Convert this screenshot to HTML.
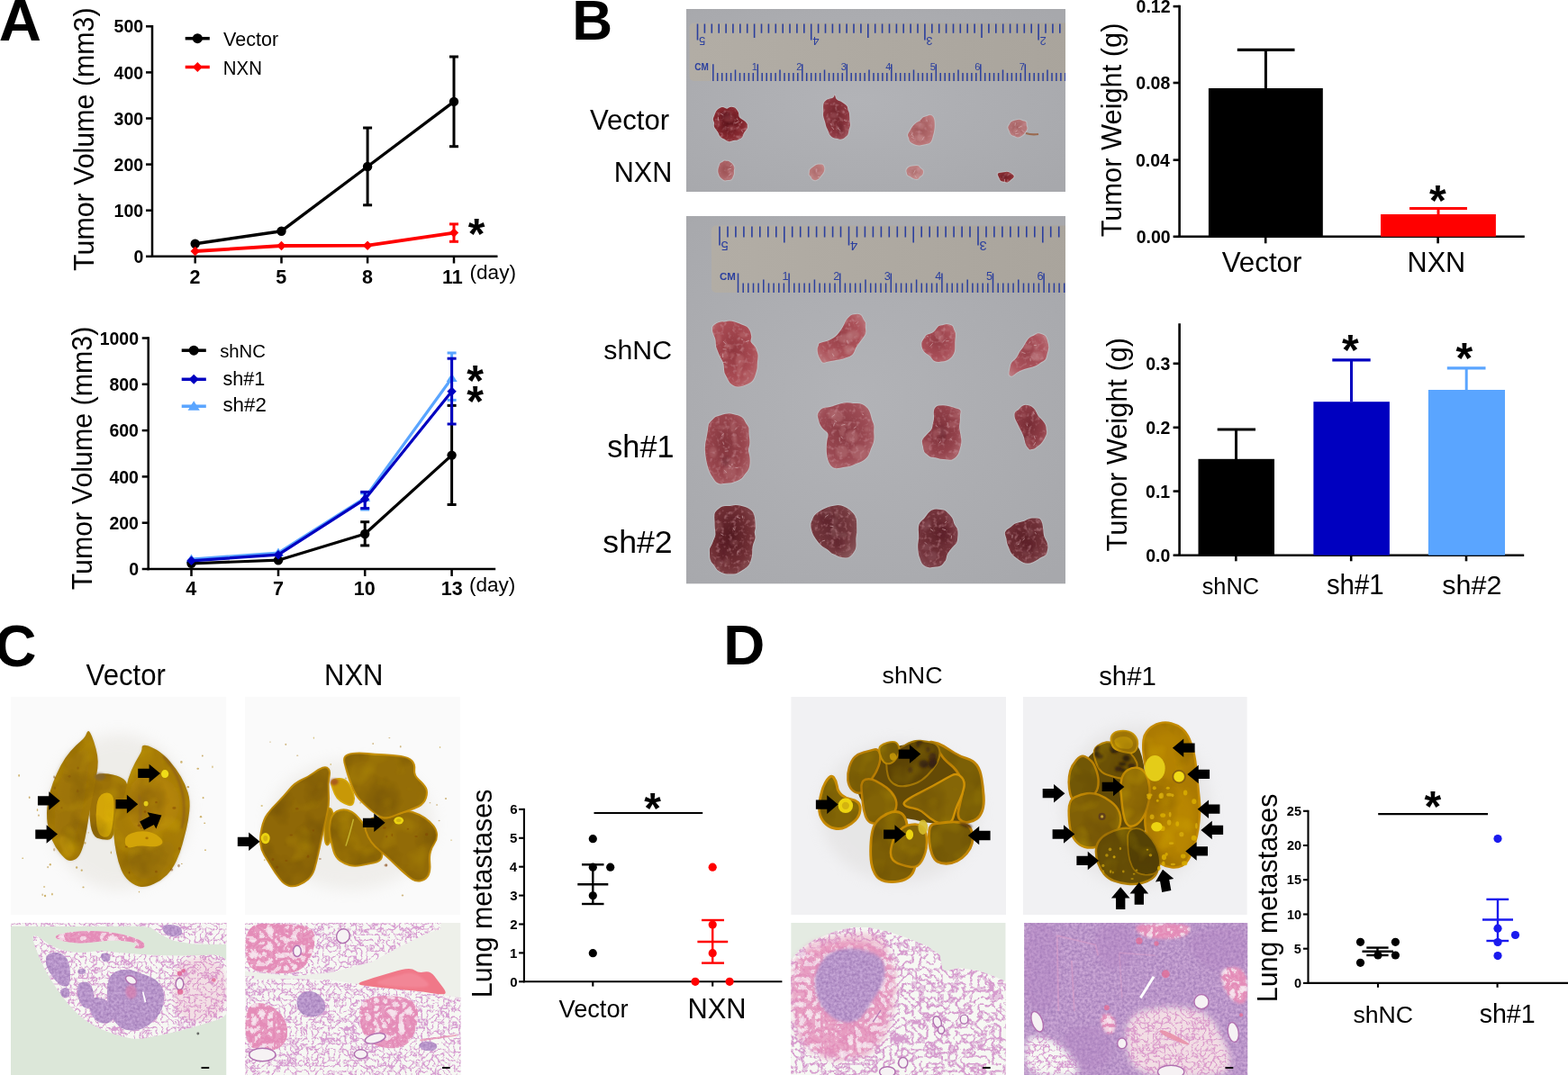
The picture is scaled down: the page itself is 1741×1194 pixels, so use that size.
<!DOCTYPE html><html><head><meta charset="utf-8"><title>Figure</title><style>html,body{margin:0;padding:0;background:#fff;}svg{display:block}</style></head><body>
<svg xmlns="http://www.w3.org/2000/svg" width="1741" height="1194" viewBox="0 0 1741 1194" font-family="Liberation Sans, Arial, sans-serif">
<defs><filter id="bl1" x="-20%" y="-20%" width="140%" height="140%"><feGaussianBlur stdDeviation="1"/></filter><filter id="bl2" x="-20%" y="-20%" width="140%" height="140%"><feGaussianBlur stdDeviation="2"/></filter><filter id="bl6" x="-50%" y="-50%" width="200%" height="200%"><feGaussianBlur stdDeviation="6"/></filter><filter id="bl10" x="-50%" y="-50%" width="200%" height="200%"><feGaussianBlur stdDeviation="10"/></filter></defs>
<rect x="0" y="0" width="1741" height="1194" fill="#fff"/>
<text font-size="65.30" font-weight="bold" fill="#000" transform="translate(-1.16,44.60) scale(1,1.000)">A</text>
<text font-size="62.13" font-weight="bold" fill="#000" transform="translate(635.25,44.20) scale(1,1.000)">B</text>
<text font-size="64.00" font-weight="bold" fill="#000" transform="translate(-5.86,739.90) scale(1,1.000)">C</text>
<text font-size="63.77" font-weight="bold" fill="#000" transform="translate(803.14,738.00) scale(1,1.000)">D</text>
<line x1="169" y1="28.1" x2="169" y2="286.1" stroke="#000" stroke-width="2.5" stroke-linecap="butt"/>
<line x1="162" y1="284.8" x2="169" y2="284.8" stroke="#000" stroke-width="2.5" stroke-linecap="butt"/>
<text font-size="19.50" font-weight="bold" fill="#000" transform="translate(148.46,291.90) scale(1,1.040)">0</text>
<line x1="162" y1="233.7" x2="169" y2="233.7" stroke="#000" stroke-width="2.5" stroke-linecap="butt"/>
<text font-size="19.50" font-weight="bold" fill="#000" transform="translate(126.62,240.80) scale(1,1.040)">100</text>
<line x1="162" y1="182.6" x2="169" y2="182.6" stroke="#000" stroke-width="2.5" stroke-linecap="butt"/>
<text font-size="19.50" font-weight="bold" fill="#000" transform="translate(126.62,189.70) scale(1,1.040)">200</text>
<line x1="162" y1="131.5" x2="169" y2="131.5" stroke="#000" stroke-width="2.5" stroke-linecap="butt"/>
<text font-size="19.50" font-weight="bold" fill="#000" transform="translate(126.62,138.60) scale(1,1.040)">300</text>
<line x1="162" y1="80.4" x2="169" y2="80.4" stroke="#000" stroke-width="2.5" stroke-linecap="butt"/>
<text font-size="19.50" font-weight="bold" fill="#000" transform="translate(126.62,87.50) scale(1,1.040)">400</text>
<line x1="162" y1="29.3" x2="169" y2="29.3" stroke="#000" stroke-width="2.5" stroke-linecap="butt"/>
<text font-size="19.50" font-weight="bold" fill="#000" transform="translate(126.62,36.40) scale(1,1.040)">500</text>
<line x1="167.8" y1="284.8" x2="552.5" y2="284.8" stroke="#000" stroke-width="2.5" stroke-linecap="butt"/>
<line x1="216.7" y1="284.8" x2="216.7" y2="292.5" stroke="#000" stroke-width="2.5" stroke-linecap="butt"/>
<line x1="312.5" y1="284.8" x2="312.5" y2="292.5" stroke="#000" stroke-width="2.5" stroke-linecap="butt"/>
<line x1="408.1" y1="284.8" x2="408.1" y2="292.5" stroke="#000" stroke-width="2.5" stroke-linecap="butt"/>
<line x1="504" y1="284.8" x2="504" y2="292.5" stroke="#000" stroke-width="2.5" stroke-linecap="butt"/>
<text font-size="21.50" font-weight="bold" fill="#000" transform="translate(210.39,315.30) scale(1,1.060)">2</text>
<text font-size="21.50" font-weight="bold" fill="#000" transform="translate(306.28,315.30) scale(1,1.060)">5</text>
<text font-size="21.50" font-weight="bold" fill="#000" transform="translate(401.98,315.30) scale(1,1.060)">8</text>
<text font-size="21.50" font-weight="bold" fill="#000" transform="translate(491.03,315.30) scale(1,1.060)">11</text>
<text font-size="22.59" fill="#000" transform="translate(521.54,310.00) scale(1,1.000)">(day)</text>
<text font-size="30.39" transform="translate(103.90,300.91) rotate(-90) scale(1,1.044)">Tumor Volume (mm3)</text>
<line x1="205.7" y1="42.7" x2="232.8" y2="42.7" stroke="#000" stroke-width="3.5" stroke-linecap="butt"/>
<circle cx="219.3" cy="42.7" r="5.5" fill="#000"/>
<text font-size="21.53" fill="#000" transform="translate(248.08,50.90) scale(1,1.037)">Vector</text>
<line x1="205.7" y1="74.5" x2="232.8" y2="74.5" stroke="#f00" stroke-width="3.5" stroke-linecap="butt"/>
<polygon points="219.3,69 224.8,74.5 219.3,80 213.8,74.5" fill="#f00"/>
<text font-size="20.36" fill="#000" transform="translate(247.87,82.80) scale(1,1.068)">NXN</text>
<line x1="408.1" y1="142" x2="408.1" y2="227.8" stroke="#000" stroke-width="3" stroke-linecap="butt"/>
<line x1="403.1" y1="142" x2="413.1" y2="142" stroke="#000" stroke-width="3" stroke-linecap="butt"/>
<line x1="403.1" y1="227.8" x2="413.1" y2="227.8" stroke="#000" stroke-width="3" stroke-linecap="butt"/>
<line x1="504" y1="63" x2="504" y2="162.7" stroke="#000" stroke-width="3" stroke-linecap="butt"/>
<line x1="499" y1="63" x2="509" y2="63" stroke="#000" stroke-width="3" stroke-linecap="butt"/>
<line x1="499" y1="162.7" x2="509" y2="162.7" stroke="#000" stroke-width="3" stroke-linecap="butt"/>
<polyline points="216.7,270.8 312.5,256.7 408.1,185 504,112.9" fill="none" stroke="#000" stroke-width="3.4" stroke-linejoin="round"/>
<circle cx="216.7" cy="270.8" r="5.2" fill="#000"/>
<circle cx="312.5" cy="256.7" r="5.2" fill="#000"/>
<circle cx="408.1" cy="185" r="5.2" fill="#000"/>
<circle cx="504" cy="112.9" r="5.2" fill="#000"/>
<line x1="504" y1="248.9" x2="504" y2="268.3" stroke="#f00" stroke-width="3" stroke-linecap="butt"/>
<line x1="499" y1="248.9" x2="509" y2="248.9" stroke="#f00" stroke-width="3" stroke-linecap="butt"/>
<line x1="499" y1="268.3" x2="509" y2="268.3" stroke="#f00" stroke-width="3" stroke-linecap="butt"/>
<polyline points="216.7,279 312.5,273 408.1,272.7 504,258.6" fill="none" stroke="#f00" stroke-width="3.8" stroke-linejoin="round"/>
<polygon points="216.7,273.8 221.9,279 216.7,284.2 211.5,279" fill="#f00"/>
<polygon points="312.5,267.8 317.7,273 312.5,278.2 307.3,273" fill="#f00"/>
<polygon points="408.1,267.5 413.3,272.7 408.1,277.9 402.9,272.7" fill="#f00"/>
<polygon points="504,253.4 509.2,258.6 504,263.8 498.8,258.6" fill="#f00"/>
<text x="529" y="275.8" font-size="48" font-weight="bold" text-anchor="middle" fill="#000">*</text>
<line x1="164.7" y1="374.2" x2="164.7" y2="633.2" stroke="#000" stroke-width="2.5" stroke-linecap="butt"/>
<line x1="157.7" y1="632" x2="164.7" y2="632" stroke="#000" stroke-width="2.5" stroke-linecap="butt"/>
<text font-size="19.50" font-weight="bold" fill="#000" transform="translate(143.25,639.10) scale(1,1.040)">0</text>
<line x1="157.7" y1="580.7" x2="164.7" y2="580.7" stroke="#000" stroke-width="2.5" stroke-linecap="butt"/>
<text font-size="19.50" font-weight="bold" fill="#000" transform="translate(121.41,587.80) scale(1,1.040)">200</text>
<line x1="157.7" y1="529.4" x2="164.7" y2="529.4" stroke="#000" stroke-width="2.5" stroke-linecap="butt"/>
<text font-size="19.50" font-weight="bold" fill="#000" transform="translate(121.41,536.50) scale(1,1.040)">400</text>
<line x1="157.7" y1="478.1" x2="164.7" y2="478.1" stroke="#000" stroke-width="2.5" stroke-linecap="butt"/>
<text font-size="19.50" font-weight="bold" fill="#000" transform="translate(121.41,485.20) scale(1,1.040)">600</text>
<line x1="157.7" y1="426.8" x2="164.7" y2="426.8" stroke="#000" stroke-width="2.5" stroke-linecap="butt"/>
<text font-size="19.50" font-weight="bold" fill="#000" transform="translate(121.41,433.90) scale(1,1.040)">800</text>
<line x1="157.7" y1="375.5" x2="164.7" y2="375.5" stroke="#000" stroke-width="2.5" stroke-linecap="butt"/>
<text font-size="19.50" font-weight="bold" fill="#000" transform="translate(110.69,382.60) scale(1,1.040)">1000</text>
<line x1="163.4" y1="632" x2="550.2" y2="632" stroke="#000" stroke-width="2.5" stroke-linecap="butt"/>
<line x1="212.5" y1="632" x2="212.5" y2="640" stroke="#000" stroke-width="2.5" stroke-linecap="butt"/>
<line x1="309" y1="632" x2="309" y2="640" stroke="#000" stroke-width="2.5" stroke-linecap="butt"/>
<line x1="405.2" y1="632" x2="405.2" y2="640" stroke="#000" stroke-width="2.5" stroke-linecap="butt"/>
<line x1="501.6" y1="632" x2="501.6" y2="640" stroke="#000" stroke-width="2.5" stroke-linecap="butt"/>
<text font-size="21.50" font-weight="bold" fill="#000" transform="translate(206.37,661.00) scale(1,1.060)">4</text>
<text font-size="21.50" font-weight="bold" fill="#000" transform="translate(303.09,661.00) scale(1,1.060)">7</text>
<text font-size="21.50" font-weight="bold" fill="#000" transform="translate(392.85,661.00) scale(1,1.060)">10</text>
<text font-size="21.50" font-weight="bold" fill="#000" transform="translate(489.75,661.00) scale(1,1.060)">13</text>
<text font-size="22.59" fill="#000" transform="translate(520.94,657.00) scale(1,1.000)">(day)</text>
<text font-size="30.39" transform="translate(102.00,655.31) rotate(-90) scale(1,1.025)">Tumor Volume (mm3)</text>
<line x1="201.7" y1="389.2" x2="228.8" y2="389.2" stroke="#000" stroke-width="3.5" stroke-linecap="butt"/>
<circle cx="215.2" cy="389.2" r="5.5" fill="#000"/>
<text font-size="20.29" fill="#000" transform="translate(244.19,397.30) scale(1,1.026)">shNC</text>
<line x1="201.7" y1="421.3" x2="228.8" y2="421.3" stroke="#0000c0" stroke-width="3.5" stroke-linecap="butt"/>
<polygon points="215.2,415.8 220.7,421.3 215.2,426.8 209.7,421.3" fill="#0000c0"/>
<text font-size="21.60" fill="#000" transform="translate(247.45,428.10) scale(1,1.000)">sh#1</text>
<line x1="201.7" y1="451.2" x2="228.8" y2="451.2" stroke="#5aa5ff" stroke-width="3.5" stroke-linecap="butt"/>
<polygon points="215.2,445.2 221.8,455.7 208.6,455.7" fill="#5aa5ff"/>
<text font-size="22.30" fill="#000" transform="translate(247.43,456.60) scale(1,1.000)">sh#2</text>
<line x1="405.2" y1="579.7" x2="405.2" y2="605.9" stroke="#000" stroke-width="3" stroke-linecap="butt"/>
<line x1="400.2" y1="579.7" x2="410.2" y2="579.7" stroke="#000" stroke-width="3" stroke-linecap="butt"/>
<line x1="400.2" y1="605.9" x2="410.2" y2="605.9" stroke="#000" stroke-width="3" stroke-linecap="butt"/>
<line x1="501.6" y1="450.4" x2="501.6" y2="560.5" stroke="#000" stroke-width="3" stroke-linecap="butt"/>
<line x1="496.6" y1="450.4" x2="506.6" y2="450.4" stroke="#000" stroke-width="3" stroke-linecap="butt"/>
<line x1="496.6" y1="560.5" x2="506.6" y2="560.5" stroke="#000" stroke-width="3" stroke-linecap="butt"/>
<line x1="501.6" y1="392" x2="501.6" y2="444.4" stroke="#5aa5ff" stroke-width="3" stroke-linecap="butt"/>
<line x1="496.6" y1="392" x2="506.6" y2="392" stroke="#5aa5ff" stroke-width="3" stroke-linecap="butt"/>
<line x1="496.6" y1="444.4" x2="506.6" y2="444.4" stroke="#5aa5ff" stroke-width="3" stroke-linecap="butt"/>
<line x1="405.2" y1="548" x2="405.2" y2="566" stroke="#5aa5ff" stroke-width="3" stroke-linecap="butt"/>
<line x1="400.2" y1="548" x2="410.2" y2="548" stroke="#5aa5ff" stroke-width="3" stroke-linecap="butt"/>
<line x1="400.2" y1="566" x2="410.2" y2="566" stroke="#5aa5ff" stroke-width="3" stroke-linecap="butt"/>
<polyline points="212.5,621 309,614 405.2,553 501.6,420" fill="none" stroke="#5aa5ff" stroke-width="3.2" stroke-linejoin="round"/>
<polygon points="212.5,615.5 218.6,625.1 206.4,625.1" fill="#5aa5ff"/>
<polygon points="309,608.5 315.1,618.1 302.9,618.1" fill="#5aa5ff"/>
<polygon points="405.2,547.5 411.2,557.1 399.1,557.1" fill="#5aa5ff"/>
<polygon points="501.6,414.5 507.7,424.1 495.6,424.1" fill="#5aa5ff"/>
<polyline points="212.5,625.8 309,622.2 405.2,593 501.6,505.6" fill="none" stroke="#000" stroke-width="3.2" stroke-linejoin="round"/>
<circle cx="212.5" cy="625.8" r="5.2" fill="#000"/>
<circle cx="309" cy="622.2" r="5.2" fill="#000"/>
<circle cx="405.2" cy="593" r="5.2" fill="#000"/>
<circle cx="501.6" cy="505.6" r="5.2" fill="#000"/>
<line x1="501.6" y1="398.2" x2="501.6" y2="471" stroke="#0000c0" stroke-width="3" stroke-linecap="butt"/>
<line x1="496.6" y1="398.2" x2="506.6" y2="398.2" stroke="#0000c0" stroke-width="3" stroke-linecap="butt"/>
<line x1="496.6" y1="471" x2="506.6" y2="471" stroke="#0000c0" stroke-width="3" stroke-linecap="butt"/>
<line x1="405.2" y1="546.4" x2="405.2" y2="564.6" stroke="#0000c0" stroke-width="3" stroke-linecap="butt"/>
<line x1="400.2" y1="546.4" x2="410.2" y2="546.4" stroke="#0000c0" stroke-width="3" stroke-linecap="butt"/>
<line x1="400.2" y1="564.6" x2="410.2" y2="564.6" stroke="#0000c0" stroke-width="3" stroke-linecap="butt"/>
<polyline points="212.5,622.8 309,616.2 405.2,554.4 501.6,434.7" fill="none" stroke="#0000c0" stroke-width="3.2" stroke-linejoin="round"/>
<polygon points="212.5,617.6 217.7,622.8 212.5,628 207.3,622.8" fill="#0000c0"/>
<polygon points="309,611 314.2,616.2 309,621.4 303.8,616.2" fill="#0000c0"/>
<polygon points="405.2,549.2 410.4,554.4 405.2,559.6 400,554.4" fill="#0000c0"/>
<polygon points="501.6,429.5 506.8,434.7 501.6,439.9 496.4,434.7" fill="#0000c0"/>
<text x="527.7" y="438.5" font-size="48" font-weight="bold" text-anchor="middle" fill="#000">*</text>
<text x="527.7" y="461.6" font-size="48" font-weight="bold" text-anchor="middle" fill="#000">*</text>
<line x1="1309.6" y1="5.8" x2="1309.6" y2="264.1" stroke="#000" stroke-width="2.6" stroke-linecap="butt"/>
<line x1="1302.6" y1="262.8" x2="1309.6" y2="262.8" stroke="#000" stroke-width="2.6" stroke-linecap="butt"/>
<text font-size="19.50" font-weight="bold" fill="#000" transform="translate(1261.75,269.90) scale(1,1.040)">0.00</text>
<line x1="1302.6" y1="177.7" x2="1309.6" y2="177.7" stroke="#000" stroke-width="2.6" stroke-linecap="butt"/>
<text font-size="19.50" font-weight="bold" fill="#000" transform="translate(1260.97,184.80) scale(1,1.040)">0.04</text>
<line x1="1302.6" y1="92" x2="1309.6" y2="92" stroke="#000" stroke-width="2.6" stroke-linecap="butt"/>
<text font-size="19.50" font-weight="bold" fill="#000" transform="translate(1261.36,99.10) scale(1,1.040)">0.08</text>
<line x1="1302.6" y1="7.1" x2="1309.6" y2="7.1" stroke="#000" stroke-width="2.6" stroke-linecap="butt"/>
<text font-size="19.50" font-weight="bold" fill="#000" transform="translate(1261.56,14.20) scale(1,1.040)">0.12</text>
<line x1="1308.3" y1="262.8" x2="1692.8" y2="262.8" stroke="#000" stroke-width="2.6" stroke-linecap="butt"/>
<line x1="1405.2" y1="262.8" x2="1405.2" y2="270.3" stroke="#000" stroke-width="2.6" stroke-linecap="butt"/>
<line x1="1596.6" y1="262.8" x2="1596.6" y2="270.3" stroke="#000" stroke-width="2.6" stroke-linecap="butt"/>
<line x1="1405.4" y1="55.3" x2="1405.4" y2="98" stroke="#000" stroke-width="3" stroke-linecap="butt"/>
<line x1="1373.8" y1="55.3" x2="1437.5" y2="55.3" stroke="#000" stroke-width="3.2" stroke-linecap="butt"/>
<rect x="1341.9" y="98" width="126.9" height="164.8" fill="#000"/>
<line x1="1597" y1="231.5" x2="1597" y2="238" stroke="#f00" stroke-width="3" stroke-linecap="butt"/>
<line x1="1565" y1="231.5" x2="1629" y2="231.5" stroke="#f00" stroke-width="3.2" stroke-linecap="butt"/>
<rect x="1533" y="238" width="127.9" height="24.8" fill="#f00"/>
<text x="1596.4" y="239" font-size="48" font-weight="bold" text-anchor="middle" fill="#000">*</text>
<text font-size="31.32" fill="#000" transform="translate(1356.69,302.20) scale(1,1.027)">Vector</text>
<text font-size="30.62" fill="#000" transform="translate(1562.55,302.20) scale(1,1.051)">NXN</text>
<text font-size="30.80" transform="translate(1244.70,263.32) rotate(-90) scale(1,1.021)">Tumor Weight (g)</text>
<line x1="1309.6" y1="359.2" x2="1309.6" y2="618" stroke="#000" stroke-width="2.6" stroke-linecap="butt"/>
<line x1="1302.6" y1="616.7" x2="1309.6" y2="616.7" stroke="#000" stroke-width="2.6" stroke-linecap="butt"/>
<text font-size="19.50" font-weight="bold" fill="#000" transform="translate(1272.27,623.80) scale(1,1.040)">0.0</text>
<line x1="1302.6" y1="545.6" x2="1309.6" y2="545.6" stroke="#000" stroke-width="2.6" stroke-linecap="butt"/>
<text font-size="19.50" font-weight="bold" fill="#000" transform="translate(1272.08,552.70) scale(1,1.040)">0.1</text>
<line x1="1302.6" y1="474.8" x2="1309.6" y2="474.8" stroke="#000" stroke-width="2.6" stroke-linecap="butt"/>
<text font-size="19.50" font-weight="bold" fill="#000" transform="translate(1272.27,481.90) scale(1,1.040)">0.2</text>
<line x1="1302.6" y1="403.8" x2="1309.6" y2="403.8" stroke="#000" stroke-width="2.6" stroke-linecap="butt"/>
<text font-size="19.50" font-weight="bold" fill="#000" transform="translate(1272.27,410.90) scale(1,1.040)">0.3</text>
<line x1="1308.3" y1="616.7" x2="1692.2" y2="616.7" stroke="#000" stroke-width="2.6" stroke-linecap="butt"/>
<line x1="1372.3" y1="616.7" x2="1372.3" y2="623.3" stroke="#000" stroke-width="2.6" stroke-linecap="butt"/>
<line x1="1500.2" y1="616.7" x2="1500.2" y2="623.3" stroke="#000" stroke-width="2.6" stroke-linecap="butt"/>
<line x1="1628" y1="616.7" x2="1628" y2="623.3" stroke="#000" stroke-width="2.6" stroke-linecap="butt"/>
<line x1="1372.5" y1="477" x2="1372.5" y2="510" stroke="#000" stroke-width="3" stroke-linecap="butt"/>
<line x1="1351.7" y1="477" x2="1394" y2="477" stroke="#000" stroke-width="3.2" stroke-linecap="butt"/>
<rect x="1330.5" y="509.8" width="84.5" height="106.9" fill="#000"/>
<line x1="1500.5" y1="399.9" x2="1500.5" y2="446.2" stroke="#0000c0" stroke-width="3" stroke-linecap="butt"/>
<line x1="1479.3" y1="399.9" x2="1521.7" y2="399.9" stroke="#0000c0" stroke-width="3.2" stroke-linecap="butt"/>
<rect x="1458.4" y="446.2" width="84.5" height="170.5" fill="#0000c0"/>
<line x1="1628.2" y1="408.8" x2="1628.2" y2="433" stroke="#5aa5ff" stroke-width="3" stroke-linecap="butt"/>
<line x1="1606.8" y1="408.8" x2="1649.5" y2="408.8" stroke="#5aa5ff" stroke-width="3.2" stroke-linecap="butt"/>
<rect x="1585.9" y="433" width="85.1" height="183.7" fill="#5aa5ff"/>
<text x="1499.4" y="405.4" font-size="48" font-weight="bold" text-anchor="middle" fill="#000">*</text>
<text x="1625.9" y="414.4" font-size="48" font-weight="bold" text-anchor="middle" fill="#000">*</text>
<text font-size="25.35" fill="#000" transform="translate(1334.64,659.70) scale(1,1.011)">shNC</text>
<text font-size="29.40" fill="#000" transform="translate(1472.92,659.70) scale(1,1.040)">sh#1</text>
<text font-size="30.48" fill="#000" transform="translate(1601.29,659.70) scale(1,0.993)">sh#2</text>
<text font-size="30.76" transform="translate(1251.00,612.42) rotate(-90) scale(1,1.027)">Tumor Weight (g)</text>
<line x1="581.9" y1="897.9" x2="581.9" y2="1091.3" stroke="#000" stroke-width="2.1" stroke-linecap="butt"/>
<line x1="576.1" y1="1090.3" x2="581.9" y2="1090.3" stroke="#000" stroke-width="2.1" stroke-linecap="butt"/>
<text font-size="15.00" font-weight="bold" fill="#000" transform="translate(566.35,1095.55) scale(1,1.000)">0</text>
<line x1="576.1" y1="1058.4" x2="581.9" y2="1058.4" stroke="#000" stroke-width="2.1" stroke-linecap="butt"/>
<text font-size="15.00" font-weight="bold" fill="#000" transform="translate(566.05,1063.65) scale(1,1.000)">1</text>
<line x1="576.1" y1="1026.5" x2="581.9" y2="1026.5" stroke="#000" stroke-width="2.1" stroke-linecap="butt"/>
<text font-size="15.00" font-weight="bold" fill="#000" transform="translate(566.20,1031.75) scale(1,1.000)">2</text>
<line x1="576.1" y1="994.6" x2="581.9" y2="994.6" stroke="#000" stroke-width="2.1" stroke-linecap="butt"/>
<text font-size="15.00" font-weight="bold" fill="#000" transform="translate(566.20,999.85) scale(1,1.000)">3</text>
<line x1="576.1" y1="962.7" x2="581.9" y2="962.7" stroke="#000" stroke-width="2.1" stroke-linecap="butt"/>
<text font-size="15.00" font-weight="bold" fill="#000" transform="translate(565.75,967.95) scale(1,1.000)">4</text>
<line x1="576.1" y1="930.8" x2="581.9" y2="930.8" stroke="#000" stroke-width="2.1" stroke-linecap="butt"/>
<text font-size="15.00" font-weight="bold" fill="#000" transform="translate(566.05,936.05) scale(1,1.000)">5</text>
<line x1="576.1" y1="898.9" x2="581.9" y2="898.9" stroke="#000" stroke-width="2.1" stroke-linecap="butt"/>
<text font-size="15.00" font-weight="bold" fill="#000" transform="translate(566.20,904.15) scale(1,1.000)">6</text>
<line x1="580.9" y1="1090.3" x2="868.4" y2="1090.3" stroke="#000" stroke-width="2.1" stroke-linecap="butt"/>
<line x1="658.3" y1="1090.3" x2="658.3" y2="1095.6" stroke="#000" stroke-width="2.1" stroke-linecap="butt"/>
<line x1="791.2" y1="1090.3" x2="791.2" y2="1095.6" stroke="#000" stroke-width="2.1" stroke-linecap="butt"/>
<circle cx="658.3" cy="931.7" r="4.6" fill="#000"/>
<circle cx="658.3" cy="963.2" r="4.6" fill="#000"/>
<circle cx="677.7" cy="963.2" r="4.6" fill="#000"/>
<circle cx="658.3" cy="994.8" r="4.6" fill="#000"/>
<circle cx="658.3" cy="1058.7" r="4.6" fill="#000"/>
<line x1="641.3" y1="982.2" x2="675.3" y2="982.2" stroke="#000" stroke-width="2.4" stroke-linecap="butt"/>
<line x1="658.3" y1="960.3" x2="658.3" y2="1004" stroke="#000" stroke-width="2.4" stroke-linecap="butt"/>
<line x1="646" y1="960.3" x2="670.5" y2="960.3" stroke="#000" stroke-width="2.4" stroke-linecap="butt"/>
<line x1="646" y1="1004" x2="670.5" y2="1004" stroke="#000" stroke-width="2.4" stroke-linecap="butt"/>
<circle cx="791.2" cy="963.2" r="4.6" fill="#f00"/>
<circle cx="791.2" cy="1027.1" r="4.6" fill="#f00"/>
<circle cx="791.2" cy="1058.7" r="4.6" fill="#f00"/>
<circle cx="772" cy="1090.3" r="4.6" fill="#f00"/>
<circle cx="810.1" cy="1090.3" r="4.6" fill="#f00"/>
<line x1="774.4" y1="1046" x2="808.2" y2="1046" stroke="#f00" stroke-width="2.4" stroke-linecap="butt"/>
<line x1="791.2" y1="1022" x2="791.2" y2="1069.6" stroke="#f00" stroke-width="2.4" stroke-linecap="butt"/>
<line x1="779" y1="1022" x2="804" y2="1022" stroke="#f00" stroke-width="2.4" stroke-linecap="butt"/>
<line x1="779" y1="1069.6" x2="804" y2="1069.6" stroke="#f00" stroke-width="2.4" stroke-linecap="butt"/>
<line x1="659.5" y1="903" x2="780.2" y2="903" stroke="#000" stroke-width="2.2" stroke-linecap="butt"/>
<text x="724.5" y="913.6" font-size="48" font-weight="bold" text-anchor="middle" fill="#000">*</text>
<text font-size="27.19" fill="#000" transform="translate(620.53,1129.70) scale(1,1.034)">Vector</text>
<text font-size="30.82" fill="#000" transform="translate(763.43,1131.30) scale(1,1.039)">NXN</text>
<text font-size="30.43" transform="translate(546.00,1108.23) rotate(-90) scale(1,1.038)">Lung metastases</text>
<line x1="1452.5" y1="899.8" x2="1452.5" y2="1093" stroke="#000" stroke-width="2.1" stroke-linecap="butt"/>
<line x1="1447" y1="1091.9" x2="1452.5" y2="1091.9" stroke="#000" stroke-width="2.1" stroke-linecap="butt"/>
<text font-size="14.50" font-weight="bold" fill="#000" transform="translate(1437.11,1096.98) scale(1,1.000)">0</text>
<line x1="1447" y1="1053.7" x2="1452.5" y2="1053.7" stroke="#000" stroke-width="2.1" stroke-linecap="butt"/>
<text font-size="14.50" font-weight="bold" fill="#000" transform="translate(1436.82,1058.76) scale(1,1.000)">5</text>
<line x1="1447" y1="1015.5" x2="1452.5" y2="1015.5" stroke="#000" stroke-width="2.1" stroke-linecap="butt"/>
<text font-size="14.50" font-weight="bold" fill="#000" transform="translate(1428.99,1020.54) scale(1,1.000)">10</text>
<line x1="1447" y1="977.2" x2="1452.5" y2="977.2" stroke="#000" stroke-width="2.1" stroke-linecap="butt"/>
<text font-size="14.50" font-weight="bold" fill="#000" transform="translate(1428.84,982.32) scale(1,1.000)">15</text>
<line x1="1447" y1="939" x2="1452.5" y2="939" stroke="#000" stroke-width="2.1" stroke-linecap="butt"/>
<text font-size="14.50" font-weight="bold" fill="#000" transform="translate(1428.99,944.10) scale(1,1.000)">20</text>
<line x1="1447" y1="900.8" x2="1452.5" y2="900.8" stroke="#000" stroke-width="2.1" stroke-linecap="butt"/>
<text font-size="14.50" font-weight="bold" fill="#000" transform="translate(1428.84,905.88) scale(1,1.000)">25</text>
<line x1="1451.5" y1="1091.9" x2="1741" y2="1091.9" stroke="#000" stroke-width="2.1" stroke-linecap="butt"/>
<line x1="1530" y1="1091.9" x2="1530" y2="1096.8" stroke="#000" stroke-width="2.1" stroke-linecap="butt"/>
<line x1="1662.6" y1="1091.9" x2="1662.6" y2="1096.8" stroke="#000" stroke-width="2.1" stroke-linecap="butt"/>
<circle cx="1510.5" cy="1046.3" r="4.6" fill="#000"/>
<circle cx="1549.4" cy="1046.3" r="4.6" fill="#000"/>
<circle cx="1530" cy="1061" r="4.6" fill="#000"/>
<circle cx="1549.4" cy="1061" r="4.6" fill="#000"/>
<circle cx="1510.5" cy="1069.3" r="4.6" fill="#000"/>
<line x1="1512.5" y1="1056.7" x2="1547" y2="1056.7" stroke="#000" stroke-width="2.4" stroke-linecap="butt"/>
<line x1="1529.5" y1="1052.6" x2="1529.5" y2="1061" stroke="#000" stroke-width="2.4" stroke-linecap="butt"/>
<line x1="1517.3" y1="1052.6" x2="1541.6" y2="1052.6" stroke="#000" stroke-width="2.4" stroke-linecap="butt"/>
<line x1="1517.3" y1="1061" x2="1541.6" y2="1061" stroke="#000" stroke-width="2.4" stroke-linecap="butt"/>
<circle cx="1663" cy="931.6" r="4.6" fill="#1a1aee"/>
<circle cx="1663" cy="1031.2" r="4.6" fill="#1a1aee"/>
<circle cx="1682.5" cy="1038.5" r="4.6" fill="#1a1aee"/>
<circle cx="1663" cy="1046.5" r="4.6" fill="#1a1aee"/>
<circle cx="1663" cy="1061.6" r="4.6" fill="#1a1aee"/>
<line x1="1646" y1="1021.5" x2="1680" y2="1021.5" stroke="#1a1aee" stroke-width="2.4" stroke-linecap="butt"/>
<line x1="1663" y1="998.9" x2="1663" y2="1045" stroke="#1a1aee" stroke-width="2.4" stroke-linecap="butt"/>
<line x1="1650.4" y1="998.9" x2="1675.2" y2="998.9" stroke="#1a1aee" stroke-width="2.4" stroke-linecap="butt"/>
<line x1="1650.4" y1="1045" x2="1675.2" y2="1045" stroke="#1a1aee" stroke-width="2.4" stroke-linecap="butt"/>
<line x1="1530.2" y1="904.2" x2="1652" y2="904.2" stroke="#000" stroke-width="2.2" stroke-linecap="butt"/>
<text x="1590.9" y="912.4" font-size="48" font-weight="bold" text-anchor="middle" fill="#000">*</text>
<text font-size="26.67" fill="#000" transform="translate(1502.40,1135.70) scale(1,0.991)">shNC</text>
<text font-size="28.60" fill="#000" transform="translate(1642.64,1135.70) scale(1,1.030)">sh#1</text>
<text font-size="30.43" transform="translate(1417.80,1113.23) rotate(-90) scale(1,1.029)">Lung metastases</text>
<text font-size="31.14" fill="#000" transform="translate(654.89,144.30) scale(1,1.010)">Vector</text>
<text font-size="30.62" fill="#000" transform="translate(681.75,202.10) scale(1,1.018)">NXN</text>
<text font-size="30.33" fill="#000" transform="translate(670.29,398.70) scale(1,0.971)">shNC</text>
<text font-size="34.20" fill="#000" transform="translate(674.27,507.70) scale(1,1.030)">sh#1</text>
<text font-size="35.69" fill="#000" transform="translate(669.33,614.20) scale(1,0.998)">sh#2</text>
<text font-size="31.14" fill="#000" transform="translate(95.59,760.80) scale(1,1.038)">Vector</text>
<text font-size="31.03" fill="#000" transform="translate(360.02,760.80) scale(1,1.042)">NXN</text>
<text font-size="26.75" fill="#000" transform="translate(979.60,758.50) scale(1,0.968)">shNC</text>
<text font-size="29.30" fill="#000" transform="translate(1220.22,760.80) scale(1,1.030)">sh#1</text>
<filter id="ftum" x="0" y="0" width="1" height="1" color-interpolation-filters="sRGB"><feTurbulence type="fractalNoise" baseFrequency="0.22" numOctaves="2" seed="12" result="n"/><feColorMatrix in="n" type="matrix" values="0 0 0 0 0  0 0 0 0 0  0 0 0 0 0  3 0 0 0 -1.55" result="a"/><feFlood flood-color="#c89098"/><feComposite operator="in" in2="a"/></filter>
<radialGradient id="pbg" cx="45%" cy="50%" r="70%"><stop offset="0" stop-color="#b2b3b7"/><stop offset="1" stop-color="#a7a8ac"/></radialGradient>
<linearGradient id="rulg" x1="0" y1="0" x2="1" y2="0"><stop offset="0" stop-color="#b2ada5"/><stop offset="0.5" stop-color="#aea9a1"/><stop offset="1" stop-color="#a9a49c"/></linearGradient>
<clipPath id="pb1"><rect x="762" y="10" width="421" height="203"/></clipPath>
<clipPath id="pb2"><rect x="762" y="240" width="421" height="408.6"/></clipPath>
<g clip-path="url(#pb1)">
<rect x="762" y="10" width="421" height="203" fill="url(#pbg)"/>
<rect x="765.5" y="25.5" width="428" height="64.5" rx="5" fill="url(#rulg)"/>
<text x="776" y="40.7" font-size="12.9" fill="#2b3f9e" transform="rotate(180 776 40.7)" text-anchor="end">5</text>
<text x="902.2" y="40.7" font-size="12.9" fill="#2b3f9e" transform="rotate(180 902.2 40.7)" text-anchor="end">4</text>
<text x="1028.4" y="40.7" font-size="12.9" fill="#2b3f9e" transform="rotate(180 1028.4 40.7)" text-anchor="end">3</text>
<text x="1154.6" y="40.7" font-size="12.9" fill="#2b3f9e" transform="rotate(180 1154.6 40.7)" text-anchor="end">2</text>
<path d="M774.5,26.5v18.1M782.4,26.5v10.3M790.3,26.5v10.3M798.2,26.5v10.3M806.1,26.5v10.3M813.9,26.5v10.3M821.8,26.5v10.3M829.7,26.5v10.3M837.6,26.5v15.5M845.5,26.5v10.3M853.4,26.5v10.3M861.3,26.5v10.3M869.2,26.5v10.3M877,26.5v10.3M884.9,26.5v10.3M892.8,26.5v10.3M900.7,26.5v18.1M908.6,26.5v10.3M916.5,26.5v10.3M924.4,26.5v10.3M932.3,26.5v10.3M940.1,26.5v10.3M948,26.5v10.3M955.9,26.5v10.3M963.8,26.5v15.5M971.7,26.5v10.3M979.6,26.5v10.3M987.5,26.5v10.3M995.4,26.5v10.3M1003.2,26.5v10.3M1011.1,26.5v10.3M1019,26.5v10.3M1026.9,26.5v18.1M1034.8,26.5v10.3M1042.7,26.5v10.3M1050.6,26.5v10.3M1058.5,26.5v10.3M1066.3,26.5v10.3M1074.2,26.5v10.3M1082.1,26.5v10.3M1090,26.5v15.5M1097.9,26.5v10.3M1105.8,26.5v10.3M1113.7,26.5v10.3M1121.6,26.5v10.3M1129.4,26.5v10.3M1137.3,26.5v10.3M1145.2,26.5v10.3M1153.1,26.5v18.1M1161,26.5v10.3M1168.9,26.5v10.3M1176.8,26.5v10.3" stroke="#2b3f9e" stroke-width="1.6" fill="none"/>
<text x="840.8" y="77.7" font-size="11" fill="#2b3f9e" text-anchor="end">1</text>
<text x="890.3" y="77.7" font-size="11" fill="#2b3f9e" text-anchor="end">2</text>
<text x="939.8" y="77.7" font-size="11" fill="#2b3f9e" text-anchor="end">3</text>
<text x="989.3" y="77.7" font-size="11" fill="#2b3f9e" text-anchor="end">4</text>
<text x="1038.8" y="77.7" font-size="11" fill="#2b3f9e" text-anchor="end">5</text>
<text x="1088.3" y="77.7" font-size="11" fill="#2b3f9e" text-anchor="end">6</text>
<text x="1137.8" y="77.7" font-size="11" fill="#2b3f9e" text-anchor="end">7</text>
<path d="M791.8,90v-18.7M796.7,90v-9M801.7,90v-9M806.6,90v-9M811.6,90v-9M816.5,90v-12.6M821.5,90v-9M826.4,90v-9M831.4,90v-9M836.3,90v-9M841.3,90v-18.7M846.2,90v-9M851.2,90v-9M856.1,90v-9M861.1,90v-9M866,90v-12.6M871,90v-9M875.9,90v-9M880.9,90v-9M885.8,90v-9M890.8,90v-18.7M895.7,90v-9M900.7,90v-9M905.6,90v-9M910.6,90v-9M915.5,90v-12.6M920.5,90v-9M925.4,90v-9M930.4,90v-9M935.3,90v-9M940.3,90v-18.7M945.2,90v-9M950.2,90v-9M955.1,90v-9M960.1,90v-9M965,90v-12.6M970,90v-9M974.9,90v-9M979.9,90v-9M984.8,90v-9M989.8,90v-18.7M994.7,90v-9M999.7,90v-9M1004.6,90v-9M1009.6,90v-9M1014.5,90v-12.6M1019.5,90v-9M1024.4,90v-9M1029.4,90v-9M1034.3,90v-9M1039.3,90v-18.7M1044.2,90v-9M1049.2,90v-9M1054.1,90v-9M1059.1,90v-9M1064,90v-12.6M1069,90v-9M1073.9,90v-9M1078.9,90v-9M1083.8,90v-9M1088.8,90v-18.7M1093.7,90v-9M1098.7,90v-9M1103.6,90v-9M1108.6,90v-9M1113.5,90v-12.6M1118.5,90v-9M1123.4,90v-9M1128.4,90v-9M1133.3,90v-9M1138.3,90v-18.7M1143.2,90v-9M1148.2,90v-9M1153.1,90v-9M1158.1,90v-9M1163,90v-12.6M1168,90v-9M1172.9,90v-9M1177.9,90v-9M1182.8,90v-9" stroke="#2b3f9e" stroke-width="1.5" fill="none"/>
<text x="771.2" y="77.7" font-size="10" fill="#2b3f9e" font-weight="bold">CM</text>
<radialGradient id="tg1" cx="45%" cy="45%" r="65%"><stop offset="0" stop-color="#5a131a"/><stop offset="0.65" stop-color="#85282f"/><stop offset="1" stop-color="#9a454b"/></radialGradient>
<clipPath id="tc2"><path d="M791.9,131.4Q792.4,130 793.2,128.2Q793.9,126.3 794.7,124.5Q795.5,122.7 796.7,121.7Q797.9,120.7 799.3,119.9Q800.7,119.1 802,119Q803.2,118.9 805.1,120Q806.9,121.2 807.9,120.5Q808.9,119.8 810,119.2Q811,118.6 812.3,118.8Q813.6,118.9 814.9,119.3Q816.2,119.6 817.3,121Q818.5,122.4 819.4,124.1Q820.3,125.8 820.3,127.4Q820.3,128.9 820.8,129.9Q821.4,131 823,132Q824.7,133 826.1,134.1Q827.6,135.2 828.5,136.2Q829.4,137.2 829.8,138.3Q830.1,139.3 830,141Q829.8,142.7 828.7,144.1Q827.6,145.5 826.4,147Q825.3,148.5 824.9,150.6Q824.5,152.7 822.8,153.4Q821.2,154 819.7,154.9Q818.3,155.8 816.4,155.8Q814.5,155.7 812.7,156.5Q811,157.4 809.4,157.3Q807.8,157.1 806.3,156Q804.8,154.8 803.1,154.1Q801.3,153.4 800,152Q798.6,150.7 798,148.5Q797.4,146.4 795.9,144.9Q794.5,143.4 793.5,141.8Q792.4,140.1 792.9,138.1Q793.4,136.2 792.4,134.5Q791.5,132.8 791.9,131.4Z"/></clipPath>
<path d="M791.9,131.4Q792.4,130 793.2,128.2Q793.9,126.3 794.7,124.5Q795.5,122.7 796.7,121.7Q797.9,120.7 799.3,119.9Q800.7,119.1 802,119Q803.2,118.9 805.1,120Q806.9,121.2 807.9,120.5Q808.9,119.8 810,119.2Q811,118.6 812.3,118.8Q813.6,118.9 814.9,119.3Q816.2,119.6 817.3,121Q818.5,122.4 819.4,124.1Q820.3,125.8 820.3,127.4Q820.3,128.9 820.8,129.9Q821.4,131 823,132Q824.7,133 826.1,134.1Q827.6,135.2 828.5,136.2Q829.4,137.2 829.8,138.3Q830.1,139.3 830,141Q829.8,142.7 828.7,144.1Q827.6,145.5 826.4,147Q825.3,148.5 824.9,150.6Q824.5,152.7 822.8,153.4Q821.2,154 819.7,154.9Q818.3,155.8 816.4,155.8Q814.5,155.7 812.7,156.5Q811,157.4 809.4,157.3Q807.8,157.1 806.3,156Q804.8,154.8 803.1,154.1Q801.3,153.4 800,152Q798.6,150.7 798,148.5Q797.4,146.4 795.9,144.9Q794.5,143.4 793.5,141.8Q792.4,140.1 792.9,138.1Q793.4,136.2 792.4,134.5Q791.5,132.8 791.9,131.4Z" fill="none" stroke="#c4c4c8" stroke-width="2" opacity="0.7"/>
<path d="M791.9,131.4Q792.4,130 793.2,128.2Q793.9,126.3 794.7,124.5Q795.5,122.7 796.7,121.7Q797.9,120.7 799.3,119.9Q800.7,119.1 802,119Q803.2,118.9 805.1,120Q806.9,121.2 807.9,120.5Q808.9,119.8 810,119.2Q811,118.6 812.3,118.8Q813.6,118.9 814.9,119.3Q816.2,119.6 817.3,121Q818.5,122.4 819.4,124.1Q820.3,125.8 820.3,127.4Q820.3,128.9 820.8,129.9Q821.4,131 823,132Q824.7,133 826.1,134.1Q827.6,135.2 828.5,136.2Q829.4,137.2 829.8,138.3Q830.1,139.3 830,141Q829.8,142.7 828.7,144.1Q827.6,145.5 826.4,147Q825.3,148.5 824.9,150.6Q824.5,152.7 822.8,153.4Q821.2,154 819.7,154.9Q818.3,155.8 816.4,155.8Q814.5,155.7 812.7,156.5Q811,157.4 809.4,157.3Q807.8,157.1 806.3,156Q804.8,154.8 803.1,154.1Q801.3,153.4 800,152Q798.6,150.7 798,148.5Q797.4,146.4 795.9,144.9Q794.5,143.4 793.5,141.8Q792.4,140.1 792.9,138.1Q793.4,136.2 792.4,134.5Q791.5,132.8 791.9,131.4Z" fill="url(#tg1)"/>
<g clip-path="url(#tc2)">
<ellipse cx="815.3" cy="141.4" rx="2.2" ry="1.2" fill="#9a454b" opacity="0.55" filter="url(#bl1)"/>
<ellipse cx="811.6" cy="125.2" rx="2.3" ry="1.9" fill="#9a454b" opacity="0.55" filter="url(#bl1)"/>
<ellipse cx="797.2" cy="136.9" rx="3.4" ry="3.8" fill="#9a454b" opacity="0.55" filter="url(#bl1)"/>
<ellipse cx="811.4" cy="142.1" rx="3.7" ry="3.2" fill="#9a454b" opacity="0.55" filter="url(#bl1)"/>
<ellipse cx="809.6" cy="131.5" rx="5.8" ry="4.3" fill="#9a454b" opacity="0.55" filter="url(#bl1)"/>
<ellipse cx="820.7" cy="144" rx="2.9" ry="1.9" fill="#9a454b" opacity="0.55" filter="url(#bl1)"/>
<ellipse cx="805.9" cy="128" rx="5.7" ry="3.5" fill="#5a1a28" opacity="0.5" filter="url(#bl2)"/>
<path d="M820.2,134.9 l-3.5,1.8" stroke="#d8b4b8" stroke-width="0.9" opacity="0.7" stroke-linecap="round"/>
<path d="M797.3,130.1 l0.4,3.8" stroke="#d8b4b8" stroke-width="0.9" opacity="0.7" stroke-linecap="round"/>
<path d="M823.8,135.2 l-0.7,1.5" stroke="#d8b4b8" stroke-width="0.9" opacity="0.7" stroke-linecap="round"/>
<path d="M818.3,131.7 l0.9,1.5" stroke="#d8b4b8" stroke-width="0.9" opacity="0.7" stroke-linecap="round"/>
<path d="M823.4,145 l1.3,1.3" stroke="#d8b4b8" stroke-width="0.9" opacity="0.7" stroke-linecap="round"/>
<path d="M800,126.1 l3,1.8" stroke="#d8b4b8" stroke-width="0.9" opacity="0.7" stroke-linecap="round"/>
<rect x="789.5" y="116.6" width="42.7" height="42.8" filter="url(#ftum)" opacity="0.55"/>
</g>
<radialGradient id="tg3" cx="45%" cy="45%" r="65%"><stop offset="0" stop-color="#6f242b"/><stop offset="0.65" stop-color="#8c3740"/><stop offset="1" stop-color="#a1575f"/></radialGradient>
<clipPath id="tc4"><path d="M914.2,116.6Q914.4,114.5 915.3,113.3Q916.3,112.1 917.4,111.2Q918.5,110.3 920.1,109.9Q921.6,109.5 923.2,109.2Q924.7,108.8 925.3,108.2Q925.9,107.6 926.3,106.4Q926.8,105.2 927,105.8Q927.3,106.4 927.6,107.8Q927.8,109.3 929.1,110.5Q930.4,111.7 931.7,112Q933,112.4 935.2,113.7Q937.5,115 939.4,116.8Q941.3,118.6 941.3,120.4Q941.3,122.2 942.1,123.5Q942.8,124.8 943,126.4Q943.1,127.9 943.2,129.5Q943.4,131 943.3,133Q943.3,134.9 943.9,137.1Q944.4,139.3 943.7,140.7Q943,142.1 942.7,143.8Q942.3,145.5 941.9,147.7Q941.6,149.9 940.4,150.8Q939.2,151.7 937.8,153Q936.4,154.3 934.7,154.5Q933,154.8 931.5,154.4Q929.9,153.9 928.4,153.8Q926.8,153.8 925.1,153.1Q923.4,152.4 922,150.5Q920.6,148.6 920,146.5Q919.4,144.5 918.5,142.9Q917.5,141.4 917,139.3Q916.6,137.2 916,135.1Q915.4,133.1 914.6,130.7Q913.7,128.4 914.1,126.1Q914.4,123.8 914.2,121.3Q913.9,118.8 914.2,116.6Z"/></clipPath>
<path d="M914.2,116.6Q914.4,114.5 915.3,113.3Q916.3,112.1 917.4,111.2Q918.5,110.3 920.1,109.9Q921.6,109.5 923.2,109.2Q924.7,108.8 925.3,108.2Q925.9,107.6 926.3,106.4Q926.8,105.2 927,105.8Q927.3,106.4 927.6,107.8Q927.8,109.3 929.1,110.5Q930.4,111.7 931.7,112Q933,112.4 935.2,113.7Q937.5,115 939.4,116.8Q941.3,118.6 941.3,120.4Q941.3,122.2 942.1,123.5Q942.8,124.8 943,126.4Q943.1,127.9 943.2,129.5Q943.4,131 943.3,133Q943.3,134.9 943.9,137.1Q944.4,139.3 943.7,140.7Q943,142.1 942.7,143.8Q942.3,145.5 941.9,147.7Q941.6,149.9 940.4,150.8Q939.2,151.7 937.8,153Q936.4,154.3 934.7,154.5Q933,154.8 931.5,154.4Q929.9,153.9 928.4,153.8Q926.8,153.8 925.1,153.1Q923.4,152.4 922,150.5Q920.6,148.6 920,146.5Q919.4,144.5 918.5,142.9Q917.5,141.4 917,139.3Q916.6,137.2 916,135.1Q915.4,133.1 914.6,130.7Q913.7,128.4 914.1,126.1Q914.4,123.8 914.2,121.3Q913.9,118.8 914.2,116.6Z" fill="none" stroke="#c4c4c8" stroke-width="2" opacity="0.7"/>
<path d="M914.2,116.6Q914.4,114.5 915.3,113.3Q916.3,112.1 917.4,111.2Q918.5,110.3 920.1,109.9Q921.6,109.5 923.2,109.2Q924.7,108.8 925.3,108.2Q925.9,107.6 926.3,106.4Q926.8,105.2 927,105.8Q927.3,106.4 927.6,107.8Q927.8,109.3 929.1,110.5Q930.4,111.7 931.7,112Q933,112.4 935.2,113.7Q937.5,115 939.4,116.8Q941.3,118.6 941.3,120.4Q941.3,122.2 942.1,123.5Q942.8,124.8 943,126.4Q943.1,127.9 943.2,129.5Q943.4,131 943.3,133Q943.3,134.9 943.9,137.1Q944.4,139.3 943.7,140.7Q943,142.1 942.7,143.8Q942.3,145.5 941.9,147.7Q941.6,149.9 940.4,150.8Q939.2,151.7 937.8,153Q936.4,154.3 934.7,154.5Q933,154.8 931.5,154.4Q929.9,153.9 928.4,153.8Q926.8,153.8 925.1,153.1Q923.4,152.4 922,150.5Q920.6,148.6 920,146.5Q919.4,144.5 918.5,142.9Q917.5,141.4 917,139.3Q916.6,137.2 916,135.1Q915.4,133.1 914.6,130.7Q913.7,128.4 914.1,126.1Q914.4,123.8 914.2,121.3Q913.9,118.8 914.2,116.6Z" fill="url(#tg3)"/>
<g clip-path="url(#tc4)">
<ellipse cx="919.9" cy="148.2" rx="2.2" ry="2.3" fill="#a1575f" opacity="0.55" filter="url(#bl1)"/>
<ellipse cx="935.3" cy="123.6" rx="2.4" ry="1.5" fill="#a1575f" opacity="0.55" filter="url(#bl1)"/>
<ellipse cx="919.6" cy="133.1" rx="2.3" ry="3.8" fill="#a1575f" opacity="0.55" filter="url(#bl1)"/>
<ellipse cx="926.1" cy="128.2" rx="4.5" ry="3.3" fill="#a1575f" opacity="0.55" filter="url(#bl1)"/>
<ellipse cx="930.8" cy="143.6" rx="2.1" ry="1.9" fill="#a1575f" opacity="0.55" filter="url(#bl1)"/>
<ellipse cx="938.5" cy="141.8" rx="2.3" ry="2" fill="#a1575f" opacity="0.55" filter="url(#bl1)"/>
<ellipse cx="933.5" cy="143.1" rx="2.7" ry="7.2" fill="#5a1a28" opacity="0.5" filter="url(#bl2)"/>
<path d="M937.3,133.6 l2.4,0.8" stroke="#d8b4b8" stroke-width="0.9" opacity="0.7" stroke-linecap="round"/>
<path d="M919.2,146.1 l-1.3,1.7" stroke="#d8b4b8" stroke-width="0.9" opacity="0.7" stroke-linecap="round"/>
<path d="M923.8,141.2 l1.8,2.4" stroke="#d8b4b8" stroke-width="0.9" opacity="0.7" stroke-linecap="round"/>
<path d="M922.1,137.6 l1.3,1.1" stroke="#d8b4b8" stroke-width="0.9" opacity="0.7" stroke-linecap="round"/>
<path d="M930.3,142.2 l1.9,2.3" stroke="#d8b4b8" stroke-width="0.9" opacity="0.7" stroke-linecap="round"/>
<path d="M938,119.7 l1,1.2" stroke="#d8b4b8" stroke-width="0.9" opacity="0.7" stroke-linecap="round"/>
<rect x="911.7" y="103.2" width="34.7" height="53.6" filter="url(#ftum)" opacity="0.55"/>
</g>
<radialGradient id="tg5" cx="45%" cy="45%" r="65%"><stop offset="0" stop-color="#9a4e51"/><stop offset="0.65" stop-color="#ac6467"/><stop offset="1" stop-color="#bd7f81"/></radialGradient>
<clipPath id="tc6"><path d="M797.3,188.7Q797.6,186.8 798.1,185.3Q798.6,183.7 799.1,182.2Q799.6,180.6 800.9,180.5Q802.2,180.3 803,179.2Q803.8,178.1 805.1,178.5Q806.4,179 807.7,178.8Q808.9,178.6 809.9,179.4Q810.9,180.3 812,181Q813.1,181.7 813.9,182.9Q814.7,184.1 815.2,185.5Q815.7,186.8 815.1,188.3Q814.6,189.8 814.9,191.4Q815.2,193.1 814.6,194.3Q814,195.5 813.5,196.9Q813.1,198.2 812,199.2Q810.9,200.2 809.4,200Q807.9,199.8 806.2,200.3Q804.5,200.8 803.1,199.8Q801.7,198.7 800.6,197.8Q799.5,196.9 798.8,195.5Q798.1,194.1 797.6,192.3Q797.1,190.6 797.3,188.7Z"/></clipPath>
<path d="M797.3,188.7Q797.6,186.8 798.1,185.3Q798.6,183.7 799.1,182.2Q799.6,180.6 800.9,180.5Q802.2,180.3 803,179.2Q803.8,178.1 805.1,178.5Q806.4,179 807.7,178.8Q808.9,178.6 809.9,179.4Q810.9,180.3 812,181Q813.1,181.7 813.9,182.9Q814.7,184.1 815.2,185.5Q815.7,186.8 815.1,188.3Q814.6,189.8 814.9,191.4Q815.2,193.1 814.6,194.3Q814,195.5 813.5,196.9Q813.1,198.2 812,199.2Q810.9,200.2 809.4,200Q807.9,199.8 806.2,200.3Q804.5,200.8 803.1,199.8Q801.7,198.7 800.6,197.8Q799.5,196.9 798.8,195.5Q798.1,194.1 797.6,192.3Q797.1,190.6 797.3,188.7Z" fill="none" stroke="#c4c4c8" stroke-width="2" opacity="0.7"/>
<path d="M797.3,188.7Q797.6,186.8 798.1,185.3Q798.6,183.7 799.1,182.2Q799.6,180.6 800.9,180.5Q802.2,180.3 803,179.2Q803.8,178.1 805.1,178.5Q806.4,179 807.7,178.8Q808.9,178.6 809.9,179.4Q810.9,180.3 812,181Q813.1,181.7 813.9,182.9Q814.7,184.1 815.2,185.5Q815.7,186.8 815.1,188.3Q814.6,189.8 814.9,191.4Q815.2,193.1 814.6,194.3Q814,195.5 813.5,196.9Q813.1,198.2 812,199.2Q810.9,200.2 809.4,200Q807.9,199.8 806.2,200.3Q804.5,200.8 803.1,199.8Q801.7,198.7 800.6,197.8Q799.5,196.9 798.8,195.5Q798.1,194.1 797.6,192.3Q797.1,190.6 797.3,188.7Z" fill="url(#tg5)"/>
<g clip-path="url(#tc6)">
<ellipse cx="807.6" cy="183.3" rx="1.5" ry="1.2" fill="#bd7f81" opacity="0.55" filter="url(#bl1)"/>
<ellipse cx="812.1" cy="192.8" rx="2.7" ry="1.2" fill="#bd7f81" opacity="0.55" filter="url(#bl1)"/>
<ellipse cx="808.3" cy="189.1" rx="2.4" ry="1.6" fill="#bd7f81" opacity="0.55" filter="url(#bl1)"/>
<path d="M812.9,182.7 l-1.9,2.1" stroke="#d8b4b8" stroke-width="0.9" opacity="0.7" stroke-linecap="round"/>
<path d="M811.6,193.2 l-2.6,2" stroke="#d8b4b8" stroke-width="0.9" opacity="0.7" stroke-linecap="round"/>
<path d="M811.8,187.1 l-3.1,1" stroke="#d8b4b8" stroke-width="0.9" opacity="0.7" stroke-linecap="round"/>
<rect x="795.1" y="176.1" width="22.6" height="26.7" filter="url(#ftum)" opacity="0.55"/>
</g>
<radialGradient id="tg7" cx="45%" cy="45%" r="65%"><stop offset="0" stop-color="#ac696a"/><stop offset="0.65" stop-color="#ba7b7b"/><stop offset="1" stop-color="#c89090"/></radialGradient>
<clipPath id="tc8"><path d="M898.6,192.1Q898.9,191 898.8,189.8Q898.8,188.5 899.9,187.7Q901,186.8 902,186.1Q903.1,185.3 904.1,184.5Q905.1,183.7 906.5,183Q907.8,182.2 909.1,182.5Q910.3,182.7 911.7,182.5Q913.1,182.3 913.7,183Q914.4,183.7 914.8,184.7Q915.3,185.6 915.4,186.7Q915.4,187.9 915.2,189.2Q915,190.4 914.2,191.7Q913.4,193.1 912.3,194.3Q911.2,195.5 910.2,196.9Q909.2,198.2 908.2,199Q907.2,199.7 906.2,200Q905.1,200.3 904,200Q902.8,199.7 901.9,199Q901,198.2 900.8,197.1Q900.7,196 899.8,195.6Q898.9,195.1 898.6,194.2Q898.3,193.2 898.6,192.1Z"/></clipPath>
<path d="M898.6,192.1Q898.9,191 898.8,189.8Q898.8,188.5 899.9,187.7Q901,186.8 902,186.1Q903.1,185.3 904.1,184.5Q905.1,183.7 906.5,183Q907.8,182.2 909.1,182.5Q910.3,182.7 911.7,182.5Q913.1,182.3 913.7,183Q914.4,183.7 914.8,184.7Q915.3,185.6 915.4,186.7Q915.4,187.9 915.2,189.2Q915,190.4 914.2,191.7Q913.4,193.1 912.3,194.3Q911.2,195.5 910.2,196.9Q909.2,198.2 908.2,199Q907.2,199.7 906.2,200Q905.1,200.3 904,200Q902.8,199.7 901.9,199Q901,198.2 900.8,197.1Q900.7,196 899.8,195.6Q898.9,195.1 898.6,194.2Q898.3,193.2 898.6,192.1Z" fill="none" stroke="#c4c4c8" stroke-width="2" opacity="0.7"/>
<path d="M898.6,192.1Q898.9,191 898.8,189.8Q898.8,188.5 899.9,187.7Q901,186.8 902,186.1Q903.1,185.3 904.1,184.5Q905.1,183.7 906.5,183Q907.8,182.2 909.1,182.5Q910.3,182.7 911.7,182.5Q913.1,182.3 913.7,183Q914.4,183.7 914.8,184.7Q915.3,185.6 915.4,186.7Q915.4,187.9 915.2,189.2Q915,190.4 914.2,191.7Q913.4,193.1 912.3,194.3Q911.2,195.5 910.2,196.9Q909.2,198.2 908.2,199Q907.2,199.7 906.2,200Q905.1,200.3 904,200Q902.8,199.7 901.9,199Q901,198.2 900.8,197.1Q900.7,196 899.8,195.6Q898.9,195.1 898.6,194.2Q898.3,193.2 898.6,192.1Z" fill="url(#tg7)"/>
<g clip-path="url(#tc8)">
<ellipse cx="913.2" cy="196.4" rx="2.3" ry="1.5" fill="#c89090" opacity="0.55" filter="url(#bl1)"/>
<ellipse cx="909.9" cy="192.4" rx="2" ry="1.9" fill="#c89090" opacity="0.55" filter="url(#bl1)"/>
<ellipse cx="901.5" cy="194.6" rx="1.5" ry="1.7" fill="#c89090" opacity="0.55" filter="url(#bl1)"/>
<path d="M906.7,187.8 l0,3.2" stroke="#d8b4b8" stroke-width="0.9" opacity="0.7" stroke-linecap="round"/>
<path d="M908.3,196.6 l2.1,0.1" stroke="#d8b4b8" stroke-width="0.9" opacity="0.7" stroke-linecap="round"/>
<rect x="896.3" y="180.2" width="21.1" height="22.1" filter="url(#ftum)" opacity="0.55"/>
</g>
<radialGradient id="tg9" cx="45%" cy="45%" r="65%"><stop offset="0" stop-color="#9e5457"/><stop offset="0.65" stop-color="#b36c6e"/><stop offset="1" stop-color="#c28587"/></radialGradient>
<clipPath id="tc10"><path d="M1008.3,151.6Q1007.4,149.9 1008.8,147.7Q1010.2,145.5 1011.3,143.4Q1012.4,141.2 1014,139.4Q1015.6,137.6 1017.7,136.3Q1019.9,134.9 1021.2,134Q1022.5,133.1 1023.7,131.5Q1024.9,129.9 1026.6,129.7Q1028.4,129.4 1030.4,128.4Q1032.4,127.4 1034,128.1Q1035.6,128.8 1036.5,130.6Q1037.4,132.4 1037.7,135.4Q1037.9,138.4 1037.7,141.7Q1037.4,144.9 1036.8,147.4Q1036.1,149.9 1035.5,152.4Q1034.9,154.9 1034,156.7Q1033.1,158.5 1031.5,159.2Q1029.9,159.9 1027.4,160.3Q1024.9,160.6 1022.4,161.3Q1019.9,161.9 1017.2,161.1Q1014.5,160.2 1012.2,158.8Q1009.9,157.4 1009.5,155.4Q1009.2,153.4 1008.3,151.6Z"/></clipPath>
<path d="M1008.3,151.6Q1007.4,149.9 1008.8,147.7Q1010.2,145.5 1011.3,143.4Q1012.4,141.2 1014,139.4Q1015.6,137.6 1017.7,136.3Q1019.9,134.9 1021.2,134Q1022.5,133.1 1023.7,131.5Q1024.9,129.9 1026.6,129.7Q1028.4,129.4 1030.4,128.4Q1032.4,127.4 1034,128.1Q1035.6,128.8 1036.5,130.6Q1037.4,132.4 1037.7,135.4Q1037.9,138.4 1037.7,141.7Q1037.4,144.9 1036.8,147.4Q1036.1,149.9 1035.5,152.4Q1034.9,154.9 1034,156.7Q1033.1,158.5 1031.5,159.2Q1029.9,159.9 1027.4,160.3Q1024.9,160.6 1022.4,161.3Q1019.9,161.9 1017.2,161.1Q1014.5,160.2 1012.2,158.8Q1009.9,157.4 1009.5,155.4Q1009.2,153.4 1008.3,151.6Z" fill="none" stroke="#c4c4c8" stroke-width="2" opacity="0.7"/>
<path d="M1008.3,151.6Q1007.4,149.9 1008.8,147.7Q1010.2,145.5 1011.3,143.4Q1012.4,141.2 1014,139.4Q1015.6,137.6 1017.7,136.3Q1019.9,134.9 1021.2,134Q1022.5,133.1 1023.7,131.5Q1024.9,129.9 1026.6,129.7Q1028.4,129.4 1030.4,128.4Q1032.4,127.4 1034,128.1Q1035.6,128.8 1036.5,130.6Q1037.4,132.4 1037.7,135.4Q1037.9,138.4 1037.7,141.7Q1037.4,144.9 1036.8,147.4Q1036.1,149.9 1035.5,152.4Q1034.9,154.9 1034,156.7Q1033.1,158.5 1031.5,159.2Q1029.9,159.9 1027.4,160.3Q1024.9,160.6 1022.4,161.3Q1019.9,161.9 1017.2,161.1Q1014.5,160.2 1012.2,158.8Q1009.9,157.4 1009.5,155.4Q1009.2,153.4 1008.3,151.6Z" fill="url(#tg9)"/>
<g clip-path="url(#tc10)">
<ellipse cx="1021.1" cy="152.6" rx="4.3" ry="3.5" fill="#c28587" opacity="0.55" filter="url(#bl1)"/>
<ellipse cx="1020" cy="146.8" rx="2.5" ry="1.6" fill="#c28587" opacity="0.55" filter="url(#bl1)"/>
<ellipse cx="1022.6" cy="153.4" rx="4.1" ry="3" fill="#c28587" opacity="0.55" filter="url(#bl1)"/>
<ellipse cx="1033" cy="138.9" rx="2" ry="2.4" fill="#c28587" opacity="0.55" filter="url(#bl1)"/>
<ellipse cx="1017.5" cy="137.3" rx="2.8" ry="2.8" fill="#c28587" opacity="0.55" filter="url(#bl1)"/>
<ellipse cx="1022.5" cy="139.9" rx="4.1" ry="3.7" fill="#c28587" opacity="0.55" filter="url(#bl1)"/>
<path d="M1021.6,134.4 l-1.5,0.6" stroke="#d8b4b8" stroke-width="0.9" opacity="0.7" stroke-linecap="round"/>
<path d="M1012.8,149.7 l1.7,2.4" stroke="#d8b4b8" stroke-width="0.9" opacity="0.7" stroke-linecap="round"/>
<path d="M1028.9,133.1 l0.3,1.8" stroke="#d8b4b8" stroke-width="0.9" opacity="0.7" stroke-linecap="round"/>
<path d="M1012.5,152.6 l1.9,0.9" stroke="#d8b4b8" stroke-width="0.9" opacity="0.7" stroke-linecap="round"/>
<path d="M1013,147.8 l-1,2.4" stroke="#d8b4b8" stroke-width="0.9" opacity="0.7" stroke-linecap="round"/>
<path d="M1026,152.1 l-2.1,3.3" stroke="#d8b4b8" stroke-width="0.9" opacity="0.7" stroke-linecap="round"/>
<rect x="1005.4" y="125.4" width="34.6" height="38.5" filter="url(#ftum)" opacity="0.55"/>
</g>
<radialGradient id="tg11" cx="45%" cy="45%" r="65%"><stop offset="0" stop-color="#a35d5f"/><stop offset="0.65" stop-color="#b47375"/><stop offset="1" stop-color="#c48a8a"/></radialGradient>
<clipPath id="tc12"><path d="M1119.7,143.3Q1118.6,141.2 1119.8,139.7Q1121,138.3 1121.7,136.6Q1122.3,134.9 1124.8,134.2Q1127.3,133.6 1129.8,133Q1132.3,132.4 1134,133.4Q1135.7,134.3 1137.7,134.6Q1139.8,134.9 1139.6,137Q1139.3,139.1 1140.2,140.8Q1141.1,142.4 1140.2,144Q1139.3,145.6 1138.3,147.1Q1137.3,148.7 1135.6,150.1Q1133.8,151.6 1131.8,152.2Q1129.8,152.9 1128.1,151.9Q1126.4,150.8 1124.3,150.4Q1122.3,149.9 1121.6,147.7Q1120.9,145.4 1119.7,143.3Z"/></clipPath>
<path d="M1119.7,143.3Q1118.6,141.2 1119.8,139.7Q1121,138.3 1121.7,136.6Q1122.3,134.9 1124.8,134.2Q1127.3,133.6 1129.8,133Q1132.3,132.4 1134,133.4Q1135.7,134.3 1137.7,134.6Q1139.8,134.9 1139.6,137Q1139.3,139.1 1140.2,140.8Q1141.1,142.4 1140.2,144Q1139.3,145.6 1138.3,147.1Q1137.3,148.7 1135.6,150.1Q1133.8,151.6 1131.8,152.2Q1129.8,152.9 1128.1,151.9Q1126.4,150.8 1124.3,150.4Q1122.3,149.9 1121.6,147.7Q1120.9,145.4 1119.7,143.3Z" fill="none" stroke="#c4c4c8" stroke-width="2" opacity="0.7"/>
<path d="M1119.7,143.3Q1118.6,141.2 1119.8,139.7Q1121,138.3 1121.7,136.6Q1122.3,134.9 1124.8,134.2Q1127.3,133.6 1129.8,133Q1132.3,132.4 1134,133.4Q1135.7,134.3 1137.7,134.6Q1139.8,134.9 1139.6,137Q1139.3,139.1 1140.2,140.8Q1141.1,142.4 1140.2,144Q1139.3,145.6 1138.3,147.1Q1137.3,148.7 1135.6,150.1Q1133.8,151.6 1131.8,152.2Q1129.8,152.9 1128.1,151.9Q1126.4,150.8 1124.3,150.4Q1122.3,149.9 1121.6,147.7Q1120.9,145.4 1119.7,143.3Z" fill="url(#tg11)"/>
<g clip-path="url(#tc12)">
<ellipse cx="1127.2" cy="145.7" rx="2.5" ry="1.8" fill="#c48a8a" opacity="0.55" filter="url(#bl1)"/>
<ellipse cx="1134.1" cy="141" rx="3" ry="2.2" fill="#c48a8a" opacity="0.55" filter="url(#bl1)"/>
<ellipse cx="1122.9" cy="149.3" rx="2.9" ry="1.3" fill="#c48a8a" opacity="0.55" filter="url(#bl1)"/>
<ellipse cx="1129" cy="144.6" rx="3.2" ry="1.6" fill="#c48a8a" opacity="0.55" filter="url(#bl1)"/>
<path d="M1130.9,148.1 l-3.4,0.6" stroke="#d8b4b8" stroke-width="0.9" opacity="0.7" stroke-linecap="round"/>
<path d="M1129.2,144.9 l-1.3,1.5" stroke="#d8b4b8" stroke-width="0.9" opacity="0.7" stroke-linecap="round"/>
<path d="M1134.8,144.7 l2.6,2" stroke="#d8b4b8" stroke-width="0.9" opacity="0.7" stroke-linecap="round"/>
<path d="M1136.1,149.6 l-0.5,3.9" stroke="#d8b4b8" stroke-width="0.9" opacity="0.7" stroke-linecap="round"/>
<path d="M1134.4,140.1 l-3.4,1.7" stroke="#d8b4b8" stroke-width="0.9" opacity="0.7" stroke-linecap="round"/>
<path d="M1127.4,136.7 l-0.4,2.6" stroke="#d8b4b8" stroke-width="0.9" opacity="0.7" stroke-linecap="round"/>
<rect x="1116.6" y="130.4" width="26.5" height="24.5" filter="url(#ftum)" opacity="0.55"/>
</g>
<path d="M1139,148 q6,2 14,1" stroke="#9a6a50" stroke-width="2.2" fill="none"/>
<radialGradient id="tg13" cx="45%" cy="45%" r="65%"><stop offset="0" stop-color="#af6f70"/><stop offset="0.65" stop-color="#bd8181"/><stop offset="1" stop-color="#cb9495"/></radialGradient>
<clipPath id="tc14"><path d="M1006.6,191.1Q1006.1,189.9 1006.6,188.4Q1007.2,186.9 1008.5,185.9Q1009.9,184.9 1012.4,184.5Q1014.9,184.1 1017.4,183.9Q1019.9,183.7 1020.7,185.3Q1021.5,186.9 1023.2,187.8Q1024.9,188.7 1025.1,190.2Q1025.3,191.8 1024.5,193.4Q1023.6,194.9 1022.3,195.5Q1021,196.1 1020.4,197.4Q1019.9,198.7 1018,198.9Q1016.2,199.1 1014.3,198.2Q1012.4,197.4 1011.4,196.6Q1010.4,195.7 1008.9,195.3Q1007.4,194.9 1007.2,193.6Q1007,192.4 1006.6,191.1Z"/></clipPath>
<path d="M1006.6,191.1Q1006.1,189.9 1006.6,188.4Q1007.2,186.9 1008.5,185.9Q1009.9,184.9 1012.4,184.5Q1014.9,184.1 1017.4,183.9Q1019.9,183.7 1020.7,185.3Q1021.5,186.9 1023.2,187.8Q1024.9,188.7 1025.1,190.2Q1025.3,191.8 1024.5,193.4Q1023.6,194.9 1022.3,195.5Q1021,196.1 1020.4,197.4Q1019.9,198.7 1018,198.9Q1016.2,199.1 1014.3,198.2Q1012.4,197.4 1011.4,196.6Q1010.4,195.7 1008.9,195.3Q1007.4,194.9 1007.2,193.6Q1007,192.4 1006.6,191.1Z" fill="none" stroke="#c4c4c8" stroke-width="2" opacity="0.7"/>
<path d="M1006.6,191.1Q1006.1,189.9 1006.6,188.4Q1007.2,186.9 1008.5,185.9Q1009.9,184.9 1012.4,184.5Q1014.9,184.1 1017.4,183.9Q1019.9,183.7 1020.7,185.3Q1021.5,186.9 1023.2,187.8Q1024.9,188.7 1025.1,190.2Q1025.3,191.8 1024.5,193.4Q1023.6,194.9 1022.3,195.5Q1021,196.1 1020.4,197.4Q1019.9,198.7 1018,198.9Q1016.2,199.1 1014.3,198.2Q1012.4,197.4 1011.4,196.6Q1010.4,195.7 1008.9,195.3Q1007.4,194.9 1007.2,193.6Q1007,192.4 1006.6,191.1Z" fill="url(#tg13)"/>
<g clip-path="url(#tc14)">
<ellipse cx="1019.9" cy="187.2" rx="1.7" ry="1.6" fill="#cb9495" opacity="0.55" filter="url(#bl1)"/>
<ellipse cx="1018.9" cy="195.3" rx="2.4" ry="2" fill="#cb9495" opacity="0.55" filter="url(#bl1)"/>
<ellipse cx="1015.6" cy="196.6" rx="1.6" ry="1.4" fill="#cb9495" opacity="0.55" filter="url(#bl1)"/>
<path d="M1016.1,189.1 l-1.4,3" stroke="#d8b4b8" stroke-width="0.9" opacity="0.7" stroke-linecap="round"/>
<path d="M1016,195.1 l1.6,2.4" stroke="#d8b4b8" stroke-width="0.9" opacity="0.7" stroke-linecap="round"/>
<rect x="1004.1" y="181.7" width="23.2" height="19.4" filter="url(#ftum)" opacity="0.55"/>
</g>
<radialGradient id="tg15" cx="45%" cy="45%" r="65%"><stop offset="0" stop-color="#6d1e26"/><stop offset="0.65" stop-color="#892d32"/><stop offset="1" stop-color="#9e484d"/></radialGradient>
<clipPath id="tc16"><path d="M1107.8,194Q1107.3,192.4 1109.2,192.1Q1111.2,191.9 1113,191.5Q1114.8,191.2 1116.9,190.9Q1119,190.7 1120.7,191.6Q1122.3,192.4 1123.9,193.4Q1125.5,194.4 1125.8,195.6Q1126.1,196.9 1124.5,197.9Q1123,198.8 1122,200Q1121.1,201.2 1119.7,201.9Q1118.2,202.7 1116.5,202.3Q1114.8,201.9 1113,201.6Q1111.2,201.3 1110.5,200Q1109.8,198.7 1109.1,197.1Q1108.3,195.5 1107.8,194Z"/></clipPath>
<path d="M1107.8,194Q1107.3,192.4 1109.2,192.1Q1111.2,191.9 1113,191.5Q1114.8,191.2 1116.9,190.9Q1119,190.7 1120.7,191.6Q1122.3,192.4 1123.9,193.4Q1125.5,194.4 1125.8,195.6Q1126.1,196.9 1124.5,197.9Q1123,198.8 1122,200Q1121.1,201.2 1119.7,201.9Q1118.2,202.7 1116.5,202.3Q1114.8,201.9 1113,201.6Q1111.2,201.3 1110.5,200Q1109.8,198.7 1109.1,197.1Q1108.3,195.5 1107.8,194Z" fill="none" stroke="#c4c4c8" stroke-width="2" opacity="0.7"/>
<path d="M1107.8,194Q1107.3,192.4 1109.2,192.1Q1111.2,191.9 1113,191.5Q1114.8,191.2 1116.9,190.9Q1119,190.7 1120.7,191.6Q1122.3,192.4 1123.9,193.4Q1125.5,194.4 1125.8,195.6Q1126.1,196.9 1124.5,197.9Q1123,198.8 1122,200Q1121.1,201.2 1119.7,201.9Q1118.2,202.7 1116.5,202.3Q1114.8,201.9 1113,201.6Q1111.2,201.3 1110.5,200Q1109.8,198.7 1109.1,197.1Q1108.3,195.5 1107.8,194Z" fill="url(#tg15)"/>
<g clip-path="url(#tc16)">
<ellipse cx="1117.7" cy="194" rx="2.2" ry="1.6" fill="#9e484d" opacity="0.55" filter="url(#bl1)"/>
<ellipse cx="1118.2" cy="192.5" rx="2.8" ry="1.6" fill="#9e484d" opacity="0.55" filter="url(#bl1)"/>
<path d="M1115.4,199.2 l0.1,2.9" stroke="#d8b4b8" stroke-width="0.9" opacity="0.7" stroke-linecap="round"/>
<rect x="1105.3" y="188.7" width="22.7" height="16" filter="url(#ftum)" opacity="0.55"/>
</g>
</g>
<g clip-path="url(#pb2)">
<rect x="762" y="240" width="421" height="408.6" fill="url(#pbg)"/>
<rect x="790" y="250.5" width="403.5" height="74.5" rx="5" fill="url(#rulg)"/>
<text x="800.5" y="268" font-size="14.9" fill="#2b3f9e" transform="rotate(180 800.5 268)" text-anchor="end">5</text>
<text x="944" y="268" font-size="14.9" fill="#2b3f9e" transform="rotate(180 944 268)" text-anchor="end">4</text>
<text x="1087.5" y="268" font-size="14.9" fill="#2b3f9e" transform="rotate(180 1087.5 268)" text-anchor="end">3</text>
<path d="M799,251.5v20.9M808,251.5v11.9M816.9,251.5v11.9M825.9,251.5v11.9M834.9,251.5v11.9M843.8,251.5v11.9M852.8,251.5v11.9M861.8,251.5v11.9M870.8,251.5v17.9M879.7,251.5v11.9M888.7,251.5v11.9M897.7,251.5v11.9M906.6,251.5v11.9M915.6,251.5v11.9M924.6,251.5v11.9M933.5,251.5v11.9M942.5,251.5v20.9M951.5,251.5v11.9M960.4,251.5v11.9M969.4,251.5v11.9M978.4,251.5v11.9M987.3,251.5v11.9M996.3,251.5v11.9M1005.3,251.5v11.9M1014.2,251.5v17.9M1023.2,251.5v11.9M1032.2,251.5v11.9M1041.2,251.5v11.9M1050.1,251.5v11.9M1059.1,251.5v11.9M1068.1,251.5v11.9M1077,251.5v11.9M1086,251.5v20.9M1095,251.5v11.9M1103.9,251.5v11.9M1112.9,251.5v11.9M1121.9,251.5v11.9M1130.8,251.5v11.9M1139.8,251.5v11.9M1148.8,251.5v11.9M1157.8,251.5v17.9M1166.7,251.5v11.9M1175.7,251.5v11.9" stroke="#2b3f9e" stroke-width="1.6" fill="none"/>
<text x="875.6" y="310.8" font-size="12.7" fill="#2b3f9e" text-anchor="end">1</text>
<text x="932.2" y="310.8" font-size="12.7" fill="#2b3f9e" text-anchor="end">2</text>
<text x="988.8" y="310.8" font-size="12.7" fill="#2b3f9e" text-anchor="end">3</text>
<text x="1045.4" y="310.8" font-size="12.7" fill="#2b3f9e" text-anchor="end">4</text>
<text x="1102" y="310.8" font-size="12.7" fill="#2b3f9e" text-anchor="end">5</text>
<text x="1158.6" y="310.8" font-size="12.7" fill="#2b3f9e" text-anchor="end">6</text>
<path d="M819.5,325v-21.6M825.2,325v-10.4M830.8,325v-10.4M836.5,325v-10.4M842.1,325v-10.4M847.8,325v-14.5M853.5,325v-10.4M859.1,325v-10.4M864.8,325v-10.4M870.4,325v-10.4M876.1,325v-21.6M881.8,325v-10.4M887.4,325v-10.4M893.1,325v-10.4M898.7,325v-10.4M904.4,325v-14.5M910.1,325v-10.4M915.7,325v-10.4M921.4,325v-10.4M927,325v-10.4M932.7,325v-21.6M938.4,325v-10.4M944,325v-10.4M949.7,325v-10.4M955.3,325v-10.4M961,325v-14.5M966.7,325v-10.4M972.3,325v-10.4M978,325v-10.4M983.6,325v-10.4M989.3,325v-21.6M995,325v-10.4M1000.6,325v-10.4M1006.3,325v-10.4M1011.9,325v-10.4M1017.6,325v-14.5M1023.3,325v-10.4M1028.9,325v-10.4M1034.6,325v-10.4M1040.2,325v-10.4M1045.9,325v-21.6M1051.6,325v-10.4M1057.2,325v-10.4M1062.9,325v-10.4M1068.5,325v-10.4M1074.2,325v-14.5M1079.9,325v-10.4M1085.5,325v-10.4M1091.2,325v-10.4M1096.8,325v-10.4M1102.5,325v-21.6M1108.2,325v-10.4M1113.8,325v-10.4M1119.5,325v-10.4M1125.1,325v-10.4M1130.8,325v-14.5M1136.5,325v-10.4M1142.1,325v-10.4M1147.8,325v-10.4M1153.4,325v-10.4M1159.1,325v-21.6M1164.8,325v-10.4M1170.4,325v-10.4M1176.1,325v-10.4M1181.7,325v-10.4" stroke="#2b3f9e" stroke-width="1.5" fill="none"/>
<text x="799" y="310.8" font-size="11.5" fill="#2b3f9e" font-weight="bold">CM</text>
<radialGradient id="tg17" cx="45%" cy="45%" r="65%"><stop offset="0" stop-color="#90373f"/><stop offset="0.65" stop-color="#a84b53"/><stop offset="1" stop-color="#ba6c70"/></radialGradient>
<clipPath id="tc18"><path d="M791.1,363.5Q791.5,361.8 793.6,360.4Q795.7,358.9 798.2,358.1Q800.7,357.2 803.2,357.4Q805.6,357.6 807.7,356.8Q809.9,356.1 812.7,356.8Q815.6,357.5 818.5,358.5Q821.4,359.5 823.4,360.4Q825.4,361.3 827.4,362.1Q829.4,363 831,364.7Q832.5,366.3 833.3,369.3Q834,372.2 834.2,373.4Q834.5,374.7 833.7,376.9Q832.8,379.1 834.1,380.6Q835.3,382.1 836.9,383.4Q838.6,384.8 839.5,387.4Q840.4,390 841.2,392.6Q842,395.1 841.4,398.4Q840.7,401.6 840.8,405.3Q840.9,408.9 840,411.8Q839.2,414.7 838.3,417.5Q837.4,420.4 836,422.3Q834.5,424.3 832.5,425.2Q830.5,426.2 827.2,427.7Q823.9,429.2 820.3,429.4Q816.8,429.6 815,428.5Q813.3,427.4 811.6,426.2Q809.9,425 808.5,422Q807.1,419 805.6,416.2Q804.1,413.5 804,410.4Q803.9,407.2 803.5,404.6Q803,402 801.3,399.3Q799.6,396.5 798.4,393.5Q797.2,390.5 796,387.5Q794.7,384.5 794.8,381.8Q794.9,379.1 794.4,377Q793.9,374.9 792.7,372.4Q791.5,369.9 791.1,367.5Q790.8,365.2 791.1,363.5Z"/></clipPath>
<path d="M791.1,363.5Q791.5,361.8 793.6,360.4Q795.7,358.9 798.2,358.1Q800.7,357.2 803.2,357.4Q805.6,357.6 807.7,356.8Q809.9,356.1 812.7,356.8Q815.6,357.5 818.5,358.5Q821.4,359.5 823.4,360.4Q825.4,361.3 827.4,362.1Q829.4,363 831,364.7Q832.5,366.3 833.3,369.3Q834,372.2 834.2,373.4Q834.5,374.7 833.7,376.9Q832.8,379.1 834.1,380.6Q835.3,382.1 836.9,383.4Q838.6,384.8 839.5,387.4Q840.4,390 841.2,392.6Q842,395.1 841.4,398.4Q840.7,401.6 840.8,405.3Q840.9,408.9 840,411.8Q839.2,414.7 838.3,417.5Q837.4,420.4 836,422.3Q834.5,424.3 832.5,425.2Q830.5,426.2 827.2,427.7Q823.9,429.2 820.3,429.4Q816.8,429.6 815,428.5Q813.3,427.4 811.6,426.2Q809.9,425 808.5,422Q807.1,419 805.6,416.2Q804.1,413.5 804,410.4Q803.9,407.2 803.5,404.6Q803,402 801.3,399.3Q799.6,396.5 798.4,393.5Q797.2,390.5 796,387.5Q794.7,384.5 794.8,381.8Q794.9,379.1 794.4,377Q793.9,374.9 792.7,372.4Q791.5,369.9 791.1,367.5Q790.8,365.2 791.1,363.5Z" fill="none" stroke="#c4c4c8" stroke-width="2" opacity="0.7"/>
<path d="M791.1,363.5Q791.5,361.8 793.6,360.4Q795.7,358.9 798.2,358.1Q800.7,357.2 803.2,357.4Q805.6,357.6 807.7,356.8Q809.9,356.1 812.7,356.8Q815.6,357.5 818.5,358.5Q821.4,359.5 823.4,360.4Q825.4,361.3 827.4,362.1Q829.4,363 831,364.7Q832.5,366.3 833.3,369.3Q834,372.2 834.2,373.4Q834.5,374.7 833.7,376.9Q832.8,379.1 834.1,380.6Q835.3,382.1 836.9,383.4Q838.6,384.8 839.5,387.4Q840.4,390 841.2,392.6Q842,395.1 841.4,398.4Q840.7,401.6 840.8,405.3Q840.9,408.9 840,411.8Q839.2,414.7 838.3,417.5Q837.4,420.4 836,422.3Q834.5,424.3 832.5,425.2Q830.5,426.2 827.2,427.7Q823.9,429.2 820.3,429.4Q816.8,429.6 815,428.5Q813.3,427.4 811.6,426.2Q809.9,425 808.5,422Q807.1,419 805.6,416.2Q804.1,413.5 804,410.4Q803.9,407.2 803.5,404.6Q803,402 801.3,399.3Q799.6,396.5 798.4,393.5Q797.2,390.5 796,387.5Q794.7,384.5 794.8,381.8Q794.9,379.1 794.4,377Q793.9,374.9 792.7,372.4Q791.5,369.9 791.1,367.5Q790.8,365.2 791.1,363.5Z" fill="url(#tg17)"/>
<g clip-path="url(#tc18)">
<ellipse cx="798" cy="376" rx="2.9" ry="5.9" fill="#ba6c70" opacity="0.55" filter="url(#bl1)"/>
<ellipse cx="809.6" cy="384.9" rx="5.3" ry="1.9" fill="#ba6c70" opacity="0.55" filter="url(#bl1)"/>
<ellipse cx="825.3" cy="372" rx="4.7" ry="2.9" fill="#ba6c70" opacity="0.55" filter="url(#bl1)"/>
<ellipse cx="804.8" cy="394.5" rx="4.2" ry="3.8" fill="#ba6c70" opacity="0.55" filter="url(#bl1)"/>
<ellipse cx="813.1" cy="394.5" rx="2.5" ry="2.6" fill="#ba6c70" opacity="0.55" filter="url(#bl1)"/>
<ellipse cx="821.4" cy="400.5" rx="4.8" ry="7.1" fill="#ba6c70" opacity="0.55" filter="url(#bl1)"/>
<ellipse cx="820.7" cy="412.5" rx="2.9" ry="6.3" fill="#ba6c70" opacity="0.55" filter="url(#bl1)"/>
<ellipse cx="828.3" cy="415" rx="3.5" ry="3.4" fill="#ba6c70" opacity="0.55" filter="url(#bl1)"/>
<path d="M831.6,378.3 l-3.7,1.4" stroke="#d8b4b8" stroke-width="0.9" opacity="0.7" stroke-linecap="round"/>
<path d="M803.3,379.4 l2.3,2.4" stroke="#d8b4b8" stroke-width="0.9" opacity="0.7" stroke-linecap="round"/>
<path d="M801.9,409.9 l-2,1.6" stroke="#d8b4b8" stroke-width="0.9" opacity="0.7" stroke-linecap="round"/>
<path d="M803,387.8 l3.2,0.2" stroke="#d8b4b8" stroke-width="0.9" opacity="0.7" stroke-linecap="round"/>
<path d="M805.7,402.2 l-3.8,0.4" stroke="#d8b4b8" stroke-width="0.9" opacity="0.7" stroke-linecap="round"/>
<path d="M802.6,393.1 l-0,3.4" stroke="#d8b4b8" stroke-width="0.9" opacity="0.7" stroke-linecap="round"/>
<path d="M823.1,376.8 l1.6,0.5" stroke="#d8b4b8" stroke-width="0.9" opacity="0.7" stroke-linecap="round"/>
<path d="M799.8,395.5 l-0.6,2.7" stroke="#d8b4b8" stroke-width="0.9" opacity="0.7" stroke-linecap="round"/>
<rect x="788.8" y="354.1" width="55.3" height="77.5" filter="url(#ftum)" opacity="0.55"/>
</g>
<radialGradient id="tg19" cx="45%" cy="45%" r="65%"><stop offset="0" stop-color="#974048"/><stop offset="0.65" stop-color="#ac525a"/><stop offset="1" stop-color="#bb787c"/></radialGradient>
<clipPath id="tc20"><path d="M908.9,382.4Q908.7,381.4 911.4,380.7Q914,380.1 915.9,379.6Q917.9,379.1 920.5,377.9Q923.1,376.8 925.1,375.6Q927,374.5 929.5,371.9Q931.9,369.3 934.1,366.1Q936.2,363 937.5,360.1Q938.7,357.2 939.8,355.5Q940.8,353.8 942.8,351.9Q944.8,350 946.3,349.6Q947.7,349.2 950.4,348.9Q953,348.6 955,349.5Q956.9,350.3 957.7,352.7Q958.5,355 960,356.7Q961.5,358.4 961.1,360.9Q960.6,363.5 961.1,365.5Q961.5,367.6 961.1,369.7Q960.6,371.8 958.8,374.3Q956.9,376.8 955.2,379.1Q953.6,381.4 951.8,383.7Q950,386 949.2,388.6Q948.4,391.2 946.9,393.2Q945.4,395.1 943.1,395.9Q940.7,396.6 938.5,397.6Q936.2,398.6 932.8,399.2Q929.3,399.8 925.9,400.4Q922.4,400.9 920.1,401.6Q917.7,402.2 915.5,402.7Q913.3,403.2 912.1,401.2Q911,399.2 909.8,397.2Q908.7,395.1 908.2,392.9Q907.7,390.8 907.6,388.4Q907.5,386 908.4,384.7Q909.2,383.4 908.9,382.4Z"/></clipPath>
<path d="M908.9,382.4Q908.7,381.4 911.4,380.7Q914,380.1 915.9,379.6Q917.9,379.1 920.5,377.9Q923.1,376.8 925.1,375.6Q927,374.5 929.5,371.9Q931.9,369.3 934.1,366.1Q936.2,363 937.5,360.1Q938.7,357.2 939.8,355.5Q940.8,353.8 942.8,351.9Q944.8,350 946.3,349.6Q947.7,349.2 950.4,348.9Q953,348.6 955,349.5Q956.9,350.3 957.7,352.7Q958.5,355 960,356.7Q961.5,358.4 961.1,360.9Q960.6,363.5 961.1,365.5Q961.5,367.6 961.1,369.7Q960.6,371.8 958.8,374.3Q956.9,376.8 955.2,379.1Q953.6,381.4 951.8,383.7Q950,386 949.2,388.6Q948.4,391.2 946.9,393.2Q945.4,395.1 943.1,395.9Q940.7,396.6 938.5,397.6Q936.2,398.6 932.8,399.2Q929.3,399.8 925.9,400.4Q922.4,400.9 920.1,401.6Q917.7,402.2 915.5,402.7Q913.3,403.2 912.1,401.2Q911,399.2 909.8,397.2Q908.7,395.1 908.2,392.9Q907.7,390.8 907.6,388.4Q907.5,386 908.4,384.7Q909.2,383.4 908.9,382.4Z" fill="none" stroke="#c4c4c8" stroke-width="2" opacity="0.7"/>
<path d="M908.9,382.4Q908.7,381.4 911.4,380.7Q914,380.1 915.9,379.6Q917.9,379.1 920.5,377.9Q923.1,376.8 925.1,375.6Q927,374.5 929.5,371.9Q931.9,369.3 934.1,366.1Q936.2,363 937.5,360.1Q938.7,357.2 939.8,355.5Q940.8,353.8 942.8,351.9Q944.8,350 946.3,349.6Q947.7,349.2 950.4,348.9Q953,348.6 955,349.5Q956.9,350.3 957.7,352.7Q958.5,355 960,356.7Q961.5,358.4 961.1,360.9Q960.6,363.5 961.1,365.5Q961.5,367.6 961.1,369.7Q960.6,371.8 958.8,374.3Q956.9,376.8 955.2,379.1Q953.6,381.4 951.8,383.7Q950,386 949.2,388.6Q948.4,391.2 946.9,393.2Q945.4,395.1 943.1,395.9Q940.7,396.6 938.5,397.6Q936.2,398.6 932.8,399.2Q929.3,399.8 925.9,400.4Q922.4,400.9 920.1,401.6Q917.7,402.2 915.5,402.7Q913.3,403.2 912.1,401.2Q911,399.2 909.8,397.2Q908.7,395.1 908.2,392.9Q907.7,390.8 907.6,388.4Q907.5,386 908.4,384.7Q909.2,383.4 908.9,382.4Z" fill="url(#tg19)"/>
<g clip-path="url(#tc20)">
<ellipse cx="942.6" cy="390" rx="2.7" ry="3.4" fill="#bb787c" opacity="0.55" filter="url(#bl1)"/>
<ellipse cx="944.2" cy="372" rx="2.8" ry="2" fill="#bb787c" opacity="0.55" filter="url(#bl1)"/>
<ellipse cx="935" cy="356" rx="7.4" ry="5.1" fill="#bb787c" opacity="0.55" filter="url(#bl1)"/>
<ellipse cx="942.8" cy="390.7" rx="5.7" ry="3.1" fill="#bb787c" opacity="0.55" filter="url(#bl1)"/>
<ellipse cx="938.5" cy="376.1" rx="8" ry="5.1" fill="#bb787c" opacity="0.55" filter="url(#bl1)"/>
<ellipse cx="924.7" cy="392.7" rx="6.4" ry="4.9" fill="#bb787c" opacity="0.55" filter="url(#bl1)"/>
<ellipse cx="947.2" cy="372" rx="7.4" ry="5.4" fill="#bb787c" opacity="0.55" filter="url(#bl1)"/>
<ellipse cx="942.4" cy="386.8" rx="6.5" ry="3.2" fill="#bb787c" opacity="0.55" filter="url(#bl1)"/>
<path d="M942.9,359.5 l0.2,2.3" stroke="#d8b4b8" stroke-width="0.9" opacity="0.7" stroke-linecap="round"/>
<path d="M916,370.4 l-1.2,2.9" stroke="#d8b4b8" stroke-width="0.9" opacity="0.7" stroke-linecap="round"/>
<path d="M924.4,392.9 l1.5,2.8" stroke="#d8b4b8" stroke-width="0.9" opacity="0.7" stroke-linecap="round"/>
<path d="M940.5,378.5 l1,2.7" stroke="#d8b4b8" stroke-width="0.9" opacity="0.7" stroke-linecap="round"/>
<path d="M953.4,381.3 l-2.4,2.2" stroke="#d8b4b8" stroke-width="0.9" opacity="0.7" stroke-linecap="round"/>
<path d="M952.7,357.6 l-2.1,2.2" stroke="#d8b4b8" stroke-width="0.9" opacity="0.7" stroke-linecap="round"/>
<rect x="905.5" y="346.6" width="58" height="58.6" filter="url(#ftum)" opacity="0.55"/>
</g>
<radialGradient id="tg21" cx="45%" cy="45%" r="65%"><stop offset="0" stop-color="#923d46"/><stop offset="0.65" stop-color="#a84e57"/><stop offset="1" stop-color="#b86d73"/></radialGradient>
<clipPath id="tc22"><path d="M1023.3,382.1Q1023.5,379.1 1024.9,377.4Q1026.3,375.7 1027.2,373.9Q1028.1,372.2 1029.9,371.6Q1031.6,371.1 1033.3,370.5Q1035,369.9 1036.9,368.4Q1038.8,366.8 1040.4,364.3Q1041.9,361.8 1044.2,361.6Q1046.4,361.3 1048.8,360.4Q1051.1,359.5 1052.8,360.2Q1054.5,360.8 1056.2,361.3Q1058,361.8 1058.5,364.1Q1059,366.5 1060.2,368.2Q1061.4,369.9 1060.9,373.4Q1060.4,376.9 1060.3,380.3Q1060.3,383.7 1060.3,386.9Q1060.3,390.1 1059.1,392.6Q1058,395.1 1056.4,396.7Q1054.7,398.3 1052.9,399.6Q1051.1,400.9 1048.2,401.3Q1045.4,401.7 1042.5,401.9Q1039.6,402 1037.6,401Q1035.6,400 1034.2,397.6Q1032.7,395.1 1030.9,394.1Q1029,393.1 1027.4,391.8Q1025.8,390.5 1024.5,387.9Q1023.1,385.2 1023.3,382.1Z"/></clipPath>
<path d="M1023.3,382.1Q1023.5,379.1 1024.9,377.4Q1026.3,375.7 1027.2,373.9Q1028.1,372.2 1029.9,371.6Q1031.6,371.1 1033.3,370.5Q1035,369.9 1036.9,368.4Q1038.8,366.8 1040.4,364.3Q1041.9,361.8 1044.2,361.6Q1046.4,361.3 1048.8,360.4Q1051.1,359.5 1052.8,360.2Q1054.5,360.8 1056.2,361.3Q1058,361.8 1058.5,364.1Q1059,366.5 1060.2,368.2Q1061.4,369.9 1060.9,373.4Q1060.4,376.9 1060.3,380.3Q1060.3,383.7 1060.3,386.9Q1060.3,390.1 1059.1,392.6Q1058,395.1 1056.4,396.7Q1054.7,398.3 1052.9,399.6Q1051.1,400.9 1048.2,401.3Q1045.4,401.7 1042.5,401.9Q1039.6,402 1037.6,401Q1035.6,400 1034.2,397.6Q1032.7,395.1 1030.9,394.1Q1029,393.1 1027.4,391.8Q1025.8,390.5 1024.5,387.9Q1023.1,385.2 1023.3,382.1Z" fill="none" stroke="#c4c4c8" stroke-width="2" opacity="0.7"/>
<path d="M1023.3,382.1Q1023.5,379.1 1024.9,377.4Q1026.3,375.7 1027.2,373.9Q1028.1,372.2 1029.9,371.6Q1031.6,371.1 1033.3,370.5Q1035,369.9 1036.9,368.4Q1038.8,366.8 1040.4,364.3Q1041.9,361.8 1044.2,361.6Q1046.4,361.3 1048.8,360.4Q1051.1,359.5 1052.8,360.2Q1054.5,360.8 1056.2,361.3Q1058,361.8 1058.5,364.1Q1059,366.5 1060.2,368.2Q1061.4,369.9 1060.9,373.4Q1060.4,376.9 1060.3,380.3Q1060.3,383.7 1060.3,386.9Q1060.3,390.1 1059.1,392.6Q1058,395.1 1056.4,396.7Q1054.7,398.3 1052.9,399.6Q1051.1,400.9 1048.2,401.3Q1045.4,401.7 1042.5,401.9Q1039.6,402 1037.6,401Q1035.6,400 1034.2,397.6Q1032.7,395.1 1030.9,394.1Q1029,393.1 1027.4,391.8Q1025.8,390.5 1024.5,387.9Q1023.1,385.2 1023.3,382.1Z" fill="url(#tg21)"/>
<g clip-path="url(#tc22)">
<ellipse cx="1046.3" cy="390.6" rx="1.8" ry="3.3" fill="#b86d73" opacity="0.55" filter="url(#bl1)"/>
<ellipse cx="1049.7" cy="366.3" rx="5.4" ry="1.8" fill="#b86d73" opacity="0.55" filter="url(#bl1)"/>
<ellipse cx="1041.5" cy="370.2" rx="3.6" ry="3.3" fill="#b86d73" opacity="0.55" filter="url(#bl1)"/>
<ellipse cx="1029.6" cy="395" rx="3.3" ry="3" fill="#b86d73" opacity="0.55" filter="url(#bl1)"/>
<ellipse cx="1045.1" cy="376.5" rx="2.7" ry="3.5" fill="#b86d73" opacity="0.55" filter="url(#bl1)"/>
<ellipse cx="1044" cy="373.9" rx="4.5" ry="2.2" fill="#b86d73" opacity="0.55" filter="url(#bl1)"/>
<path d="M1029.3,373.2 l1.4,0.8" stroke="#d8b4b8" stroke-width="0.9" opacity="0.7" stroke-linecap="round"/>
<path d="M1049.1,377.5 l-2.6,2.7" stroke="#d8b4b8" stroke-width="0.9" opacity="0.7" stroke-linecap="round"/>
<path d="M1030.2,395.3 l3.8,0.9" stroke="#d8b4b8" stroke-width="0.9" opacity="0.7" stroke-linecap="round"/>
<path d="M1053.2,378.7 l-2.7,0.2" stroke="#d8b4b8" stroke-width="0.9" opacity="0.7" stroke-linecap="round"/>
<path d="M1035.4,381.5 l-2.5,2.9" stroke="#d8b4b8" stroke-width="0.9" opacity="0.7" stroke-linecap="round"/>
<rect x="1021.1" y="357.5" width="42.3" height="46.5" filter="url(#ftum)" opacity="0.55"/>
</g>
<radialGradient id="tg23" cx="45%" cy="45%" r="65%"><stop offset="0" stop-color="#97424b"/><stop offset="0.65" stop-color="#ac545d"/><stop offset="1" stop-color="#bb787e"/></radialGradient>
<clipPath id="tc24"><path d="M1120.7,416.6Q1120,415.8 1120.6,413Q1121.1,410.1 1121.7,407.2Q1122.3,404.3 1123.3,402.8Q1124.3,401.3 1126.8,399.4Q1129.2,397.4 1130.5,394.3Q1131.7,391.2 1133.9,388.6Q1136.1,386 1137.8,382.8Q1139.5,379.7 1141.3,377.1Q1143,374.5 1145.2,373.7Q1147.4,373 1149.8,371.4Q1152.2,369.9 1154.6,370.5Q1157.1,371.1 1159.2,372.2Q1161.4,373.3 1162.3,376.5Q1163.2,379.6 1164,382.8Q1164.8,386 1163.7,389.4Q1162.5,392.9 1161.9,396.3Q1161.4,399.7 1158.6,401Q1155.8,402.2 1154,403.8Q1152.2,405.5 1149.4,406.5Q1146.6,407.5 1143.6,408.2Q1140.7,408.9 1138,409.7Q1135.3,410.4 1132.3,412Q1129.2,413.5 1127.8,414.7Q1126.3,415.9 1124.9,417Q1123.5,418.1 1122.4,417.8Q1121.3,417.5 1120.7,416.6Z"/></clipPath>
<path d="M1120.7,416.6Q1120,415.8 1120.6,413Q1121.1,410.1 1121.7,407.2Q1122.3,404.3 1123.3,402.8Q1124.3,401.3 1126.8,399.4Q1129.2,397.4 1130.5,394.3Q1131.7,391.2 1133.9,388.6Q1136.1,386 1137.8,382.8Q1139.5,379.7 1141.3,377.1Q1143,374.5 1145.2,373.7Q1147.4,373 1149.8,371.4Q1152.2,369.9 1154.6,370.5Q1157.1,371.1 1159.2,372.2Q1161.4,373.3 1162.3,376.5Q1163.2,379.6 1164,382.8Q1164.8,386 1163.7,389.4Q1162.5,392.9 1161.9,396.3Q1161.4,399.7 1158.6,401Q1155.8,402.2 1154,403.8Q1152.2,405.5 1149.4,406.5Q1146.6,407.5 1143.6,408.2Q1140.7,408.9 1138,409.7Q1135.3,410.4 1132.3,412Q1129.2,413.5 1127.8,414.7Q1126.3,415.9 1124.9,417Q1123.5,418.1 1122.4,417.8Q1121.3,417.5 1120.7,416.6Z" fill="none" stroke="#c4c4c8" stroke-width="2" opacity="0.7"/>
<path d="M1120.7,416.6Q1120,415.8 1120.6,413Q1121.1,410.1 1121.7,407.2Q1122.3,404.3 1123.3,402.8Q1124.3,401.3 1126.8,399.4Q1129.2,397.4 1130.5,394.3Q1131.7,391.2 1133.9,388.6Q1136.1,386 1137.8,382.8Q1139.5,379.7 1141.3,377.1Q1143,374.5 1145.2,373.7Q1147.4,373 1149.8,371.4Q1152.2,369.9 1154.6,370.5Q1157.1,371.1 1159.2,372.2Q1161.4,373.3 1162.3,376.5Q1163.2,379.6 1164,382.8Q1164.8,386 1163.7,389.4Q1162.5,392.9 1161.9,396.3Q1161.4,399.7 1158.6,401Q1155.8,402.2 1154,403.8Q1152.2,405.5 1149.4,406.5Q1146.6,407.5 1143.6,408.2Q1140.7,408.9 1138,409.7Q1135.3,410.4 1132.3,412Q1129.2,413.5 1127.8,414.7Q1126.3,415.9 1124.9,417Q1123.5,418.1 1122.4,417.8Q1121.3,417.5 1120.7,416.6Z" fill="url(#tg23)"/>
<g clip-path="url(#tc24)">
<ellipse cx="1140.9" cy="385.4" rx="4.5" ry="2.9" fill="#bb787e" opacity="0.55" filter="url(#bl1)"/>
<ellipse cx="1151.8" cy="395.1" rx="6.7" ry="5.1" fill="#bb787e" opacity="0.55" filter="url(#bl1)"/>
<ellipse cx="1150.3" cy="384.5" rx="2.1" ry="4.9" fill="#bb787e" opacity="0.55" filter="url(#bl1)"/>
<ellipse cx="1152" cy="398.5" rx="3.4" ry="2.3" fill="#bb787e" opacity="0.55" filter="url(#bl1)"/>
<ellipse cx="1148.7" cy="396.3" rx="4.6" ry="3.8" fill="#bb787e" opacity="0.55" filter="url(#bl1)"/>
<path d="M1150.4,383.5 l-2.1,0.1" stroke="#d8b4b8" stroke-width="0.9" opacity="0.7" stroke-linecap="round"/>
<path d="M1155.5,406.8 l1.6,0.3" stroke="#d8b4b8" stroke-width="0.9" opacity="0.7" stroke-linecap="round"/>
<path d="M1135.3,391.5 l2.9,1" stroke="#d8b4b8" stroke-width="0.9" opacity="0.7" stroke-linecap="round"/>
<path d="M1143.7,379.6 l-0.9,1.5" stroke="#d8b4b8" stroke-width="0.9" opacity="0.7" stroke-linecap="round"/>
<path d="M1144,398.4 l0.2,2.4" stroke="#d8b4b8" stroke-width="0.9" opacity="0.7" stroke-linecap="round"/>
<rect x="1118" y="367.9" width="48.8" height="52.2" filter="url(#ftum)" opacity="0.55"/>
</g>
<radialGradient id="tg25" cx="45%" cy="45%" r="65%"><stop offset="0" stop-color="#82343c"/><stop offset="0.65" stop-color="#99464e"/><stop offset="1" stop-color="#af676d"/></radialGradient>
<clipPath id="tc26"><path d="M786.4,474Q786.9,469.9 788.8,468.4Q790.7,466.9 792.2,465Q793.8,463 796.7,462.2Q799.6,461.5 802.4,460.5Q805.3,459.5 808.2,459.4Q811,459.2 813.9,459.9Q816.8,460.7 819.2,461.3Q821.7,461.9 823.8,463.6Q826,465.3 827.1,468Q828.3,470.7 830,472.6Q831.7,474.5 831.5,478.2Q831.4,481.9 831.9,485.1Q832.4,488.2 832.4,491Q832.5,493.8 831.5,496.8Q830.5,499.7 831.4,502.7Q832.2,505.7 832.5,508.4Q832.8,511.2 832.6,514.4Q832.4,517.6 831.5,520.2Q830.5,522.7 828.7,524.7Q826.8,526.8 825.2,529.3Q823.7,531.9 820.8,533Q817.9,534.2 815,535.3Q812.2,536.5 809.3,536.5Q806.5,536.6 803.6,537.1Q800.7,537.6 798.8,537.3Q796.9,536.9 795.3,535.6Q793.8,534.2 792.4,531.8Q791,529.5 789.5,527.2Q788,525 786.6,520.6Q785.2,516.2 784.3,511.4Q783.4,506.6 783,501.4Q782.5,496.2 783.5,491.1Q784.6,486 785.3,482Q786,478.1 786.4,474Z"/></clipPath>
<path d="M786.4,474Q786.9,469.9 788.8,468.4Q790.7,466.9 792.2,465Q793.8,463 796.7,462.2Q799.6,461.5 802.4,460.5Q805.3,459.5 808.2,459.4Q811,459.2 813.9,459.9Q816.8,460.7 819.2,461.3Q821.7,461.9 823.8,463.6Q826,465.3 827.1,468Q828.3,470.7 830,472.6Q831.7,474.5 831.5,478.2Q831.4,481.9 831.9,485.1Q832.4,488.2 832.4,491Q832.5,493.8 831.5,496.8Q830.5,499.7 831.4,502.7Q832.2,505.7 832.5,508.4Q832.8,511.2 832.6,514.4Q832.4,517.6 831.5,520.2Q830.5,522.7 828.7,524.7Q826.8,526.8 825.2,529.3Q823.7,531.9 820.8,533Q817.9,534.2 815,535.3Q812.2,536.5 809.3,536.5Q806.5,536.6 803.6,537.1Q800.7,537.6 798.8,537.3Q796.9,536.9 795.3,535.6Q793.8,534.2 792.4,531.8Q791,529.5 789.5,527.2Q788,525 786.6,520.6Q785.2,516.2 784.3,511.4Q783.4,506.6 783,501.4Q782.5,496.2 783.5,491.1Q784.6,486 785.3,482Q786,478.1 786.4,474Z" fill="none" stroke="#c4c4c8" stroke-width="2" opacity="0.7"/>
<path d="M786.4,474Q786.9,469.9 788.8,468.4Q790.7,466.9 792.2,465Q793.8,463 796.7,462.2Q799.6,461.5 802.4,460.5Q805.3,459.5 808.2,459.4Q811,459.2 813.9,459.9Q816.8,460.7 819.2,461.3Q821.7,461.9 823.8,463.6Q826,465.3 827.1,468Q828.3,470.7 830,472.6Q831.7,474.5 831.5,478.2Q831.4,481.9 831.9,485.1Q832.4,488.2 832.4,491Q832.5,493.8 831.5,496.8Q830.5,499.7 831.4,502.7Q832.2,505.7 832.5,508.4Q832.8,511.2 832.6,514.4Q832.4,517.6 831.5,520.2Q830.5,522.7 828.7,524.7Q826.8,526.8 825.2,529.3Q823.7,531.9 820.8,533Q817.9,534.2 815,535.3Q812.2,536.5 809.3,536.5Q806.5,536.6 803.6,537.1Q800.7,537.6 798.8,537.3Q796.9,536.9 795.3,535.6Q793.8,534.2 792.4,531.8Q791,529.5 789.5,527.2Q788,525 786.6,520.6Q785.2,516.2 784.3,511.4Q783.4,506.6 783,501.4Q782.5,496.2 783.5,491.1Q784.6,486 785.3,482Q786,478.1 786.4,474Z" fill="url(#tg25)"/>
<g clip-path="url(#tc26)">
<ellipse cx="809.5" cy="512.9" rx="7.1" ry="4.4" fill="#af676d" opacity="0.55" filter="url(#bl1)"/>
<ellipse cx="802.7" cy="474.7" rx="6.8" ry="1.8" fill="#af676d" opacity="0.55" filter="url(#bl1)"/>
<ellipse cx="791.9" cy="502.2" rx="4.4" ry="6.3" fill="#af676d" opacity="0.55" filter="url(#bl1)"/>
<ellipse cx="800" cy="514.6" rx="2" ry="2.8" fill="#af676d" opacity="0.55" filter="url(#bl1)"/>
<ellipse cx="813.8" cy="473.8" rx="3.3" ry="6.6" fill="#af676d" opacity="0.55" filter="url(#bl1)"/>
<ellipse cx="815" cy="485.7" rx="2.4" ry="3.9" fill="#af676d" opacity="0.55" filter="url(#bl1)"/>
<ellipse cx="816.2" cy="490.6" rx="2.2" ry="6.5" fill="#af676d" opacity="0.55" filter="url(#bl1)"/>
<ellipse cx="810.3" cy="523.1" rx="7.2" ry="8" fill="#af676d" opacity="0.55" filter="url(#bl1)"/>
<ellipse cx="805.8" cy="512.7" rx="4.1" ry="5.1" fill="#5a1a28" opacity="0.5" filter="url(#bl2)"/>
<path d="M804.1,522.3 l2.7,2.6" stroke="#d8b4b8" stroke-width="0.9" opacity="0.7" stroke-linecap="round"/>
<path d="M802.8,491.1 l0.8,2.3" stroke="#d8b4b8" stroke-width="0.9" opacity="0.7" stroke-linecap="round"/>
<path d="M803.7,481.7 l-2.3,1.7" stroke="#d8b4b8" stroke-width="0.9" opacity="0.7" stroke-linecap="round"/>
<path d="M809.1,516.9 l2.5,1.5" stroke="#d8b4b8" stroke-width="0.9" opacity="0.7" stroke-linecap="round"/>
<path d="M816.8,519.3 l2.2,0.2" stroke="#d8b4b8" stroke-width="0.9" opacity="0.7" stroke-linecap="round"/>
<path d="M808.2,500.9 l-2.9,0.3" stroke="#d8b4b8" stroke-width="0.9" opacity="0.7" stroke-linecap="round"/>
<path d="M813,515.1 l-0.2,1.6" stroke="#d8b4b8" stroke-width="0.9" opacity="0.7" stroke-linecap="round"/>
<path d="M817.8,475.6 l-1.2,1.3" stroke="#d8b4b8" stroke-width="0.9" opacity="0.7" stroke-linecap="round"/>
<rect x="780.5" y="457.2" width="54.4" height="82.4" filter="url(#ftum)" opacity="0.55"/>
</g>
<radialGradient id="tg27" cx="45%" cy="45%" r="65%"><stop offset="0" stop-color="#873942"/><stop offset="0.65" stop-color="#9c4b54"/><stop offset="1" stop-color="#b36f75"/></radialGradient>
<clipPath id="tc28"><path d="M908.1,459.7Q908.7,458.4 909.9,456.5Q911.2,454.6 913.4,453.6Q915.6,452.6 918.7,452.5Q921.8,452.3 924.4,451.3Q927,450.3 930.4,449.2Q933.8,448 937.3,447.5Q940.8,446.9 944.2,447.6Q947.5,448.2 951.1,448.1Q954.6,448 957.2,449.1Q959.7,450.2 961.8,452Q963.8,453.8 964.9,455.9Q966,458 966.6,460.5Q967.2,463 967.9,465.4Q968.5,467.8 969.6,470Q970.7,472.2 970.4,475.6Q970.1,479.1 970.4,482.5Q970.7,486 970.3,489Q969.9,492 968.6,494.7Q967.2,497.4 966.5,499.8Q965.7,502.2 964.8,504.4Q963.8,506.6 961.8,508.7Q959.7,510.8 957.2,512.2Q954.6,513.5 951.7,514.6Q948.8,515.7 946,516.9Q943.1,518.1 939.7,518.6Q936.2,519 932.8,519.7Q929.3,520.4 927.1,520Q924.8,519.5 923.1,517.7Q921.3,515.8 920.2,513.2Q919.2,510.6 918.5,507.5Q917.9,504.3 917.8,501.5Q917.7,498.7 917.8,495.8Q917.9,492.8 918.3,490Q918.7,487.2 919.4,484.3Q920.1,481.4 917.7,479.6Q915.3,477.8 913.7,476.1Q912.1,474.5 910.9,472Q909.7,469.6 909.2,467.4Q908.7,465.3 908.1,463.2Q907.5,461.1 908.1,459.7Z"/></clipPath>
<path d="M908.1,459.7Q908.7,458.4 909.9,456.5Q911.2,454.6 913.4,453.6Q915.6,452.6 918.7,452.5Q921.8,452.3 924.4,451.3Q927,450.3 930.4,449.2Q933.8,448 937.3,447.5Q940.8,446.9 944.2,447.6Q947.5,448.2 951.1,448.1Q954.6,448 957.2,449.1Q959.7,450.2 961.8,452Q963.8,453.8 964.9,455.9Q966,458 966.6,460.5Q967.2,463 967.9,465.4Q968.5,467.8 969.6,470Q970.7,472.2 970.4,475.6Q970.1,479.1 970.4,482.5Q970.7,486 970.3,489Q969.9,492 968.6,494.7Q967.2,497.4 966.5,499.8Q965.7,502.2 964.8,504.4Q963.8,506.6 961.8,508.7Q959.7,510.8 957.2,512.2Q954.6,513.5 951.7,514.6Q948.8,515.7 946,516.9Q943.1,518.1 939.7,518.6Q936.2,519 932.8,519.7Q929.3,520.4 927.1,520Q924.8,519.5 923.1,517.7Q921.3,515.8 920.2,513.2Q919.2,510.6 918.5,507.5Q917.9,504.3 917.8,501.5Q917.7,498.7 917.8,495.8Q917.9,492.8 918.3,490Q918.7,487.2 919.4,484.3Q920.1,481.4 917.7,479.6Q915.3,477.8 913.7,476.1Q912.1,474.5 910.9,472Q909.7,469.6 909.2,467.4Q908.7,465.3 908.1,463.2Q907.5,461.1 908.1,459.7Z" fill="none" stroke="#c4c4c8" stroke-width="2" opacity="0.7"/>
<path d="M908.1,459.7Q908.7,458.4 909.9,456.5Q911.2,454.6 913.4,453.6Q915.6,452.6 918.7,452.5Q921.8,452.3 924.4,451.3Q927,450.3 930.4,449.2Q933.8,448 937.3,447.5Q940.8,446.9 944.2,447.6Q947.5,448.2 951.1,448.1Q954.6,448 957.2,449.1Q959.7,450.2 961.8,452Q963.8,453.8 964.9,455.9Q966,458 966.6,460.5Q967.2,463 967.9,465.4Q968.5,467.8 969.6,470Q970.7,472.2 970.4,475.6Q970.1,479.1 970.4,482.5Q970.7,486 970.3,489Q969.9,492 968.6,494.7Q967.2,497.4 966.5,499.8Q965.7,502.2 964.8,504.4Q963.8,506.6 961.8,508.7Q959.7,510.8 957.2,512.2Q954.6,513.5 951.7,514.6Q948.8,515.7 946,516.9Q943.1,518.1 939.7,518.6Q936.2,519 932.8,519.7Q929.3,520.4 927.1,520Q924.8,519.5 923.1,517.7Q921.3,515.8 920.2,513.2Q919.2,510.6 918.5,507.5Q917.9,504.3 917.8,501.5Q917.7,498.7 917.8,495.8Q917.9,492.8 918.3,490Q918.7,487.2 919.4,484.3Q920.1,481.4 917.7,479.6Q915.3,477.8 913.7,476.1Q912.1,474.5 910.9,472Q909.7,469.6 909.2,467.4Q908.7,465.3 908.1,463.2Q907.5,461.1 908.1,459.7Z" fill="url(#tg27)"/>
<g clip-path="url(#tc28)">
<ellipse cx="934.9" cy="501.6" rx="6.8" ry="7.1" fill="#b36f75" opacity="0.55" filter="url(#bl1)"/>
<ellipse cx="953.6" cy="502.1" rx="8.6" ry="7.8" fill="#b36f75" opacity="0.55" filter="url(#bl1)"/>
<ellipse cx="945.8" cy="485" rx="7.2" ry="6.7" fill="#b36f75" opacity="0.55" filter="url(#bl1)"/>
<ellipse cx="935.4" cy="479.3" rx="2.7" ry="6.3" fill="#b36f75" opacity="0.55" filter="url(#bl1)"/>
<ellipse cx="962.4" cy="476.8" rx="2.8" ry="2.6" fill="#b36f75" opacity="0.55" filter="url(#bl1)"/>
<ellipse cx="935.5" cy="472.2" rx="9.2" ry="1.6" fill="#b36f75" opacity="0.55" filter="url(#bl1)"/>
<ellipse cx="930" cy="462.4" rx="6.7" ry="6.5" fill="#b36f75" opacity="0.55" filter="url(#bl1)"/>
<ellipse cx="923.9" cy="459.5" rx="5.2" ry="5.2" fill="#b36f75" opacity="0.55" filter="url(#bl1)"/>
<path d="M957.2,459.8 l1.5,1" stroke="#d8b4b8" stroke-width="0.9" opacity="0.7" stroke-linecap="round"/>
<path d="M926.6,470 l-1,3.1" stroke="#d8b4b8" stroke-width="0.9" opacity="0.7" stroke-linecap="round"/>
<path d="M926.9,467.4 l1.9,1.1" stroke="#d8b4b8" stroke-width="0.9" opacity="0.7" stroke-linecap="round"/>
<path d="M950.5,474 l-2.4,1.6" stroke="#d8b4b8" stroke-width="0.9" opacity="0.7" stroke-linecap="round"/>
<path d="M938.2,471.3 l-3.6,1" stroke="#d8b4b8" stroke-width="0.9" opacity="0.7" stroke-linecap="round"/>
<path d="M932.1,486.1 l0.2,3.9" stroke="#d8b4b8" stroke-width="0.9" opacity="0.7" stroke-linecap="round"/>
<path d="M926.8,460.5 l-3.1,2.3" stroke="#d8b4b8" stroke-width="0.9" opacity="0.7" stroke-linecap="round"/>
<path d="M934,485.1 l1.8,2.1" stroke="#d8b4b8" stroke-width="0.9" opacity="0.7" stroke-linecap="round"/>
<rect x="905.5" y="444.9" width="67.2" height="77.5" filter="url(#ftum)" opacity="0.55"/>
</g>
<radialGradient id="tg29" cx="45%" cy="45%" r="65%"><stop offset="0" stop-color="#7d313a"/><stop offset="0.65" stop-color="#93424b"/><stop offset="1" stop-color="#ac646b"/></radialGradient>
<clipPath id="tc30"><path d="M1037,455.9Q1037.3,453.8 1038.9,452.2Q1040.4,450.5 1042.3,450.4Q1044.2,450.3 1047.1,450.3Q1050,450.3 1052.9,450.9Q1055.7,451.5 1058.5,452.6Q1061.2,453.7 1064.2,454.3Q1067.2,454.9 1066.5,458Q1065.8,461 1065.9,463.1Q1066,465.3 1065.8,467.5Q1065.6,469.8 1065.2,472.1Q1064.9,474.5 1065.4,477.3Q1065.9,480.2 1066.5,483.1Q1067.2,486 1067.4,489.1Q1067.5,492.2 1066.8,494.8Q1066,497.4 1065.4,500Q1064.8,502.7 1063.7,504.6Q1062.6,506.6 1061,508Q1059.3,509.4 1057.5,510.3Q1055.7,511.2 1052.8,510.6Q1049.9,509.9 1047.1,510Q1044.2,510.1 1041.5,509.1Q1038.7,508.2 1035.7,508Q1032.7,507.8 1031.1,506.2Q1029.5,504.7 1027.7,503.4Q1025.8,502 1025.5,499Q1025.1,496 1024.3,493.3Q1023.5,490.5 1024.1,489Q1024.6,487.4 1026.4,485.5Q1028.1,483.7 1029.7,481.9Q1031.3,480.2 1033.2,478.5Q1035,476.8 1035.4,473.7Q1035.7,470.6 1036.5,467.9Q1037.3,465.3 1037,461.7Q1036.6,458.1 1037,455.9Z"/></clipPath>
<path d="M1037,455.9Q1037.3,453.8 1038.9,452.2Q1040.4,450.5 1042.3,450.4Q1044.2,450.3 1047.1,450.3Q1050,450.3 1052.9,450.9Q1055.7,451.5 1058.5,452.6Q1061.2,453.7 1064.2,454.3Q1067.2,454.9 1066.5,458Q1065.8,461 1065.9,463.1Q1066,465.3 1065.8,467.5Q1065.6,469.8 1065.2,472.1Q1064.9,474.5 1065.4,477.3Q1065.9,480.2 1066.5,483.1Q1067.2,486 1067.4,489.1Q1067.5,492.2 1066.8,494.8Q1066,497.4 1065.4,500Q1064.8,502.7 1063.7,504.6Q1062.6,506.6 1061,508Q1059.3,509.4 1057.5,510.3Q1055.7,511.2 1052.8,510.6Q1049.9,509.9 1047.1,510Q1044.2,510.1 1041.5,509.1Q1038.7,508.2 1035.7,508Q1032.7,507.8 1031.1,506.2Q1029.5,504.7 1027.7,503.4Q1025.8,502 1025.5,499Q1025.1,496 1024.3,493.3Q1023.5,490.5 1024.1,489Q1024.6,487.4 1026.4,485.5Q1028.1,483.7 1029.7,481.9Q1031.3,480.2 1033.2,478.5Q1035,476.8 1035.4,473.7Q1035.7,470.6 1036.5,467.9Q1037.3,465.3 1037,461.7Q1036.6,458.1 1037,455.9Z" fill="none" stroke="#c4c4c8" stroke-width="2" opacity="0.7"/>
<path d="M1037,455.9Q1037.3,453.8 1038.9,452.2Q1040.4,450.5 1042.3,450.4Q1044.2,450.3 1047.1,450.3Q1050,450.3 1052.9,450.9Q1055.7,451.5 1058.5,452.6Q1061.2,453.7 1064.2,454.3Q1067.2,454.9 1066.5,458Q1065.8,461 1065.9,463.1Q1066,465.3 1065.8,467.5Q1065.6,469.8 1065.2,472.1Q1064.9,474.5 1065.4,477.3Q1065.9,480.2 1066.5,483.1Q1067.2,486 1067.4,489.1Q1067.5,492.2 1066.8,494.8Q1066,497.4 1065.4,500Q1064.8,502.7 1063.7,504.6Q1062.6,506.6 1061,508Q1059.3,509.4 1057.5,510.3Q1055.7,511.2 1052.8,510.6Q1049.9,509.9 1047.1,510Q1044.2,510.1 1041.5,509.1Q1038.7,508.2 1035.7,508Q1032.7,507.8 1031.1,506.2Q1029.5,504.7 1027.7,503.4Q1025.8,502 1025.5,499Q1025.1,496 1024.3,493.3Q1023.5,490.5 1024.1,489Q1024.6,487.4 1026.4,485.5Q1028.1,483.7 1029.7,481.9Q1031.3,480.2 1033.2,478.5Q1035,476.8 1035.4,473.7Q1035.7,470.6 1036.5,467.9Q1037.3,465.3 1037,461.7Q1036.6,458.1 1037,455.9Z" fill="url(#tg29)"/>
<g clip-path="url(#tc30)">
<ellipse cx="1037.8" cy="482.3" rx="2.3" ry="5.4" fill="#ac646b" opacity="0.55" filter="url(#bl1)"/>
<ellipse cx="1029.1" cy="495.4" rx="5.8" ry="5.7" fill="#ac646b" opacity="0.55" filter="url(#bl1)"/>
<ellipse cx="1031.8" cy="470.2" rx="5.2" ry="1.7" fill="#ac646b" opacity="0.55" filter="url(#bl1)"/>
<ellipse cx="1044.9" cy="479.3" rx="6.4" ry="4.4" fill="#ac646b" opacity="0.55" filter="url(#bl1)"/>
<ellipse cx="1057.3" cy="471.8" rx="5.5" ry="3.5" fill="#ac646b" opacity="0.55" filter="url(#bl1)"/>
<ellipse cx="1059.3" cy="462" rx="5.7" ry="2.3" fill="#ac646b" opacity="0.55" filter="url(#bl1)"/>
<ellipse cx="1046.7" cy="481.7" rx="2.9" ry="7.9" fill="#5a1a28" opacity="0.5" filter="url(#bl2)"/>
<path d="M1039.7,472.7 l1,1.4" stroke="#d8b4b8" stroke-width="0.9" opacity="0.7" stroke-linecap="round"/>
<path d="M1044.5,489.9 l-1.3,2" stroke="#d8b4b8" stroke-width="0.9" opacity="0.7" stroke-linecap="round"/>
<path d="M1033.4,476.2 l-2.6,0.3" stroke="#d8b4b8" stroke-width="0.9" opacity="0.7" stroke-linecap="round"/>
<path d="M1055.7,487.3 l0.6,1.4" stroke="#d8b4b8" stroke-width="0.9" opacity="0.7" stroke-linecap="round"/>
<path d="M1052,469.5 l0.4,2.9" stroke="#d8b4b8" stroke-width="0.9" opacity="0.7" stroke-linecap="round"/>
<rect x="1021.5" y="448.3" width="48" height="64.9" filter="url(#ftum)" opacity="0.55"/>
</g>
<radialGradient id="tg31" cx="45%" cy="45%" r="65%"><stop offset="0" stop-color="#762b34"/><stop offset="0.65" stop-color="#8e3d46"/><stop offset="1" stop-color="#a75e65"/></radialGradient>
<clipPath id="tc32"><path d="M1126.6,459Q1126.9,457.2 1129,456.3Q1131,455.3 1132.4,453.4Q1133.8,451.5 1135.9,450.4Q1138,449.4 1140.5,449.9Q1143,450.3 1144.8,451.3Q1146.5,452.2 1148.2,454.1Q1149.9,456.1 1150.6,458.1Q1151.4,460.1 1152.4,461.5Q1153.3,463 1155.6,465.1Q1157.8,467.3 1159.6,469.7Q1161.4,472.2 1161.5,474.4Q1161.6,476.7 1162.1,479Q1162.5,481.4 1161.6,483Q1160.7,484.7 1159.9,486.5Q1159.1,488.2 1158,489.8Q1157,491.4 1155.7,492.7Q1154.5,494 1153,495Q1151.5,495.9 1150.1,497.3Q1148.8,498.6 1147.3,498.7Q1145.9,498.9 1144.4,499.3Q1143,499.7 1142.2,498.5Q1141.3,497.3 1140.4,496.2Q1139.6,495.1 1138.9,493.2Q1138.2,491.2 1137.7,488.6Q1137.3,486 1136,483Q1134.8,480 1133.2,477.2Q1131.5,474.5 1130.7,472.3Q1129.8,470.1 1128.4,467.7Q1126.9,465.3 1126.6,463Q1126.3,460.7 1126.6,459Z"/></clipPath>
<path d="M1126.6,459Q1126.9,457.2 1129,456.3Q1131,455.3 1132.4,453.4Q1133.8,451.5 1135.9,450.4Q1138,449.4 1140.5,449.9Q1143,450.3 1144.8,451.3Q1146.5,452.2 1148.2,454.1Q1149.9,456.1 1150.6,458.1Q1151.4,460.1 1152.4,461.5Q1153.3,463 1155.6,465.1Q1157.8,467.3 1159.6,469.7Q1161.4,472.2 1161.5,474.4Q1161.6,476.7 1162.1,479Q1162.5,481.4 1161.6,483Q1160.7,484.7 1159.9,486.5Q1159.1,488.2 1158,489.8Q1157,491.4 1155.7,492.7Q1154.5,494 1153,495Q1151.5,495.9 1150.1,497.3Q1148.8,498.6 1147.3,498.7Q1145.9,498.9 1144.4,499.3Q1143,499.7 1142.2,498.5Q1141.3,497.3 1140.4,496.2Q1139.6,495.1 1138.9,493.2Q1138.2,491.2 1137.7,488.6Q1137.3,486 1136,483Q1134.8,480 1133.2,477.2Q1131.5,474.5 1130.7,472.3Q1129.8,470.1 1128.4,467.7Q1126.9,465.3 1126.6,463Q1126.3,460.7 1126.6,459Z" fill="none" stroke="#c4c4c8" stroke-width="2" opacity="0.7"/>
<path d="M1126.6,459Q1126.9,457.2 1129,456.3Q1131,455.3 1132.4,453.4Q1133.8,451.5 1135.9,450.4Q1138,449.4 1140.5,449.9Q1143,450.3 1144.8,451.3Q1146.5,452.2 1148.2,454.1Q1149.9,456.1 1150.6,458.1Q1151.4,460.1 1152.4,461.5Q1153.3,463 1155.6,465.1Q1157.8,467.3 1159.6,469.7Q1161.4,472.2 1161.5,474.4Q1161.6,476.7 1162.1,479Q1162.5,481.4 1161.6,483Q1160.7,484.7 1159.9,486.5Q1159.1,488.2 1158,489.8Q1157,491.4 1155.7,492.7Q1154.5,494 1153,495Q1151.5,495.9 1150.1,497.3Q1148.8,498.6 1147.3,498.7Q1145.9,498.9 1144.4,499.3Q1143,499.7 1142.2,498.5Q1141.3,497.3 1140.4,496.2Q1139.6,495.1 1138.9,493.2Q1138.2,491.2 1137.7,488.6Q1137.3,486 1136,483Q1134.8,480 1133.2,477.2Q1131.5,474.5 1130.7,472.3Q1129.8,470.1 1128.4,467.7Q1126.9,465.3 1126.6,463Q1126.3,460.7 1126.6,459Z" fill="url(#tg31)"/>
<g clip-path="url(#tc32)">
<ellipse cx="1139.8" cy="491.4" rx="3.7" ry="4.3" fill="#a75e65" opacity="0.55" filter="url(#bl1)"/>
<ellipse cx="1139.8" cy="486.9" rx="1.9" ry="1.8" fill="#a75e65" opacity="0.55" filter="url(#bl1)"/>
<ellipse cx="1133.4" cy="481.3" rx="4.3" ry="2" fill="#a75e65" opacity="0.55" filter="url(#bl1)"/>
<ellipse cx="1141.7" cy="487.3" rx="3.8" ry="1.6" fill="#a75e65" opacity="0.55" filter="url(#bl1)"/>
<ellipse cx="1137" cy="461.6" rx="2" ry="3" fill="#a75e65" opacity="0.55" filter="url(#bl1)"/>
<ellipse cx="1135.1" cy="487.3" rx="3.9" ry="4.8" fill="#5a1a28" opacity="0.5" filter="url(#bl2)"/>
<path d="M1148.1,484 l1.2,3.3" stroke="#d8b4b8" stroke-width="0.9" opacity="0.7" stroke-linecap="round"/>
<path d="M1140.1,471.5 l0.5,1.5" stroke="#d8b4b8" stroke-width="0.9" opacity="0.7" stroke-linecap="round"/>
<path d="M1149.5,491.5 l-1.7,3" stroke="#d8b4b8" stroke-width="0.9" opacity="0.7" stroke-linecap="round"/>
<path d="M1147.2,457.6 l1.1,2" stroke="#d8b4b8" stroke-width="0.9" opacity="0.7" stroke-linecap="round"/>
<rect x="1124.3" y="447.4" width="40.3" height="54.3" filter="url(#ftum)" opacity="0.55"/>
</g>
<radialGradient id="tg33" cx="45%" cy="45%" r="65%"><stop offset="0" stop-color="#521920"/><stop offset="0.65" stop-color="#6f2e34"/><stop offset="1" stop-color="#84494e"/></radialGradient>
<clipPath id="tc34"><path d="M793.4,571.1Q793.8,568.7 796,566.7Q798.1,564.7 800.5,563.2Q803,561.8 806.5,561.9Q810,562.1 813.4,561.4Q816.8,560.6 819.6,561.3Q822.5,561.9 825.4,562.4Q828.2,562.9 830.3,564.3Q832.4,565.6 834.3,567.1Q836.3,568.7 837.2,571.8Q838.2,574.9 838.4,578.7Q838.6,582.5 838.8,584.5Q839,586.6 838.2,589.1Q837.4,591.7 838,593.3Q838.5,595 838.6,596.8Q838.6,598.5 837.4,601.3Q836.1,604.1 835.6,607.1Q835.1,610 835.2,613.2Q835.3,616.4 834.6,618.9Q834,621.5 832.9,624.4Q831.8,627.2 830,629Q828.2,630.7 825.4,632.6Q822.6,634.5 819.7,636Q816.8,637.6 813.9,637.5Q811,637.4 808.2,637.5Q805.3,637.6 802.9,636.5Q800.6,635.5 798.3,634.3Q796.1,633 794.6,630.4Q793.1,627.8 791.1,625.8Q789.2,623.8 788.6,621.2Q788,618.6 788,615.4Q788,612.3 787.9,610.9Q787.7,609.5 789,607.5Q790.3,605.4 791.4,602.6Q792.4,599.7 793.7,596.8Q794.9,594 794.3,590.3Q793.7,586.6 793.7,583.4Q793.8,580.2 793.4,576.9Q793.1,573.5 793.4,571.1Z"/></clipPath>
<path d="M793.4,571.1Q793.8,568.7 796,566.7Q798.1,564.7 800.5,563.2Q803,561.8 806.5,561.9Q810,562.1 813.4,561.4Q816.8,560.6 819.6,561.3Q822.5,561.9 825.4,562.4Q828.2,562.9 830.3,564.3Q832.4,565.6 834.3,567.1Q836.3,568.7 837.2,571.8Q838.2,574.9 838.4,578.7Q838.6,582.5 838.8,584.5Q839,586.6 838.2,589.1Q837.4,591.7 838,593.3Q838.5,595 838.6,596.8Q838.6,598.5 837.4,601.3Q836.1,604.1 835.6,607.1Q835.1,610 835.2,613.2Q835.3,616.4 834.6,618.9Q834,621.5 832.9,624.4Q831.8,627.2 830,629Q828.2,630.7 825.4,632.6Q822.6,634.5 819.7,636Q816.8,637.6 813.9,637.5Q811,637.4 808.2,637.5Q805.3,637.6 802.9,636.5Q800.6,635.5 798.3,634.3Q796.1,633 794.6,630.4Q793.1,627.8 791.1,625.8Q789.2,623.8 788.6,621.2Q788,618.6 788,615.4Q788,612.3 787.9,610.9Q787.7,609.5 789,607.5Q790.3,605.4 791.4,602.6Q792.4,599.7 793.7,596.8Q794.9,594 794.3,590.3Q793.7,586.6 793.7,583.4Q793.8,580.2 793.4,576.9Q793.1,573.5 793.4,571.1Z" fill="none" stroke="#c4c4c8" stroke-width="2" opacity="0.7"/>
<path d="M793.4,571.1Q793.8,568.7 796,566.7Q798.1,564.7 800.5,563.2Q803,561.8 806.5,561.9Q810,562.1 813.4,561.4Q816.8,560.6 819.6,561.3Q822.5,561.9 825.4,562.4Q828.2,562.9 830.3,564.3Q832.4,565.6 834.3,567.1Q836.3,568.7 837.2,571.8Q838.2,574.9 838.4,578.7Q838.6,582.5 838.8,584.5Q839,586.6 838.2,589.1Q837.4,591.7 838,593.3Q838.5,595 838.6,596.8Q838.6,598.5 837.4,601.3Q836.1,604.1 835.6,607.1Q835.1,610 835.2,613.2Q835.3,616.4 834.6,618.9Q834,621.5 832.9,624.4Q831.8,627.2 830,629Q828.2,630.7 825.4,632.6Q822.6,634.5 819.7,636Q816.8,637.6 813.9,637.5Q811,637.4 808.2,637.5Q805.3,637.6 802.9,636.5Q800.6,635.5 798.3,634.3Q796.1,633 794.6,630.4Q793.1,627.8 791.1,625.8Q789.2,623.8 788.6,621.2Q788,618.6 788,615.4Q788,612.3 787.9,610.9Q787.7,609.5 789,607.5Q790.3,605.4 791.4,602.6Q792.4,599.7 793.7,596.8Q794.9,594 794.3,590.3Q793.7,586.6 793.7,583.4Q793.8,580.2 793.4,576.9Q793.1,573.5 793.4,571.1Z" fill="url(#tg33)"/>
<g clip-path="url(#tc34)">
<ellipse cx="801.7" cy="624.8" rx="5.4" ry="2.6" fill="#84494e" opacity="0.55" filter="url(#bl1)"/>
<ellipse cx="797.3" cy="584.4" rx="5.1" ry="6.3" fill="#84494e" opacity="0.55" filter="url(#bl1)"/>
<ellipse cx="806.8" cy="623.9" rx="3.7" ry="4.6" fill="#84494e" opacity="0.55" filter="url(#bl1)"/>
<ellipse cx="798.9" cy="626.5" rx="2.3" ry="7.8" fill="#84494e" opacity="0.55" filter="url(#bl1)"/>
<ellipse cx="815" cy="602.6" rx="5" ry="3.1" fill="#84494e" opacity="0.55" filter="url(#bl1)"/>
<ellipse cx="829.1" cy="627.5" rx="6.6" ry="5.6" fill="#84494e" opacity="0.55" filter="url(#bl1)"/>
<ellipse cx="801.8" cy="614.1" rx="4" ry="10.6" fill="#5a1a28" opacity="0.5" filter="url(#bl2)"/>
<ellipse cx="805.4" cy="602.5" rx="7.8" ry="3.8" fill="#5a1a28" opacity="0.5" filter="url(#bl2)"/>
<ellipse cx="814.8" cy="579.6" rx="2.2" ry="3.7" fill="#5a1a28" opacity="0.5" filter="url(#bl2)"/>
<path d="M830.9,622.8 l1.8,2.6" stroke="#d8b4b8" stroke-width="0.9" opacity="0.7" stroke-linecap="round"/>
<path d="M819.5,611.9 l-0.7,2.4" stroke="#d8b4b8" stroke-width="0.9" opacity="0.7" stroke-linecap="round"/>
<path d="M824.3,573.1 l0.2,2" stroke="#d8b4b8" stroke-width="0.9" opacity="0.7" stroke-linecap="round"/>
<path d="M800.6,593 l2.5,1.5" stroke="#d8b4b8" stroke-width="0.9" opacity="0.7" stroke-linecap="round"/>
<path d="M814.1,586.4 l1.5,2.5" stroke="#d8b4b8" stroke-width="0.9" opacity="0.7" stroke-linecap="round"/>
<path d="M818.5,574.2 l2.9,1.4" stroke="#d8b4b8" stroke-width="0.9" opacity="0.7" stroke-linecap="round"/>
<rect x="785.7" y="558.6" width="55.3" height="81" filter="url(#ftum)" opacity="0.55"/>
</g>
<radialGradient id="tg35" cx="45%" cy="45%" r="65%"><stop offset="0" stop-color="#622830"/><stop offset="0.65" stop-color="#74383e"/><stop offset="1" stop-color="#875458"/></radialGradient>
<clipPath id="tc36"><path d="M900.8,580Q901.8,577.9 902.9,575.1Q904,572.4 906.3,570.5Q908.7,568.7 911.4,567Q914.2,565.4 917.2,564.2Q920.1,562.9 923,562.3Q925.9,561.7 928.8,561.2Q931.6,560.6 933.9,561.5Q936.2,562.4 938.5,563.2Q940.8,564.1 943.3,566.2Q945.8,568.2 947.9,570.8Q950,573.3 950.6,576Q951.2,578.7 951.2,581.7Q951.2,584.8 951.3,588.2Q951.5,591.7 950.8,595.1Q950,598.5 950.4,601.7Q950.8,604.8 950.4,607.4Q950,610 948.9,611.8Q947.8,613.6 946.6,615.3Q945.4,616.9 943.5,618.2Q941.5,619.5 938.9,619.4Q936.2,619.2 934,618.9Q931.8,618.6 929.4,617.2Q927,615.8 925.2,615.2Q923.4,614.7 921.8,612.9Q920.1,611.2 917.9,609.7Q915.6,608.3 913.3,606.9Q911,605.4 909.2,603.1Q907.5,600.8 905.8,598.5Q904.1,596.2 903,594Q902,591.7 901.3,589.4Q900.6,587.1 900.3,584.6Q899.9,582.1 900.8,580Z"/></clipPath>
<path d="M900.8,580Q901.8,577.9 902.9,575.1Q904,572.4 906.3,570.5Q908.7,568.7 911.4,567Q914.2,565.4 917.2,564.2Q920.1,562.9 923,562.3Q925.9,561.7 928.8,561.2Q931.6,560.6 933.9,561.5Q936.2,562.4 938.5,563.2Q940.8,564.1 943.3,566.2Q945.8,568.2 947.9,570.8Q950,573.3 950.6,576Q951.2,578.7 951.2,581.7Q951.2,584.8 951.3,588.2Q951.5,591.7 950.8,595.1Q950,598.5 950.4,601.7Q950.8,604.8 950.4,607.4Q950,610 948.9,611.8Q947.8,613.6 946.6,615.3Q945.4,616.9 943.5,618.2Q941.5,619.5 938.9,619.4Q936.2,619.2 934,618.9Q931.8,618.6 929.4,617.2Q927,615.8 925.2,615.2Q923.4,614.7 921.8,612.9Q920.1,611.2 917.9,609.7Q915.6,608.3 913.3,606.9Q911,605.4 909.2,603.1Q907.5,600.8 905.8,598.5Q904.1,596.2 903,594Q902,591.7 901.3,589.4Q900.6,587.1 900.3,584.6Q899.9,582.1 900.8,580Z" fill="none" stroke="#c4c4c8" stroke-width="2" opacity="0.7"/>
<path d="M900.8,580Q901.8,577.9 902.9,575.1Q904,572.4 906.3,570.5Q908.7,568.7 911.4,567Q914.2,565.4 917.2,564.2Q920.1,562.9 923,562.3Q925.9,561.7 928.8,561.2Q931.6,560.6 933.9,561.5Q936.2,562.4 938.5,563.2Q940.8,564.1 943.3,566.2Q945.8,568.2 947.9,570.8Q950,573.3 950.6,576Q951.2,578.7 951.2,581.7Q951.2,584.8 951.3,588.2Q951.5,591.7 950.8,595.1Q950,598.5 950.4,601.7Q950.8,604.8 950.4,607.4Q950,610 948.9,611.8Q947.8,613.6 946.6,615.3Q945.4,616.9 943.5,618.2Q941.5,619.5 938.9,619.4Q936.2,619.2 934,618.9Q931.8,618.6 929.4,617.2Q927,615.8 925.2,615.2Q923.4,614.7 921.8,612.9Q920.1,611.2 917.9,609.7Q915.6,608.3 913.3,606.9Q911,605.4 909.2,603.1Q907.5,600.8 905.8,598.5Q904.1,596.2 903,594Q902,591.7 901.3,589.4Q900.6,587.1 900.3,584.6Q899.9,582.1 900.8,580Z" fill="url(#tg35)"/>
<g clip-path="url(#tc36)">
<ellipse cx="926.7" cy="591.2" rx="4.2" ry="6" fill="#875458" opacity="0.55" filter="url(#bl1)"/>
<ellipse cx="918.8" cy="570.4" rx="6" ry="5.9" fill="#875458" opacity="0.55" filter="url(#bl1)"/>
<ellipse cx="934.7" cy="594.4" rx="6.2" ry="2.8" fill="#875458" opacity="0.55" filter="url(#bl1)"/>
<ellipse cx="929.3" cy="571.1" rx="2.3" ry="3.6" fill="#875458" opacity="0.55" filter="url(#bl1)"/>
<ellipse cx="925.8" cy="585.5" rx="1.8" ry="4.9" fill="#875458" opacity="0.55" filter="url(#bl1)"/>
<ellipse cx="926.7" cy="578.6" rx="3.4" ry="3.3" fill="#875458" opacity="0.55" filter="url(#bl1)"/>
<ellipse cx="917.5" cy="574.8" rx="8.4" ry="8.6" fill="#5a1a28" opacity="0.5" filter="url(#bl2)"/>
<ellipse cx="930.8" cy="603" rx="5" ry="7.5" fill="#5a1a28" opacity="0.5" filter="url(#bl2)"/>
<path d="M915.7,600.2 l-2.8,0.9" stroke="#d8b4b8" stroke-width="0.9" opacity="0.7" stroke-linecap="round"/>
<path d="M911.2,602.1 l-0.2,1.8" stroke="#d8b4b8" stroke-width="0.9" opacity="0.7" stroke-linecap="round"/>
<path d="M942,569.5 l1.2,1.7" stroke="#d8b4b8" stroke-width="0.9" opacity="0.7" stroke-linecap="round"/>
<path d="M919.4,572 l-3.1,2.1" stroke="#d8b4b8" stroke-width="0.9" opacity="0.7" stroke-linecap="round"/>
<path d="M922,584.2 l2.9,0.4" stroke="#d8b4b8" stroke-width="0.9" opacity="0.7" stroke-linecap="round"/>
<rect x="897.9" y="558.6" width="55.6" height="62.9" filter="url(#ftum)" opacity="0.55"/>
</g>
<radialGradient id="tg37" cx="45%" cy="45%" r="65%"><stop offset="0" stop-color="#61252c"/><stop offset="0.65" stop-color="#73333b"/><stop offset="1" stop-color="#874f58"/></radialGradient>
<clipPath id="tc38"><path d="M1020.4,582.7Q1021.2,580.2 1023.8,578.1Q1026.4,575.9 1028.4,572.9Q1030.4,569.8 1032.6,568Q1034.8,566.2 1037.2,565.7Q1039.6,565.2 1041.9,565.7Q1044.2,566.1 1046.5,566.3Q1048.8,566.4 1050.6,568Q1052.3,569.6 1054,571.5Q1055.7,573.3 1057,575Q1058.3,576.8 1058.7,579.6Q1059.1,582.5 1061,584.4Q1062.8,586.3 1063.3,589Q1063.7,591.7 1063.5,594.5Q1063.3,597.4 1062.9,600.3Q1062.6,603.1 1060.6,604.7Q1058.6,606.3 1057.1,608.2Q1055.7,610 1054.4,611.6Q1053.2,613.2 1052.1,615.1Q1051.1,616.9 1050.8,619.3Q1050.5,621.6 1049.7,622.7Q1048.8,623.8 1047.2,625.9Q1045.6,628 1043.7,628.8Q1041.9,629.6 1039.7,629.5Q1037.4,629.5 1035.1,630.1Q1032.7,630.7 1030.2,630.1Q1027.7,629.5 1025.6,627.8Q1023.5,626.1 1022.7,623.7Q1021.9,621.4 1021,619.1Q1020.1,616.9 1019.8,614.1Q1019.4,611.2 1019.2,608.3Q1018.9,605.4 1019.6,602Q1020.2,598.6 1020.2,595.1Q1020.1,591.7 1019.8,588.4Q1019.6,585.2 1020.4,582.7Z"/></clipPath>
<path d="M1020.4,582.7Q1021.2,580.2 1023.8,578.1Q1026.4,575.9 1028.4,572.9Q1030.4,569.8 1032.6,568Q1034.8,566.2 1037.2,565.7Q1039.6,565.2 1041.9,565.7Q1044.2,566.1 1046.5,566.3Q1048.8,566.4 1050.6,568Q1052.3,569.6 1054,571.5Q1055.7,573.3 1057,575Q1058.3,576.8 1058.7,579.6Q1059.1,582.5 1061,584.4Q1062.8,586.3 1063.3,589Q1063.7,591.7 1063.5,594.5Q1063.3,597.4 1062.9,600.3Q1062.6,603.1 1060.6,604.7Q1058.6,606.3 1057.1,608.2Q1055.7,610 1054.4,611.6Q1053.2,613.2 1052.1,615.1Q1051.1,616.9 1050.8,619.3Q1050.5,621.6 1049.7,622.7Q1048.8,623.8 1047.2,625.9Q1045.6,628 1043.7,628.8Q1041.9,629.6 1039.7,629.5Q1037.4,629.5 1035.1,630.1Q1032.7,630.7 1030.2,630.1Q1027.7,629.5 1025.6,627.8Q1023.5,626.1 1022.7,623.7Q1021.9,621.4 1021,619.1Q1020.1,616.9 1019.8,614.1Q1019.4,611.2 1019.2,608.3Q1018.9,605.4 1019.6,602Q1020.2,598.6 1020.2,595.1Q1020.1,591.7 1019.8,588.4Q1019.6,585.2 1020.4,582.7Z" fill="none" stroke="#c4c4c8" stroke-width="2" opacity="0.7"/>
<path d="M1020.4,582.7Q1021.2,580.2 1023.8,578.1Q1026.4,575.9 1028.4,572.9Q1030.4,569.8 1032.6,568Q1034.8,566.2 1037.2,565.7Q1039.6,565.2 1041.9,565.7Q1044.2,566.1 1046.5,566.3Q1048.8,566.4 1050.6,568Q1052.3,569.6 1054,571.5Q1055.7,573.3 1057,575Q1058.3,576.8 1058.7,579.6Q1059.1,582.5 1061,584.4Q1062.8,586.3 1063.3,589Q1063.7,591.7 1063.5,594.5Q1063.3,597.4 1062.9,600.3Q1062.6,603.1 1060.6,604.7Q1058.6,606.3 1057.1,608.2Q1055.7,610 1054.4,611.6Q1053.2,613.2 1052.1,615.1Q1051.1,616.9 1050.8,619.3Q1050.5,621.6 1049.7,622.7Q1048.8,623.8 1047.2,625.9Q1045.6,628 1043.7,628.8Q1041.9,629.6 1039.7,629.5Q1037.4,629.5 1035.1,630.1Q1032.7,630.7 1030.2,630.1Q1027.7,629.5 1025.6,627.8Q1023.5,626.1 1022.7,623.7Q1021.9,621.4 1021,619.1Q1020.1,616.9 1019.8,614.1Q1019.4,611.2 1019.2,608.3Q1018.9,605.4 1019.6,602Q1020.2,598.6 1020.2,595.1Q1020.1,591.7 1019.8,588.4Q1019.6,585.2 1020.4,582.7Z" fill="url(#tg37)"/>
<g clip-path="url(#tc38)">
<ellipse cx="1058" cy="583.3" rx="4.8" ry="2.3" fill="#874f58" opacity="0.55" filter="url(#bl1)"/>
<ellipse cx="1054.1" cy="575.9" rx="2.1" ry="5.6" fill="#874f58" opacity="0.55" filter="url(#bl1)"/>
<ellipse cx="1035.1" cy="617.6" rx="6" ry="5.5" fill="#874f58" opacity="0.55" filter="url(#bl1)"/>
<ellipse cx="1029.1" cy="607.6" rx="6.4" ry="3.9" fill="#874f58" opacity="0.55" filter="url(#bl1)"/>
<ellipse cx="1027.2" cy="584.4" rx="3.1" ry="5.5" fill="#874f58" opacity="0.55" filter="url(#bl1)"/>
<ellipse cx="1031.1" cy="582.3" rx="2.7" ry="5.2" fill="#874f58" opacity="0.55" filter="url(#bl1)"/>
<ellipse cx="1049.2" cy="593" rx="5.9" ry="8.9" fill="#5a1a28" opacity="0.5" filter="url(#bl2)"/>
<ellipse cx="1043.8" cy="587.3" rx="3.8" ry="9.2" fill="#5a1a28" opacity="0.5" filter="url(#bl2)"/>
<path d="M1046.6,587.7 l3,0.9" stroke="#d8b4b8" stroke-width="0.9" opacity="0.7" stroke-linecap="round"/>
<path d="M1056.5,595.2 l-0.3,2.8" stroke="#d8b4b8" stroke-width="0.9" opacity="0.7" stroke-linecap="round"/>
<path d="M1027.1,602.5 l1.6,1.6" stroke="#d8b4b8" stroke-width="0.9" opacity="0.7" stroke-linecap="round"/>
<path d="M1050.9,579 l-1.6,1.5" stroke="#d8b4b8" stroke-width="0.9" opacity="0.7" stroke-linecap="round"/>
<path d="M1033.4,587.8 l2.4,1.6" stroke="#d8b4b8" stroke-width="0.9" opacity="0.7" stroke-linecap="round"/>
<rect x="1016.9" y="563.2" width="48.8" height="69.5" filter="url(#ftum)" opacity="0.55"/>
</g>
<radialGradient id="tg39" cx="45%" cy="45%" r="65%"><stop offset="0" stop-color="#5d2128"/><stop offset="0.65" stop-color="#6f3037"/><stop offset="1" stop-color="#824a50"/></radialGradient>
<clipPath id="tc40"><path d="M1115.9,593.3Q1115.4,591.7 1116.6,589.9Q1117.7,588.1 1120,587Q1122.3,585.9 1124.2,583.8Q1126,581.8 1128.8,581Q1131.5,580.2 1134.5,579.6Q1137.4,579 1140.2,577.3Q1143,575.6 1145.9,575.5Q1148.8,575.5 1151.6,575.5Q1154.5,575.6 1155.6,577.5Q1156.8,579.5 1157.4,582.1Q1157.9,584.8 1158.2,587.7Q1158.4,590.6 1158.8,593.4Q1159.1,596.2 1160.9,599.2Q1162.8,602.1 1163.2,604.9Q1163.7,607.7 1163.2,610.1Q1162.7,612.4 1162.1,614.7Q1161.4,616.9 1158.9,617.8Q1156.3,618.7 1154.3,620.1Q1152.2,621.5 1150,622.8Q1147.7,624.2 1145.4,625.1Q1143,626.1 1140.7,625.8Q1138.4,625.6 1136.1,624.7Q1133.8,623.8 1131.6,622Q1129.3,620.2 1127,618.6Q1124.6,616.9 1123.2,614.8Q1121.8,612.7 1120.9,610.2Q1120,607.7 1119,605.5Q1117.9,603.3 1117.8,600.9Q1117.7,598.5 1117,596.8Q1116.3,595 1115.9,593.3Z"/></clipPath>
<path d="M1115.9,593.3Q1115.4,591.7 1116.6,589.9Q1117.7,588.1 1120,587Q1122.3,585.9 1124.2,583.8Q1126,581.8 1128.8,581Q1131.5,580.2 1134.5,579.6Q1137.4,579 1140.2,577.3Q1143,575.6 1145.9,575.5Q1148.8,575.5 1151.6,575.5Q1154.5,575.6 1155.6,577.5Q1156.8,579.5 1157.4,582.1Q1157.9,584.8 1158.2,587.7Q1158.4,590.6 1158.8,593.4Q1159.1,596.2 1160.9,599.2Q1162.8,602.1 1163.2,604.9Q1163.7,607.7 1163.2,610.1Q1162.7,612.4 1162.1,614.7Q1161.4,616.9 1158.9,617.8Q1156.3,618.7 1154.3,620.1Q1152.2,621.5 1150,622.8Q1147.7,624.2 1145.4,625.1Q1143,626.1 1140.7,625.8Q1138.4,625.6 1136.1,624.7Q1133.8,623.8 1131.6,622Q1129.3,620.2 1127,618.6Q1124.6,616.9 1123.2,614.8Q1121.8,612.7 1120.9,610.2Q1120,607.7 1119,605.5Q1117.9,603.3 1117.8,600.9Q1117.7,598.5 1117,596.8Q1116.3,595 1115.9,593.3Z" fill="none" stroke="#c4c4c8" stroke-width="2" opacity="0.7"/>
<path d="M1115.9,593.3Q1115.4,591.7 1116.6,589.9Q1117.7,588.1 1120,587Q1122.3,585.9 1124.2,583.8Q1126,581.8 1128.8,581Q1131.5,580.2 1134.5,579.6Q1137.4,579 1140.2,577.3Q1143,575.6 1145.9,575.5Q1148.8,575.5 1151.6,575.5Q1154.5,575.6 1155.6,577.5Q1156.8,579.5 1157.4,582.1Q1157.9,584.8 1158.2,587.7Q1158.4,590.6 1158.8,593.4Q1159.1,596.2 1160.9,599.2Q1162.8,602.1 1163.2,604.9Q1163.7,607.7 1163.2,610.1Q1162.7,612.4 1162.1,614.7Q1161.4,616.9 1158.9,617.8Q1156.3,618.7 1154.3,620.1Q1152.2,621.5 1150,622.8Q1147.7,624.2 1145.4,625.1Q1143,626.1 1140.7,625.8Q1138.4,625.6 1136.1,624.7Q1133.8,623.8 1131.6,622Q1129.3,620.2 1127,618.6Q1124.6,616.9 1123.2,614.8Q1121.8,612.7 1120.9,610.2Q1120,607.7 1119,605.5Q1117.9,603.3 1117.8,600.9Q1117.7,598.5 1117,596.8Q1116.3,595 1115.9,593.3Z" fill="url(#tg39)"/>
<g clip-path="url(#tc40)">
<ellipse cx="1139.8" cy="613.9" rx="5.4" ry="3.5" fill="#824a50" opacity="0.55" filter="url(#bl1)"/>
<ellipse cx="1155.9" cy="588.4" rx="6" ry="1.9" fill="#824a50" opacity="0.55" filter="url(#bl1)"/>
<ellipse cx="1143.5" cy="590.7" rx="4" ry="4.6" fill="#824a50" opacity="0.55" filter="url(#bl1)"/>
<ellipse cx="1149.9" cy="611.9" rx="2.9" ry="3.3" fill="#824a50" opacity="0.55" filter="url(#bl1)"/>
<ellipse cx="1129.5" cy="603.8" rx="4.4" ry="1.4" fill="#824a50" opacity="0.55" filter="url(#bl1)"/>
<ellipse cx="1142.4" cy="607.3" rx="5.7" ry="6.9" fill="#5a1a28" opacity="0.5" filter="url(#bl2)"/>
<ellipse cx="1130.3" cy="590.2" rx="2.1" ry="4.8" fill="#5a1a28" opacity="0.5" filter="url(#bl2)"/>
<path d="M1137.4,598.7 l-1.7,1.3" stroke="#d8b4b8" stroke-width="0.9" opacity="0.7" stroke-linecap="round"/>
<path d="M1125.1,615.2 l-0.4,2.9" stroke="#d8b4b8" stroke-width="0.9" opacity="0.7" stroke-linecap="round"/>
<path d="M1149.4,591.5 l1,1.5" stroke="#d8b4b8" stroke-width="0.9" opacity="0.7" stroke-linecap="round"/>
<path d="M1124.1,594.2 l-0.2,3" stroke="#d8b4b8" stroke-width="0.9" opacity="0.7" stroke-linecap="round"/>
<path d="M1131.6,603.9 l-1.5,0.9" stroke="#d8b4b8" stroke-width="0.9" opacity="0.7" stroke-linecap="round"/>
<rect x="1113.4" y="573.5" width="52.2" height="54.6" filter="url(#ftum)" opacity="0.55"/>
</g>
</g>
<defs><filter id="lb2" x="-50%" y="-50%" width="200%" height="200%"><feGaussianBlur stdDeviation="2"/></filter><filter id="lb4" x="-50%" y="-50%" width="200%" height="200%"><feGaussianBlur stdDeviation="4"/></filter><filter id="lb8" x="-50%" y="-50%" width="200%" height="200%"><feGaussianBlur stdDeviation="8"/></filter><filter id="lb20" x="-50%" y="-50%" width="200%" height="200%"><feGaussianBlur stdDeviation="20"/></filter><filter id="lb40" x="-50%" y="-50%" width="200%" height="200%"><feGaussianBlur stdDeviation="40"/></filter><filter id="fmot" x="0" y="0" width="1" height="1" color-interpolation-filters="sRGB"><feTurbulence type="fractalNoise" baseFrequency="0.006" numOctaves="3" seed="4" result="n"/><feColorMatrix in="n" type="matrix" values="0 0 0 0 0  0 0 0 0 0  0 0 0 0 0  2.2 0 0 0 -1.0" result="a"/><feFlood flood-color="#4a3008"/><feComposite operator="in" in2="a"/></filter><filter id="fmot2" x="0" y="0" width="1" height="1" color-interpolation-filters="sRGB"><feTurbulence type="fractalNoise" baseFrequency="0.008" numOctaves="2" seed="9" result="n"/><feColorMatrix in="n" type="matrix" values="0 0 0 0 0  0 0 0 0 0  0 0 0 0 0  0 2.4 0 0 -1.25" result="a"/><feFlood flood-color="#e8c800"/><feComposite operator="in" in2="a"/></filter></defs>
<clipPath id="lc1"><rect x="12" y="774" width="239.5" height="242"/></clipPath>
<g clip-path="url(#lc1)">
<rect x="12" y="774" width="239.5" height="242" fill="#fafafa"/>
<g transform="translate(10,772) scale(0.20608)">
<ellipse cx="590" cy="630" rx="380" ry="420" fill="#dedad2" opacity="0.4" filter="url(#lb40)"/>
<ellipse cx="700.3" cy="880.5" rx="6.2" ry="6.8" fill="#a77710" opacity="0.6" filter="url(#lb2)"/>
<ellipse cx="930.8" cy="909.6" rx="4" ry="3.2" fill="#a77710" opacity="0.6" filter="url(#lb2)"/>
<ellipse cx="160" cy="648.7" rx="4" ry="5.2" fill="#a77710" opacity="0.6" filter="url(#lb2)"/>
<ellipse cx="53.9" cy="434.2" rx="4.1" ry="6.7" fill="#b28413" opacity="0.6" filter="url(#lb2)"/>
<ellipse cx="209.2" cy="927.6" rx="3.6" ry="5.5" fill="#a77710" opacity="0.6" filter="url(#lb2)"/>
<ellipse cx="180.2" cy="1076.5" rx="3" ry="6.1" fill="#a77710" opacity="0.6" filter="url(#lb2)"/>
<ellipse cx="964.8" cy="495.9" rx="6.8" ry="5.2" fill="#a77710" opacity="0.6" filter="url(#lb2)"/>
<ellipse cx="232.6" cy="1073.3" rx="3.8" ry="6.9" fill="#b28413" opacity="0.6" filter="url(#lb2)"/>
<ellipse cx="356.7" cy="557" rx="3.7" ry="3.6" fill="#a77710" opacity="0.6" filter="url(#lb2)"/>
<ellipse cx="391.8" cy="944.8" rx="5.3" ry="5.4" fill="#b28413" opacity="0.6" filter="url(#lb2)"/>
<ellipse cx="110" cy="552" rx="4.2" ry="5.8" fill="#a77710" opacity="0.6" filter="url(#lb2)"/>
<ellipse cx="550.1" cy="849" rx="3.2" ry="6.9" fill="#a77710" opacity="0.6" filter="url(#lb2)"/>
<ellipse cx="1046.2" cy="554" rx="4.6" ry="5.2" fill="#b28413" opacity="0.6" filter="url(#lb2)"/>
<ellipse cx="428.2" cy="741.7" rx="3" ry="3.2" fill="#a77710" opacity="0.6" filter="url(#lb2)"/>
<ellipse cx="701.1" cy="1061.2" rx="3.5" ry="4" fill="#b28413" opacity="0.6" filter="url(#lb2)"/>
<ellipse cx="405" cy="551.6" rx="5.1" ry="6.1" fill="#a77710" opacity="0.6" filter="url(#lb2)"/>
<ellipse cx="665.1" cy="913.8" rx="4.5" ry="4.2" fill="#b28413" opacity="0.6" filter="url(#lb2)"/>
<ellipse cx="1042.5" cy="327.5" rx="4.4" ry="5.4" fill="#a77710" opacity="0.6" filter="url(#lb2)"/>
<ellipse cx="400.4" cy="1035.6" rx="5.2" ry="4.2" fill="#b28413" opacity="0.6" filter="url(#lb2)"/>
<ellipse cx="364.5" cy="929" rx="5.5" ry="5.9" fill="#b28413" opacity="0.6" filter="url(#lb2)"/>
<ellipse cx="1096.5" cy="387.3" rx="3.2" ry="6.9" fill="#b28413" opacity="0.6" filter="url(#lb2)"/>
<ellipse cx="73.7" cy="879.5" rx="4.4" ry="4" fill="#b28413" opacity="0.6" filter="url(#lb2)"/>
<ellipse cx="194.4" cy="1082.2" rx="5.6" ry="6.2" fill="#b28413" opacity="0.6" filter="url(#lb2)"/>
<ellipse cx="928.7" cy="361" rx="5.9" ry="6.8" fill="#b28413" opacity="0.6" filter="url(#lb2)"/>
<ellipse cx="153" cy="619.4" rx="3.6" ry="6.4" fill="#b28413" opacity="0.6" filter="url(#lb2)"/>
<ellipse cx="189.7" cy="1033.7" rx="5.5" ry="3.7" fill="#b28413" opacity="0.6" filter="url(#lb2)"/>
<ellipse cx="1057.7" cy="835.5" rx="4.3" ry="4.1" fill="#b28413" opacity="0.6" filter="url(#lb2)"/>
<ellipse cx="468" cy="374.5" rx="4.5" ry="7" fill="#a77710" opacity="0.6" filter="url(#lb2)"/>
<ellipse cx="704.6" cy="674.4" rx="4.4" ry="3.4" fill="#b28413" opacity="0.6" filter="url(#lb2)"/>
<ellipse cx="586.1" cy="715.9" rx="5" ry="3.3" fill="#b28413" opacity="0.6" filter="url(#lb2)"/>
<ellipse cx="776.3" cy="814.4" rx="6" ry="4.5" fill="#b28413" opacity="0.6" filter="url(#lb2)"/>
<ellipse cx="925.3" cy="475.1" rx="6.9" ry="5.9" fill="#b28413" opacity="0.6" filter="url(#lb2)"/>
<ellipse cx="728.7" cy="743.6" rx="3" ry="5.2" fill="#b28413" opacity="0.6" filter="url(#lb2)"/>
<ellipse cx="385.5" cy="482.6" rx="4.2" ry="5" fill="#b28413" opacity="0.6" filter="url(#lb2)"/>
<ellipse cx="408.8" cy="797.5" rx="6" ry="6.3" fill="#b28413" opacity="0.6" filter="url(#lb2)"/>
<ellipse cx="1017.7" cy="396.6" rx="6.5" ry="4.8" fill="#b28413" opacity="0.6" filter="url(#lb2)"/>
<ellipse cx="1053.9" cy="690.4" rx="5.1" ry="3.7" fill="#b28413" opacity="0.6" filter="url(#lb2)"/>
<ellipse cx="1033.6" cy="655.7" rx="5.8" ry="5.9" fill="#b28413" opacity="0.6" filter="url(#lb2)"/>
<ellipse cx="222.1" cy="913.3" rx="5.3" ry="5.7" fill="#b28413" opacity="0.6" filter="url(#lb2)"/>
<ellipse cx="360.8" cy="720.2" rx="6.5" ry="4.1" fill="#a77710" opacity="0.6" filter="url(#lb2)"/>
<path d="M445,485Q450,430 485,425Q520,420 560,430Q600,440 620,455Q640,470 640,515Q640,560 620,590Q600,620 585,660Q570,700 565,740Q560,780 530,780Q500,780 475,770Q450,760 440,705Q430,650 435,595Q440,540 445,485Z" fill="#cfc6b4" opacity="0.8" filter="url(#lb8)"/>
<path d="M417.5,207.5Q425,185 435,200Q445,215 457.5,252.5Q470,290 476,325Q482,360 477,395Q472,430 464,475Q456,520 444,580Q432,640 426,680Q420,720 410,770Q400,820 386,850Q372,880 351,888.5Q330,897 315,889.5Q300,882 275,852Q250,822 232,781Q214,740 207,690Q200,640 209,580Q218,520 238,470Q258,420 279,380Q300,340 330,305Q360,270 385,250Q410,230 417.5,207.5Z" fill="#cfc6b4" opacity="0.8" filter="url(#lb8)"/>
<path d="M716.5,284Q715,268 738.5,271.5Q762,275 797,296.5Q832,318 867,358Q902,398 926,439Q950,480 964,525Q978,570 972,625Q966,680 956,720Q946,760 934,805Q922,850 901,895Q880,940 850,970Q820,1000 780,1018Q740,1036 710,1033Q680,1030 650,1005Q620,980 604,940Q588,900 578,850Q568,800 564,750Q560,700 568,660Q576,620 598,590Q620,560 630,505Q640,450 660,405Q680,360 699,330Q718,300 716.5,284Z" fill="#cfc6b4" opacity="0.8" filter="url(#lb8)"/>
<path d="M445,485Q450,430 485,425Q520,420 560,430Q600,440 620,455Q640,470 640,515Q640,560 620,590Q600,620 585,660Q570,700 565,740Q560,780 530,780Q500,780 475,770Q450,760 440,705Q430,650 435,595Q440,540 445,485Z" fill="#9c7207" opacity="1"/>
<path d="M472.5,595Q480,540 510,530Q540,520 555,540Q570,560 565,630Q560,700 550,735Q540,770 510,765Q480,760 472.5,705Q465,650 472.5,595Z" fill="#d4a608" opacity="1"/>
<path d="M417.5,207.5Q425,185 435,200Q445,215 457.5,252.5Q470,290 476,325Q482,360 477,395Q472,430 464,475Q456,520 444,580Q432,640 426,680Q420,720 410,770Q400,820 386,850Q372,880 351,888.5Q330,897 315,889.5Q300,882 275,852Q250,822 232,781Q214,740 207,690Q200,640 209,580Q218,520 238,470Q258,420 279,380Q300,340 330,305Q360,270 385,250Q410,230 417.5,207.5Z" fill="#a57a06" opacity="1"/>
<path d="M716.5,284Q715,268 738.5,271.5Q762,275 797,296.5Q832,318 867,358Q902,398 926,439Q950,480 964,525Q978,570 972,625Q966,680 956,720Q946,760 934,805Q922,850 901,895Q880,940 850,970Q820,1000 780,1018Q740,1036 710,1033Q680,1030 650,1005Q620,980 604,940Q588,900 578,850Q568,800 564,750Q560,700 568,660Q576,620 598,590Q620,560 630,505Q640,450 660,405Q680,360 699,330Q718,300 716.5,284Z" fill="#a77c06" opacity="1"/>
<path d="M275,460Q300,360 350,320Q400,280 420,290Q440,300 430,400Q420,500 400,600Q380,700 355,780Q330,860 305,850Q280,840 260,780Q240,720 245,640Q250,560 275,460Z" fill="#946d07" opacity="0.45" filter="url(#lb20)"/>
<path d="M640,585Q640,470 700,445Q760,420 820,440Q880,460 905,510Q930,560 915,630Q900,700 830,730Q760,760 700,730Q640,700 640,585Z" fill="#ba8907" opacity="0.6" filter="url(#lb20)"/>
<path d="M640,900Q620,820 690,810Q760,800 830,790Q900,780 890,850Q880,920 820,960Q760,1000 710,990Q660,980 640,900Z" fill="#947007" opacity="0.45" filter="url(#lb20)"/>
<path d="M280,820Q260,760 295,760Q330,760 345,810Q360,860 330,870Q300,880 280,820Z" fill="#ba8b08" opacity="0.5" filter="url(#lb8)"/>
<clipPath id="mcl1"><path d="M417.5,207.5Q425,185 435,200Q445,215 457.5,252.5Q470,290 476,325Q482,360 477,395Q472,430 464,475Q456,520 444,580Q432,640 426,680Q420,720 410,770Q400,820 386,850Q372,880 351,888.5Q330,897 315,889.5Q300,882 275,852Q250,822 232,781Q214,740 207,690Q200,640 209,580Q218,520 238,470Q258,420 279,380Q300,340 330,305Q360,270 385,250Q410,230 417.5,207.5Z"/><path d="M716.5,284Q715,268 738.5,271.5Q762,275 797,296.5Q832,318 867,358Q902,398 926,439Q950,480 964,525Q978,570 972,625Q966,680 956,720Q946,760 934,805Q922,850 901,895Q880,940 850,970Q820,1000 780,1018Q740,1036 710,1033Q680,1030 650,1005Q620,980 604,940Q588,900 578,850Q568,800 564,750Q560,700 568,660Q576,620 598,590Q620,560 630,505Q640,450 660,405Q680,360 699,330Q718,300 716.5,284Z"/><path d="M445,485Q450,430 485,425Q520,420 560,430Q600,440 620,455Q640,470 640,515Q640,560 620,590Q600,620 585,660Q570,700 565,740Q560,780 530,780Q500,780 475,770Q450,760 440,705Q430,650 435,595Q440,540 445,485Z"/></clipPath>
<g clip-path="url(#mcl1)"><rect x="0" y="0" width="1250" height="1250" filter="url(#fmot)" opacity="0.3"/><rect x="0" y="0" width="1250" height="1250" filter="url(#fmot2)" opacity="0.3"/></g>
<path d="M625,795Q620,760 660,745Q700,730 740,735Q780,740 810,765Q840,790 820,805Q800,820 750,815Q700,810 665,820Q630,830 625,795Z" fill="#d5a608" opacity="0.95"/>
<path d="M830,330 Q920,420 940,560 Q950,650 930,720" stroke="#7a4a2a" stroke-width="10" fill="none" opacity="0.55" filter="url(#lb4)"/>
<path d="M700,540 Q720,620 700,700" stroke="#8a5a30" stroke-width="10" fill="none" opacity="0.45" filter="url(#lb4)"/>
<ellipse cx="632.4" cy="818" rx="7.7" ry="5.1" fill="#803d06" opacity="0.45" filter="url(#lb2)"/>
<ellipse cx="793.4" cy="578.4" rx="6.8" ry="5.4" fill="#803d06" opacity="0.45" filter="url(#lb2)"/>
<ellipse cx="890" cy="608.8" rx="9.8" ry="6.9" fill="#803d06" opacity="0.45" filter="url(#lb2)"/>
<ellipse cx="713.7" cy="714.5" rx="8" ry="4.4" fill="#803d06" opacity="0.45" filter="url(#lb2)"/>
<ellipse cx="648" cy="957.4" rx="4" ry="6.4" fill="#713504" opacity="0.45" filter="url(#lb2)"/>
<ellipse cx="876.7" cy="941.2" rx="8.1" ry="7.3" fill="#803d06" opacity="0.45" filter="url(#lb2)"/>
<ellipse cx="763.5" cy="692.6" rx="5.8" ry="7.1" fill="#713504" opacity="0.45" filter="url(#lb2)"/>
<ellipse cx="914.6" cy="920.1" rx="6.5" ry="8.9" fill="#713504" opacity="0.45" filter="url(#lb2)"/>
<ellipse cx="733" cy="629" rx="6.3" ry="6.9" fill="#803d06" opacity="0.45" filter="url(#lb2)"/>
<ellipse cx="918.2" cy="827.8" rx="6.1" ry="9.4" fill="#803d06" opacity="0.45" filter="url(#lb2)"/>
<ellipse cx="701.3" cy="703.5" rx="9.5" ry="7.2" fill="#713504" opacity="0.45" filter="url(#lb2)"/>
<ellipse cx="792.9" cy="952.2" rx="6.3" ry="6.6" fill="#803d06" opacity="0.45" filter="url(#lb2)"/>
<ellipse cx="742.6" cy="771" rx="8.2" ry="6.3" fill="#803d06" opacity="0.45" filter="url(#lb2)"/>
<ellipse cx="780.4" cy="674.3" rx="9.9" ry="7" fill="#713504" opacity="0.45" filter="url(#lb2)"/>
<ellipse cx="243.5" cy="833.7" rx="5.5" ry="8.6" fill="#804a07" opacity="0.35" filter="url(#lb2)"/>
<ellipse cx="325.8" cy="438.5" rx="7.1" ry="6.2" fill="#804a07" opacity="0.35" filter="url(#lb2)"/>
<ellipse cx="247.2" cy="445.5" rx="6" ry="6.4" fill="#804a07" opacity="0.35" filter="url(#lb2)"/>
<ellipse cx="283.8" cy="607.7" rx="4.2" ry="6.5" fill="#804a07" opacity="0.35" filter="url(#lb2)"/>
<ellipse cx="369.9" cy="517.1" rx="6.5" ry="9" fill="#804a07" opacity="0.35" filter="url(#lb2)"/>
<ellipse cx="242.9" cy="440.5" rx="5.4" ry="7.5" fill="#804a07" opacity="0.35" filter="url(#lb2)"/>
<ellipse cx="371.6" cy="392.8" rx="5.7" ry="7.4" fill="#804a07" opacity="0.35" filter="url(#lb2)"/>
<ellipse cx="246.6" cy="501.2" rx="6.3" ry="8.6" fill="#804a07" opacity="0.35" filter="url(#lb2)"/>
<ellipse cx="840" cy="425" rx="20" ry="22" fill="#f0dc18"/>
<ellipse cx="738" cy="585" rx="12" ry="14" fill="#e4cc18"/>
<ellipse cx="490" cy="440" rx="30" ry="20" fill="#7a6040" opacity="0.6" filter="url(#lb4)"/>
<polygon points="0,0 -60,-50 -60,-25 -120,-25 -120,25 -60,25 -60,50" fill="#000" transform="translate(275,570) rotate(0)"/>
<polygon points="0,0 -60,-50 -60,-25 -120,-25 -120,25 -60,25 -60,50" fill="#000" transform="translate(262,750) rotate(0)"/>
<polygon points="0,0 -60,-50 -60,-25 -120,-25 -120,25 -60,25 -60,50" fill="#000" transform="translate(815,422) rotate(0)"/>
<polygon points="0,0 -60,-50 -60,-25 -120,-25 -120,25 -60,25 -60,50" fill="#000" transform="translate(695,588) rotate(0)"/>
<polygon points="0,0 -60,-50 -60,-25 -120,-25 -120,25 -60,25 -60,50" fill="#000" transform="translate(822,648) rotate(-28)"/>
</g></g>
<clipPath id="lc2"><rect x="271.8" y="774" width="239.5" height="242"/></clipPath>
<g clip-path="url(#lc2)">
<rect x="271.8" y="774" width="239.5" height="242" fill="#fafafa"/>
<g transform="translate(270,772) scale(0.20608)">
<ellipse cx="580" cy="700" rx="450" ry="350" fill="#dcd8d0" opacity="0.35" filter="url(#lb40)"/>
<ellipse cx="115.3" cy="889.5" rx="4.3" ry="4.7" fill="#ba9215" opacity="0.5" filter="url(#lb2)"/>
<ellipse cx="1001.6" cy="949.1" rx="4.4" ry="5" fill="#a77710" opacity="0.5" filter="url(#lb2)"/>
<ellipse cx="1043.8" cy="591.8" rx="5.3" ry="3.9" fill="#a77710" opacity="0.5" filter="url(#lb2)"/>
<ellipse cx="829.4" cy="561.2" rx="3.9" ry="5.3" fill="#ba9215" opacity="0.5" filter="url(#lb2)"/>
<ellipse cx="249.8" cy="604.5" rx="4.6" ry="4.5" fill="#ba9215" opacity="0.5" filter="url(#lb2)"/>
<ellipse cx="664.8" cy="554.3" rx="4.6" ry="3.1" fill="#a77710" opacity="0.5" filter="url(#lb2)"/>
<ellipse cx="380.6" cy="230.9" rx="3.2" ry="5.8" fill="#ba9215" opacity="0.5" filter="url(#lb2)"/>
<ellipse cx="858.7" cy="1079.8" rx="6" ry="5.1" fill="#a77710" opacity="0.5" filter="url(#lb2)"/>
<ellipse cx="229.5" cy="266.2" rx="4.8" ry="5.5" fill="#a77710" opacity="0.5" filter="url(#lb2)"/>
<ellipse cx="848.1" cy="277.9" rx="3.9" ry="5.8" fill="#a77710" opacity="0.5" filter="url(#lb2)"/>
<ellipse cx="292.2" cy="326" rx="5.4" ry="3.2" fill="#a77710" opacity="0.5" filter="url(#lb2)"/>
<ellipse cx="145.7" cy="252.8" rx="4.1" ry="3.2" fill="#a77710" opacity="0.5" filter="url(#lb2)"/>
<ellipse cx="699.7" cy="262.4" rx="4.2" ry="4.9" fill="#a77710" opacity="0.5" filter="url(#lb2)"/>
<ellipse cx="553.3" cy="448.8" rx="4.8" ry="4.5" fill="#ba9215" opacity="0.5" filter="url(#lb2)"/>
<ellipse cx="1060.5" cy="281.3" rx="3.9" ry="4.7" fill="#ba9215" opacity="0.5" filter="url(#lb2)"/>
<ellipse cx="1055.9" cy="677.1" rx="4.9" ry="3.8" fill="#a77710" opacity="0.5" filter="url(#lb2)"/>
<ellipse cx="366.9" cy="863" rx="4.6" ry="3.4" fill="#a77710" opacity="0.5" filter="url(#lb2)"/>
<ellipse cx="1006.7" cy="580.7" rx="4.2" ry="3.4" fill="#a77710" opacity="0.5" filter="url(#lb2)"/>
<ellipse cx="787.8" cy="231" rx="5" ry="3.3" fill="#a77710" opacity="0.5" filter="url(#lb2)"/>
<ellipse cx="631.8" cy="580.8" rx="4.2" ry="4.4" fill="#ba9215" opacity="0.5" filter="url(#lb2)"/>
<ellipse cx="213" cy="654.2" rx="4.6" ry="4.2" fill="#a77710" opacity="0.5" filter="url(#lb2)"/>
<ellipse cx="1091.9" cy="557.9" rx="5.4" ry="5.2" fill="#a77710" opacity="0.5" filter="url(#lb2)"/>
<ellipse cx="1121.3" cy="781.8" rx="5.5" ry="3.4" fill="#ba9215" opacity="0.5" filter="url(#lb2)"/>
<ellipse cx="472" cy="373.3" rx="4" ry="4.8" fill="#ba9215" opacity="0.5" filter="url(#lb2)"/>
<ellipse cx="935.8" cy="509.2" rx="5.2" ry="4.1" fill="#ba9215" opacity="0.5" filter="url(#lb2)"/>
<ellipse cx="944.7" cy="561.7" rx="5.6" ry="4.6" fill="#a77710" opacity="0.5" filter="url(#lb2)"/>
<ellipse cx="877.2" cy="525.7" rx="3.3" ry="3.1" fill="#a77710" opacity="0.5" filter="url(#lb2)"/>
<ellipse cx="305.4" cy="615.5" rx="5.8" ry="5" fill="#ba9215" opacity="0.5" filter="url(#lb2)"/>
<ellipse cx="100.5" cy="596.7" rx="5.7" ry="4.9" fill="#ba9215" opacity="0.5" filter="url(#lb2)"/>
<ellipse cx="439.4" cy="588.8" rx="3.6" ry="5" fill="#a77710" opacity="0.5" filter="url(#lb2)"/>
<path d="M93.4,799.6Q90,765 100.3,716.7Q110.7,668.3 131.4,640.7Q152.1,613 186.7,578.5Q221.2,543.9 248.9,509.4Q276.5,474.9 314.5,457.6Q352.5,440.3 380.1,419.6Q407.8,398.9 428.5,391.9Q449.2,385 459.6,398.9Q469.9,412.7 463,443.8Q456.1,474.9 459.6,516.3Q463,557.8 459.6,592.3Q456.1,626.8 445.8,668.3Q435.4,709.8 425,758.1Q414.7,806.5 404.3,854.8Q393.9,903.2 383.6,937.8Q373.2,972.3 349,993Q324.9,1013.8 297.2,1024.1Q269.6,1034.5 245.4,1027.6Q221.2,1020.7 197,989.6Q172.9,958.5 152.1,923.9Q131.4,889.4 114.1,861.8Q96.9,834.1 93.4,799.6Z" fill="#cdc8bc" opacity="0.6" filter="url(#lb8)"/>
<path d="M545.9,364.3Q539,336.7 556.3,326.3Q573.6,315.9 604.7,314.2Q635.8,312.5 670.3,315.9Q704.9,319.4 756.7,321.1Q808.5,322.9 849.9,329.8Q891.4,336.7 908.7,353.9Q925.9,371.2 922.5,402.3Q919,433.4 946.7,457.6Q974.3,481.8 984.7,502.5Q995,523.2 984.7,554.3Q974.3,585.4 946.7,599.2Q919,613 877.6,626.8Q836.1,640.7 801.6,654.5Q767,668.3 739.4,654.5Q711.8,640.7 684.1,616.5Q656.5,592.3 632.3,568.1Q608.1,543.9 590.9,502.5Q573.6,461 563.2,426.5Q552.9,391.9 545.9,364.3Z" fill="#cdc8bc" opacity="0.6" filter="url(#lb8)"/>
<path d="M659.9,730.5Q649.6,695.9 677.2,675.2Q704.9,654.5 742.9,661.4Q780.9,668.3 829.2,644.1Q877.6,619.9 912.1,630.3Q946.7,640.7 977.8,661.4Q1008.9,682.1 1026.1,706.3Q1043.4,730.5 1043.4,754.7Q1043.4,778.8 1029.6,799.6Q1015.8,820.3 1008.9,844.5Q1001.9,868.7 1005.4,906.7Q1008.9,944.7 998.5,968.8Q988.1,993 960.5,999.9Q932.9,1006.8 912.1,993Q891.4,979.2 856.9,948.1Q822.3,917 794.7,889.4Q767,861.8 739.4,841Q711.8,820.3 691,792.7Q670.3,765 659.9,730.5Z" fill="#cdc8bc" opacity="0.6" filter="url(#lb8)"/>
<path d="M469.9,682.1Q476.9,640.7 504.5,626.8Q532.1,613 559.8,619.9Q587.4,626.8 608.1,647.6Q628.9,668.3 649.6,695.9Q670.3,723.6 697.9,758.1Q725.6,792.7 739.4,823.8Q753.2,854.8 746.3,875.6Q739.4,896.3 704.9,903.2Q670.3,910.1 635.8,917Q601.2,923.9 573.6,917Q545.9,910.1 521.8,892.8Q497.6,875.6 487.2,841Q476.9,806.5 469.9,765Q463,723.6 469.9,682.1Z" fill="#cdc8bc" opacity="0.6" filter="url(#lb8)"/>
<path d="M476.9,485.2Q469.9,461 494.1,454.1Q518.3,447.2 539,454.1Q559.8,461 573.6,485.2Q587.4,509.4 594.3,533.6Q601.2,557.8 594.3,578.5Q587.4,599.2 566.7,592.3Q545.9,585.4 525.2,571.6Q504.5,557.8 494.1,533.6Q483.8,509.4 476.9,485.2Z" fill="#cdc8bc" opacity="0.6" filter="url(#lb8)"/>
<path d="M438.9,689Q442.3,613 459.6,609.6Q476.9,606.1 483.8,637.2Q490.7,668.3 483.8,723.6Q476.9,778.8 463,799.6Q449.2,820.3 442.3,792.7Q435.4,765 438.9,689Z" fill="#cdc8bc" opacity="0.6" filter="url(#lb8)"/>
<path d="M476.9,485.2Q469.9,461 494.1,454.1Q518.3,447.2 539,454.1Q559.8,461 573.6,485.2Q587.4,509.4 594.3,533.6Q601.2,557.8 594.3,578.5Q587.4,599.2 566.7,592.3Q545.9,585.4 525.2,571.6Q504.5,557.8 494.1,533.6Q483.8,509.4 476.9,485.2Z" fill="#c89807" stroke="#d7a908" stroke-width="8" stroke-linejoin="round" opacity="1"/>
<ellipse cx="490.7" cy="467.9" rx="22" ry="18" fill="#a04a20" opacity="0.75" filter="url(#lb4)"/>
<path d="M438.9,689Q442.3,613 459.6,609.6Q476.9,606.1 483.8,637.2Q490.7,668.3 483.8,723.6Q476.9,778.8 463,799.6Q449.2,820.3 442.3,792.7Q435.4,765 438.9,689Z" fill="#ab7e06" stroke="#c89506" stroke-width="8" stroke-linejoin="round" opacity="1"/>
<path d="M469.9,682.1Q476.9,640.7 504.5,626.8Q532.1,613 559.8,619.9Q587.4,626.8 608.1,647.6Q628.9,668.3 649.6,695.9Q670.3,723.6 697.9,758.1Q725.6,792.7 739.4,823.8Q753.2,854.8 746.3,875.6Q739.4,896.3 704.9,903.2Q670.3,910.1 635.8,917Q601.2,923.9 573.6,917Q545.9,910.1 521.8,892.8Q497.6,875.6 487.2,841Q476.9,806.5 469.9,765Q463,723.6 469.9,682.1Z" fill="#966f06" stroke="#c59006" stroke-width="10" stroke-linejoin="round" opacity="1"/>
<path d="M659.9,730.5Q649.6,695.9 677.2,675.2Q704.9,654.5 742.9,661.4Q780.9,668.3 829.2,644.1Q877.6,619.9 912.1,630.3Q946.7,640.7 977.8,661.4Q1008.9,682.1 1026.1,706.3Q1043.4,730.5 1043.4,754.7Q1043.4,778.8 1029.6,799.6Q1015.8,820.3 1008.9,844.5Q1001.9,868.7 1005.4,906.7Q1008.9,944.7 998.5,968.8Q988.1,993 960.5,999.9Q932.9,1006.8 912.1,993Q891.4,979.2 856.9,948.1Q822.3,917 794.7,889.4Q767,861.8 739.4,841Q711.8,820.3 691,792.7Q670.3,765 659.9,730.5Z" fill="#926b07" stroke="#c18b06" stroke-width="10" stroke-linejoin="round" opacity="1"/>
<path d="M545.9,364.3Q539,336.7 556.3,326.3Q573.6,315.9 604.7,314.2Q635.8,312.5 670.3,315.9Q704.9,319.4 756.7,321.1Q808.5,322.9 849.9,329.8Q891.4,336.7 908.7,353.9Q925.9,371.2 922.5,402.3Q919,433.4 946.7,457.6Q974.3,481.8 984.7,502.5Q995,523.2 984.7,554.3Q974.3,585.4 946.7,599.2Q919,613 877.6,626.8Q836.1,640.7 801.6,654.5Q767,668.3 739.4,654.5Q711.8,640.7 684.1,616.5Q656.5,592.3 632.3,568.1Q608.1,543.9 590.9,502.5Q573.6,461 563.2,426.5Q552.9,391.9 545.9,364.3Z" fill="#946d07" stroke="#c58e06" stroke-width="10" stroke-linejoin="round" opacity="1"/>
<path d="M93.4,799.6Q90,765 100.3,716.7Q110.7,668.3 131.4,640.7Q152.1,613 186.7,578.5Q221.2,543.9 248.9,509.4Q276.5,474.9 314.5,457.6Q352.5,440.3 380.1,419.6Q407.8,398.9 428.5,391.9Q449.2,385 459.6,398.9Q469.9,412.7 463,443.8Q456.1,474.9 459.6,516.3Q463,557.8 459.6,592.3Q456.1,626.8 445.8,668.3Q435.4,709.8 425,758.1Q414.7,806.5 404.3,854.8Q393.9,903.2 383.6,937.8Q373.2,972.3 349,993Q324.9,1013.8 297.2,1024.1Q269.6,1034.5 245.4,1027.6Q221.2,1020.7 197,989.6Q172.9,958.5 152.1,923.9Q131.4,889.4 114.1,861.8Q96.9,834.1 93.4,799.6Z" fill="#8f6807" stroke="#bd8806" stroke-width="10" stroke-linejoin="round" opacity="1"/>
<clipPath id="mcl2"><path d="M93.4,799.6Q90,765 100.3,716.7Q110.7,668.3 131.4,640.7Q152.1,613 186.7,578.5Q221.2,543.9 248.9,509.4Q276.5,474.9 314.5,457.6Q352.5,440.3 380.1,419.6Q407.8,398.9 428.5,391.9Q449.2,385 459.6,398.9Q469.9,412.7 463,443.8Q456.1,474.9 459.6,516.3Q463,557.8 459.6,592.3Q456.1,626.8 445.8,668.3Q435.4,709.8 425,758.1Q414.7,806.5 404.3,854.8Q393.9,903.2 383.6,937.8Q373.2,972.3 349,993Q324.9,1013.8 297.2,1024.1Q269.6,1034.5 245.4,1027.6Q221.2,1020.7 197,989.6Q172.9,958.5 152.1,923.9Q131.4,889.4 114.1,861.8Q96.9,834.1 93.4,799.6Z"/><path d="M545.9,364.3Q539,336.7 556.3,326.3Q573.6,315.9 604.7,314.2Q635.8,312.5 670.3,315.9Q704.9,319.4 756.7,321.1Q808.5,322.9 849.9,329.8Q891.4,336.7 908.7,353.9Q925.9,371.2 922.5,402.3Q919,433.4 946.7,457.6Q974.3,481.8 984.7,502.5Q995,523.2 984.7,554.3Q974.3,585.4 946.7,599.2Q919,613 877.6,626.8Q836.1,640.7 801.6,654.5Q767,668.3 739.4,654.5Q711.8,640.7 684.1,616.5Q656.5,592.3 632.3,568.1Q608.1,543.9 590.9,502.5Q573.6,461 563.2,426.5Q552.9,391.9 545.9,364.3Z"/><path d="M659.9,730.5Q649.6,695.9 677.2,675.2Q704.9,654.5 742.9,661.4Q780.9,668.3 829.2,644.1Q877.6,619.9 912.1,630.3Q946.7,640.7 977.8,661.4Q1008.9,682.1 1026.1,706.3Q1043.4,730.5 1043.4,754.7Q1043.4,778.8 1029.6,799.6Q1015.8,820.3 1008.9,844.5Q1001.9,868.7 1005.4,906.7Q1008.9,944.7 998.5,968.8Q988.1,993 960.5,999.9Q932.9,1006.8 912.1,993Q891.4,979.2 856.9,948.1Q822.3,917 794.7,889.4Q767,861.8 739.4,841Q711.8,820.3 691,792.7Q670.3,765 659.9,730.5Z"/><path d="M469.9,682.1Q476.9,640.7 504.5,626.8Q532.1,613 559.8,619.9Q587.4,626.8 608.1,647.6Q628.9,668.3 649.6,695.9Q670.3,723.6 697.9,758.1Q725.6,792.7 739.4,823.8Q753.2,854.8 746.3,875.6Q739.4,896.3 704.9,903.2Q670.3,910.1 635.8,917Q601.2,923.9 573.6,917Q545.9,910.1 521.8,892.8Q497.6,875.6 487.2,841Q476.9,806.5 469.9,765Q463,723.6 469.9,682.1Z"/></clipPath>
<g clip-path="url(#mcl2)"><rect x="0" y="0" width="1250" height="1250" filter="url(#fmot)" opacity="0.3"/><rect x="0" y="0" width="1250" height="1250" filter="url(#fmot2)" opacity="0.22"/></g>
<ellipse cx="258.6" cy="754.3" rx="8.4" ry="4.8" fill="#803d06" opacity="0.4" filter="url(#lb2)"/>
<ellipse cx="182" cy="927.4" rx="7.8" ry="7.4" fill="#803d06" opacity="0.4" filter="url(#lb2)"/>
<ellipse cx="289.8" cy="612.8" rx="8.6" ry="5.8" fill="#803d06" opacity="0.4" filter="url(#lb2)"/>
<ellipse cx="349.4" cy="869.5" rx="6.4" ry="8.7" fill="#803d06" opacity="0.4" filter="url(#lb2)"/>
<ellipse cx="377.8" cy="729.7" rx="6.3" ry="5.2" fill="#803d06" opacity="0.4" filter="url(#lb2)"/>
<ellipse cx="159.7" cy="885.9" rx="6.9" ry="7.3" fill="#803d06" opacity="0.4" filter="url(#lb2)"/>
<ellipse cx="414.4" cy="882.7" rx="7.4" ry="4.9" fill="#803d06" opacity="0.4" filter="url(#lb2)"/>
<ellipse cx="232.1" cy="892.9" rx="7.6" ry="4.8" fill="#803d06" opacity="0.4" filter="url(#lb2)"/>
<ellipse cx="802.2" cy="754.3" rx="4.3" ry="7.7" fill="#803d06" opacity="0.4" filter="url(#lb2)"/>
<ellipse cx="761.5" cy="715.8" rx="8.7" ry="6.5" fill="#803d06" opacity="0.4" filter="url(#lb2)"/>
<ellipse cx="768" cy="917.2" rx="9" ry="7.4" fill="#803d06" opacity="0.4" filter="url(#lb2)"/>
<ellipse cx="932" cy="761.6" rx="8.8" ry="4.6" fill="#803d06" opacity="0.4" filter="url(#lb2)"/>
<ellipse cx="772.9" cy="763.3" rx="4.3" ry="6.4" fill="#803d06" opacity="0.4" filter="url(#lb2)"/>
<ellipse cx="771.5" cy="916.7" rx="6.7" ry="7.8" fill="#803d06" opacity="0.4" filter="url(#lb2)"/>
<ellipse cx="988" cy="750.6" rx="8.2" ry="7.8" fill="#803d06" opacity="0.4" filter="url(#lb2)"/>
<ellipse cx="887.5" cy="721.9" rx="5.9" ry="4.6" fill="#803d06" opacity="0.4" filter="url(#lb2)"/>
<path d="M594.3,668.3 Q573.6,751.2 552.9,813.4" stroke="#d8d040" stroke-width="7" fill="none" opacity="0.7"/>
<ellipse cx="120" cy="772" rx="24" ry="30" fill="#ecd410"/><ellipse cx="120" cy="772" rx="12" ry="15" fill="#d4b410"/>
<ellipse cx="838" cy="676" rx="26" ry="20" fill="#ecd410"/><ellipse cx="838" cy="676" rx="13" ry="10" fill="#d4b410"/>
</g></g>
<g transform="translate(270,772) scale(0.20608)">
<polygon points="0,0 -60,-50 -60,-25 -120,-25 -120,25 -60,25 -60,50" fill="#000" transform="translate(90,790) rotate(0)"/>
<polygon points="0,0 -60,-50 -60,-25 -120,-25 -120,25 -60,25 -60,50" fill="#000" transform="translate(765,688) rotate(0)"/>
</g>
<clipPath id="ld1"><rect x="878.2" y="774" width="238.8" height="242"/></clipPath>
<g clip-path="url(#ld1)">
<rect x="878.2" y="774" width="238.8" height="242" fill="#f1f1f3"/>
<g transform="translate(876,772) scale(0.20608)">
<ellipse cx="600" cy="630" rx="430" ry="380" fill="#d8d6d4" opacity="0.4" filter="url(#lb40)"/>
<path d="M163.9,626.8Q160.3,593.9 171.2,542.7Q182.2,491.5 204.2,458.6Q226.1,425.7 240.7,444Q255.3,462.3 259,491.5Q262.7,520.8 284.6,539.1Q306.5,557.4 332.1,561Q357.7,564.7 372.4,579.3Q387,593.9 383.3,623.2Q379.7,652.4 357.7,674.4Q335.8,696.3 306.5,710.9Q277.3,725.6 244.4,718.2Q211.5,710.9 189.5,685.3Q167.6,659.7 163.9,626.8Z" fill="#c8c4bc" opacity="0.6" filter="url(#lb8)"/>
<path d="M317.5,458.6Q313.9,425.7 324.8,389.2Q335.8,352.6 354.1,334.3Q372.4,316 401.6,308.7Q430.9,301.4 456.5,294.1Q482,286.8 489.4,316Q496.7,345.3 482,385.5Q467.4,425.7 445.5,451.3Q423.5,476.9 408.9,502.5Q394.3,528.1 376,528.1Q357.7,528.1 339.4,509.8Q321.2,491.5 317.5,458.6Z" fill="#c8c4bc" opacity="0.6" filter="url(#lb8)"/>
<path d="M489.4,316Q482,286.8 493,275.8Q504,264.8 529.6,257.5Q555.2,250.2 569.8,253.9Q584.4,257.5 591.7,279.5Q599.1,301.4 584.4,330.7Q569.8,359.9 547.9,367.2Q525.9,374.5 511.3,359.9Q496.7,345.3 489.4,316Z" fill="#c8c4bc" opacity="0.6" filter="url(#lb8)"/>
<path d="M525.9,374.5Q525.9,345.3 555.2,319.7Q584.4,294.1 628.3,268.5Q672.2,242.9 708.8,246.6Q745.3,250.2 774.6,257.5Q803.8,264.8 811.1,297.8Q818.4,330.7 796.5,367.2Q774.6,403.8 745.3,433Q716.1,462.3 679.5,476.9Q642.9,491.5 613.7,491.5Q584.4,491.5 562.5,476.9Q540.6,462.3 533.2,433Q525.9,403.8 525.9,374.5Z" fill="#c8c4bc" opacity="0.6" filter="url(#lb8)"/>
<path d="M774.6,272.2Q745.3,250.2 774.6,253.9Q803.8,257.5 833.1,275.8Q862.3,294.1 891.6,312.4Q920.8,330.7 957.4,341.6Q994,352.6 1012.2,378.2Q1030.5,403.8 1037.8,447.7Q1045.2,491.5 1048.8,542.7Q1052.5,593.9 1041.5,623.2Q1030.5,652.4 1012.2,667.1Q994,681.7 964.7,685.3Q935.5,689 920.8,670.7Q906.2,652.4 913.5,619.5Q920.8,586.6 931.8,539.1Q942.8,491.5 924.5,447.7Q906.2,403.8 869.6,374.5Q833.1,345.3 818.4,319.7Q803.8,294.1 774.6,272.2Z" fill="#c8c4bc" opacity="0.6" filter="url(#lb8)"/>
<path d="M621,590.3Q613.7,579.3 642.9,561Q672.2,542.7 723.4,517.1Q774.6,491.5 811.1,469.6Q847.7,447.7 877,433Q906.2,418.4 928.1,440.4Q950.1,462.3 942.8,498.9Q935.5,535.4 920.8,564.7Q906.2,593.9 898.9,615.9Q891.6,637.8 884.3,663.4Q877,689 847.7,692.7Q818.4,696.3 789.2,681.7Q759.9,667.1 738,645.1Q716.1,623.2 694.1,615.9Q672.2,608.6 650.2,604.9Q628.3,601.2 621,590.3Z" fill="#c8c4bc" opacity="0.6" filter="url(#lb8)"/>
<path d="M390.6,506.2Q387,462.3 412.6,455Q438.2,447.7 467.4,462.3Q496.7,476.9 525.9,498.9Q555.2,520.8 569.8,550Q584.4,579.3 577.1,608.6Q569.8,637.8 547.9,659.7Q525.9,681.7 496.7,689Q467.4,696.3 445.5,689Q423.5,681.7 412.6,652.4Q401.6,623.2 398,586.6Q394.3,550 390.6,506.2Z" fill="#c8c4bc" opacity="0.6" filter="url(#lb8)"/>
<path d="M441.8,791.4Q445.5,740.2 456.5,710.9Q467.4,681.7 496.7,659.7Q525.9,637.8 555.2,630.5Q584.4,623.2 606.4,637.8Q628.3,652.4 635.6,696.3Q642.9,740.2 657.6,784.1Q672.2,827.9 679.5,857.2Q686.8,886.4 679.5,923Q672.2,959.6 650.2,977.9Q628.3,996.1 591.7,1003.5Q555.2,1010.8 518.6,1003.5Q482,996.1 463.8,963.2Q445.5,930.3 441.8,886.4Q438.2,842.6 441.8,791.4Z" fill="#c8c4bc" opacity="0.6" filter="url(#lb8)"/>
<path d="M547.9,849.9Q547.9,827.9 558.8,791.4Q569.8,754.8 591.7,732.9Q613.7,710.9 635.6,703.6Q657.6,696.3 679.5,696.3Q701.4,696.3 719.7,710.9Q738,725.6 741.7,769.4Q745.3,813.3 734.3,849.9Q723.4,886.4 705.1,908.4Q686.8,930.3 657.6,926.7Q628.3,923 599.1,912Q569.8,901.1 558.8,886.4Q547.9,871.8 547.9,849.9Z" fill="#c8c4bc" opacity="0.6" filter="url(#lb8)"/>
<path d="M756.3,729.2Q759.9,696.3 789.2,692.7Q818.4,689 855,685.3Q891.6,681.7 913.5,685.3Q935.5,689 957.4,700Q979.3,710.9 986.6,740.2Q994,769.4 986.6,798.7Q979.3,827.9 957.4,853.5Q935.5,879.1 906.2,893.8Q877,908.4 847.7,908.4Q818.4,908.4 800.2,897.4Q781.9,886.4 770.9,857.2Q759.9,827.9 756.3,795Q752.6,762.1 756.3,729.2Z" fill="#c8c4bc" opacity="0.6" filter="url(#lb8)"/>
<path d="M354.1,466Q335.8,367.2 445.5,319.7Q555.2,272.2 664.9,264.8Q774.6,257.5 884.3,312.4Q994,367.2 1015.9,495.2Q1037.8,623.2 997.6,659.7Q957.4,696.3 866,696.3Q774.6,696.3 701.4,678Q628.3,659.7 555.2,659.7Q482,659.7 427.2,612.2Q372.4,564.7 354.1,466Z" fill="#644a06" opacity="1"/>
<path d="M774.6,272.2Q745.3,250.2 774.6,253.9Q803.8,257.5 833.1,275.8Q862.3,294.1 891.6,312.4Q920.8,330.7 957.4,341.6Q994,352.6 1012.2,378.2Q1030.5,403.8 1037.8,447.7Q1045.2,491.5 1048.8,542.7Q1052.5,593.9 1041.5,623.2Q1030.5,652.4 1012.2,667.1Q994,681.7 964.7,685.3Q935.5,689 920.8,670.7Q906.2,652.4 913.5,619.5Q920.8,586.6 931.8,539.1Q942.8,491.5 924.5,447.7Q906.2,403.8 869.6,374.5Q833.1,345.3 818.4,319.7Q803.8,294.1 774.6,272.2Z" fill="#7c6006" stroke="#c18403" stroke-width="14" stroke-linejoin="round" opacity="1"/>
<path d="M317.5,458.6Q313.9,425.7 324.8,389.2Q335.8,352.6 354.1,334.3Q372.4,316 401.6,308.7Q430.9,301.4 456.5,294.1Q482,286.8 489.4,316Q496.7,345.3 482,385.5Q467.4,425.7 445.5,451.3Q423.5,476.9 408.9,502.5Q394.3,528.1 376,528.1Q357.7,528.1 339.4,509.8Q321.2,491.5 317.5,458.6Z" fill="#7e6106" stroke="#ba7e04" stroke-width="12" stroke-linejoin="round" opacity="1"/>
<path d="M525.9,374.5Q525.9,345.3 555.2,319.7Q584.4,294.1 628.3,268.5Q672.2,242.9 708.8,246.6Q745.3,250.2 774.6,257.5Q803.8,264.8 811.1,297.8Q818.4,330.7 796.5,367.2Q774.6,403.8 745.3,433Q716.1,462.3 679.5,476.9Q642.9,491.5 613.7,491.5Q584.4,491.5 562.5,476.9Q540.6,462.3 533.2,433Q525.9,403.8 525.9,374.5Z" fill="#5e4506" stroke="#a37706" stroke-width="10" stroke-linejoin="round" opacity="1"/>
<clipPath id="dkc1"><path d="M525.9,374.5Q525.9,345.3 555.2,319.7Q584.4,294.1 628.3,268.5Q672.2,242.9 708.8,246.6Q745.3,250.2 774.6,257.5Q803.8,264.8 811.1,297.8Q818.4,330.7 796.5,367.2Q774.6,403.8 745.3,433Q716.1,462.3 679.5,476.9Q642.9,491.5 613.7,491.5Q584.4,491.5 562.5,476.9Q540.6,462.3 533.2,433Q525.9,403.8 525.9,374.5Z"/></clipPath><g clip-path="url(#dkc1)">
<ellipse cx="783.6" cy="422.8" rx="15.9" ry="12.3" fill="#24160e" opacity="0.8" filter="url(#lb4)"/>
<ellipse cx="725.8" cy="370.8" rx="25.8" ry="21.4" fill="#2e1e14" opacity="0.8" filter="url(#lb4)"/>
<ellipse cx="814.2" cy="429.6" rx="17.5" ry="20.1" fill="#2e1e14" opacity="0.8" filter="url(#lb4)"/>
<ellipse cx="773.1" cy="336.6" rx="20.7" ry="26" fill="#3a2418" opacity="0.8" filter="url(#lb4)"/>
<ellipse cx="836.7" cy="357.5" rx="14.3" ry="13.5" fill="#2e1e14" opacity="0.8" filter="url(#lb4)"/>
<ellipse cx="807.3" cy="415.9" rx="29.4" ry="24" fill="#3a2418" opacity="0.8" filter="url(#lb4)"/>
<ellipse cx="654.7" cy="404.1" rx="12.9" ry="15.6" fill="#3a2418" opacity="0.8" filter="url(#lb4)"/>
<ellipse cx="851.8" cy="426.3" rx="13.3" ry="25.9" fill="#3a2418" opacity="0.8" filter="url(#lb4)"/>
<ellipse cx="820.6" cy="386.7" rx="28.1" ry="23.8" fill="#2e1e14" opacity="0.8" filter="url(#lb4)"/>
<ellipse cx="777.9" cy="373.1" rx="26.7" ry="23.8" fill="#2e1e14" opacity="0.8" filter="url(#lb4)"/>
<ellipse cx="814.7" cy="404.1" rx="16.8" ry="26.6" fill="#3a2418" opacity="0.8" filter="url(#lb4)"/>
<ellipse cx="774.9" cy="358.6" rx="17.5" ry="14.5" fill="#3a2418" opacity="0.8" filter="url(#lb4)"/>
<ellipse cx="695.2" cy="265.7" rx="10.6" ry="17.6" fill="#2e1e14" opacity="0.7" filter="url(#lb4)"/>
<ellipse cx="565.5" cy="244.6" rx="11.3" ry="13.6" fill="#3a2418" opacity="0.7" filter="url(#lb4)"/>
<ellipse cx="749.8" cy="295.1" rx="12.3" ry="14.3" fill="#3a2418" opacity="0.7" filter="url(#lb4)"/>
<ellipse cx="600.2" cy="272.2" rx="11.6" ry="16.2" fill="#2e1e14" opacity="0.7" filter="url(#lb4)"/>
<ellipse cx="705.4" cy="248.6" rx="15.3" ry="11.7" fill="#2e1e14" opacity="0.7" filter="url(#lb4)"/>
<ellipse cx="649.2" cy="324.5" rx="17.9" ry="11.2" fill="#3a2418" opacity="0.7" filter="url(#lb4)"/>
</g>
<path d="M489.4,316Q482,286.8 493,275.8Q504,264.8 529.6,257.5Q555.2,250.2 569.8,253.9Q584.4,257.5 591.7,279.5Q599.1,301.4 584.4,330.7Q569.8,359.9 547.9,367.2Q525.9,374.5 511.3,359.9Q496.7,345.3 489.4,316Z" fill="#806506" stroke="#c18d05" stroke-width="10" stroke-linejoin="round" opacity="1"/>
<path d="M542.4,330.7Q540.6,316 555.2,312.4Q569.8,308.7 577.1,323.3Q584.4,338 573.5,347.1Q562.5,356.3 553.4,350.8Q544.2,345.3 542.4,330.7Z" fill="#d0a107" opacity="1"/>
<path d="M163.9,626.8Q160.3,593.9 171.2,542.7Q182.2,491.5 204.2,458.6Q226.1,425.7 240.7,444Q255.3,462.3 259,491.5Q262.7,520.8 284.6,539.1Q306.5,557.4 332.1,561Q357.7,564.7 372.4,579.3Q387,593.9 383.3,623.2Q379.7,652.4 357.7,674.4Q335.8,696.3 306.5,710.9Q277.3,725.6 244.4,718.2Q211.5,710.9 189.5,685.3Q167.6,659.7 163.9,626.8Z" fill="#826506" stroke="#c88b03" stroke-width="14" stroke-linejoin="round" opacity="1"/>
<path d="M390.6,506.2Q387,462.3 412.6,455Q438.2,447.7 467.4,462.3Q496.7,476.9 525.9,498.9Q555.2,520.8 569.8,550Q584.4,579.3 577.1,608.6Q569.8,637.8 547.9,659.7Q525.9,681.7 496.7,689Q467.4,696.3 445.5,689Q423.5,681.7 412.6,652.4Q401.6,623.2 398,586.6Q394.3,550 390.6,506.2Z" fill="#826306" stroke="#c18404" stroke-width="12" stroke-linejoin="round" opacity="1"/>
<path d="M621,590.3Q613.7,579.3 642.9,561Q672.2,542.7 723.4,517.1Q774.6,491.5 811.1,469.6Q847.7,447.7 877,433Q906.2,418.4 928.1,440.4Q950.1,462.3 942.8,498.9Q935.5,535.4 920.8,564.7Q906.2,593.9 898.9,615.9Q891.6,637.8 884.3,663.4Q877,689 847.7,692.7Q818.4,696.3 789.2,681.7Q759.9,667.1 738,645.1Q716.1,623.2 694.1,615.9Q672.2,608.6 650.2,604.9Q628.3,601.2 621,590.3Z" fill="#856607" stroke="#d09205" stroke-width="12" stroke-linejoin="round" opacity="1"/>
<path d="M756.3,729.2Q759.9,696.3 789.2,692.7Q818.4,689 855,685.3Q891.6,681.7 913.5,685.3Q935.5,689 957.4,700Q979.3,710.9 986.6,740.2Q994,769.4 986.6,798.7Q979.3,827.9 957.4,853.5Q935.5,879.1 906.2,893.8Q877,908.4 847.7,908.4Q818.4,908.4 800.2,897.4Q781.9,886.4 770.9,857.2Q759.9,827.9 756.3,795Q752.6,762.1 756.3,729.2Z" fill="#785c07" stroke="#c18403" stroke-width="14" stroke-linejoin="round" opacity="1"/>
<path d="M441.8,791.4Q445.5,740.2 456.5,710.9Q467.4,681.7 496.7,659.7Q525.9,637.8 555.2,630.5Q584.4,623.2 606.4,637.8Q628.3,652.4 635.6,696.3Q642.9,740.2 657.6,784.1Q672.2,827.9 679.5,857.2Q686.8,886.4 679.5,923Q672.2,959.6 650.2,977.9Q628.3,996.1 591.7,1003.5Q555.2,1010.8 518.6,1003.5Q482,996.1 463.8,963.2Q445.5,930.3 441.8,886.4Q438.2,842.6 441.8,791.4Z" fill="#7c5e06" stroke="#c58803" stroke-width="14" stroke-linejoin="round" opacity="1"/>
<path d="M547.9,849.9Q547.9,827.9 558.8,791.4Q569.8,754.8 591.7,732.9Q613.7,710.9 635.6,703.6Q657.6,696.3 679.5,696.3Q701.4,696.3 719.7,710.9Q738,725.6 741.7,769.4Q745.3,813.3 734.3,849.9Q723.4,886.4 705.1,908.4Q686.8,930.3 657.6,926.7Q628.3,923 599.1,912Q569.8,901.1 558.8,886.4Q547.9,871.8 547.9,849.9Z" fill="#856607" stroke="#cc8e05" stroke-width="12" stroke-linejoin="round" opacity="1"/>
<path d="M920.8,696.3Q906.2,681.7 942.8,689Q979.3,696.3 986.6,707.3Q994,718.2 964.7,714.6Q935.5,710.9 920.8,696.3Z" fill="#3a2418" opacity="0.7" filter="url(#lb4)"/>
<clipPath id="mcl3"><path d="M163.9,626.8Q160.3,593.9 171.2,542.7Q182.2,491.5 204.2,458.6Q226.1,425.7 240.7,444Q255.3,462.3 259,491.5Q262.7,520.8 284.6,539.1Q306.5,557.4 332.1,561Q357.7,564.7 372.4,579.3Q387,593.9 383.3,623.2Q379.7,652.4 357.7,674.4Q335.8,696.3 306.5,710.9Q277.3,725.6 244.4,718.2Q211.5,710.9 189.5,685.3Q167.6,659.7 163.9,626.8Z"/><path d="M317.5,458.6Q313.9,425.7 324.8,389.2Q335.8,352.6 354.1,334.3Q372.4,316 401.6,308.7Q430.9,301.4 456.5,294.1Q482,286.8 489.4,316Q496.7,345.3 482,385.5Q467.4,425.7 445.5,451.3Q423.5,476.9 408.9,502.5Q394.3,528.1 376,528.1Q357.7,528.1 339.4,509.8Q321.2,491.5 317.5,458.6Z"/><path d="M489.4,316Q482,286.8 493,275.8Q504,264.8 529.6,257.5Q555.2,250.2 569.8,253.9Q584.4,257.5 591.7,279.5Q599.1,301.4 584.4,330.7Q569.8,359.9 547.9,367.2Q525.9,374.5 511.3,359.9Q496.7,345.3 489.4,316Z"/><path d="M525.9,374.5Q525.9,345.3 555.2,319.7Q584.4,294.1 628.3,268.5Q672.2,242.9 708.8,246.6Q745.3,250.2 774.6,257.5Q803.8,264.8 811.1,297.8Q818.4,330.7 796.5,367.2Q774.6,403.8 745.3,433Q716.1,462.3 679.5,476.9Q642.9,491.5 613.7,491.5Q584.4,491.5 562.5,476.9Q540.6,462.3 533.2,433Q525.9,403.8 525.9,374.5Z"/><path d="M774.6,272.2Q745.3,250.2 774.6,253.9Q803.8,257.5 833.1,275.8Q862.3,294.1 891.6,312.4Q920.8,330.7 957.4,341.6Q994,352.6 1012.2,378.2Q1030.5,403.8 1037.8,447.7Q1045.2,491.5 1048.8,542.7Q1052.5,593.9 1041.5,623.2Q1030.5,652.4 1012.2,667.1Q994,681.7 964.7,685.3Q935.5,689 920.8,670.7Q906.2,652.4 913.5,619.5Q920.8,586.6 931.8,539.1Q942.8,491.5 924.5,447.7Q906.2,403.8 869.6,374.5Q833.1,345.3 818.4,319.7Q803.8,294.1 774.6,272.2Z"/><path d="M621,590.3Q613.7,579.3 642.9,561Q672.2,542.7 723.4,517.1Q774.6,491.5 811.1,469.6Q847.7,447.7 877,433Q906.2,418.4 928.1,440.4Q950.1,462.3 942.8,498.9Q935.5,535.4 920.8,564.7Q906.2,593.9 898.9,615.9Q891.6,637.8 884.3,663.4Q877,689 847.7,692.7Q818.4,696.3 789.2,681.7Q759.9,667.1 738,645.1Q716.1,623.2 694.1,615.9Q672.2,608.6 650.2,604.9Q628.3,601.2 621,590.3Z"/><path d="M390.6,506.2Q387,462.3 412.6,455Q438.2,447.7 467.4,462.3Q496.7,476.9 525.9,498.9Q555.2,520.8 569.8,550Q584.4,579.3 577.1,608.6Q569.8,637.8 547.9,659.7Q525.9,681.7 496.7,689Q467.4,696.3 445.5,689Q423.5,681.7 412.6,652.4Q401.6,623.2 398,586.6Q394.3,550 390.6,506.2Z"/><path d="M441.8,791.4Q445.5,740.2 456.5,710.9Q467.4,681.7 496.7,659.7Q525.9,637.8 555.2,630.5Q584.4,623.2 606.4,637.8Q628.3,652.4 635.6,696.3Q642.9,740.2 657.6,784.1Q672.2,827.9 679.5,857.2Q686.8,886.4 679.5,923Q672.2,959.6 650.2,977.9Q628.3,996.1 591.7,1003.5Q555.2,1010.8 518.6,1003.5Q482,996.1 463.8,963.2Q445.5,930.3 441.8,886.4Q438.2,842.6 441.8,791.4Z"/><path d="M547.9,849.9Q547.9,827.9 558.8,791.4Q569.8,754.8 591.7,732.9Q613.7,710.9 635.6,703.6Q657.6,696.3 679.5,696.3Q701.4,696.3 719.7,710.9Q738,725.6 741.7,769.4Q745.3,813.3 734.3,849.9Q723.4,886.4 705.1,908.4Q686.8,930.3 657.6,926.7Q628.3,923 599.1,912Q569.8,901.1 558.8,886.4Q547.9,871.8 547.9,849.9Z"/><path d="M756.3,729.2Q759.9,696.3 789.2,692.7Q818.4,689 855,685.3Q891.6,681.7 913.5,685.3Q935.5,689 957.4,700Q979.3,710.9 986.6,740.2Q994,769.4 986.6,798.7Q979.3,827.9 957.4,853.5Q935.5,879.1 906.2,893.8Q877,908.4 847.7,908.4Q818.4,908.4 800.2,897.4Q781.9,886.4 770.9,857.2Q759.9,827.9 756.3,795Q752.6,762.1 756.3,729.2Z"/></clipPath>
<g clip-path="url(#mcl3)"><rect x="0" y="0" width="1250" height="1250" filter="url(#fmot)" opacity="0.25"/><rect x="0" y="0" width="1250" height="1250" filter="url(#fmot2)" opacity="0.2"/></g>
<circle cx="305" cy="596" r="40" fill="#ecd410"/><circle cx="305" cy="596" r="20" fill="#d4b410"/>
<ellipse cx="650" cy="752" rx="20" ry="28" fill="#ecd410"/>
<ellipse cx="722" cy="712" rx="26" ry="40" fill="#d8be2c" opacity="0.9"/>
<polygon points="0,0 -60,-50 -60,-25 -120,-25 -120,25 -60,25 -60,50" fill="#000" transform="translate(265,590) rotate(0)"/>
<polygon points="0,0 -60,-50 -60,-25 -120,-25 -120,25 -60,25 -60,50" fill="#000" transform="translate(710,318) rotate(0)"/>
<polygon points="0,0 -60,-50 -60,-25 -120,-25 -120,25 -60,25 -60,50" fill="#000" transform="translate(630,750) rotate(0)"/>
<polygon points="0,0 -60,-50 -60,-25 -120,-25 -120,25 -60,25 -60,50" fill="#000" transform="translate(965,757) rotate(180)"/>
</g></g>
<clipPath id="ld2"><rect x="1136" y="774" width="248.8" height="242"/></clipPath>
<g clip-path="url(#ld2)">
<rect x="1136" y="774" width="248.8" height="242" fill="#f1f1f3"/>
<g transform="translate(1134,772) scale(0.20600)">
<ellipse cx="620" cy="600" rx="400" ry="440" fill="#d8d6d4" opacity="0.4" filter="url(#lb40)"/>
<path d="M658.4,241.7Q662.4,209.2 686.8,184.8Q711.2,160.4 743.7,152.3Q776.3,144.1 808.8,152.3Q841.3,160.4 865.7,180.7Q890.1,201.1 906.4,237.6Q922.7,274.2 930.8,314.9Q938.9,355.6 943,396.2Q947,436.9 951.1,477.5Q955.2,518.2 959.2,558.9Q963.3,599.5 961.3,640.2Q959.2,680.8 953.1,721.5Q947,762.2 934.9,802.8Q922.7,843.5 906.4,876Q890.1,908.5 865.7,920.7Q841.3,932.9 808.8,928.9Q776.3,924.8 751.9,908.5Q727.5,892.3 711.2,867.9Q695,843.5 686.8,802.8Q678.7,762.2 670.6,721.5Q662.4,680.8 670.6,640.2Q678.7,599.5 686.8,558.9Q695,518.2 686.8,477.5Q678.7,436.9 670.6,396.2Q662.4,355.6 658.4,314.9Q654.3,274.2 658.4,241.7Z" fill="#c8c4bc" opacity="0.6" filter="url(#lb8)"/>
<path d="M483.5,237.6Q483.5,217.3 499.8,205.1Q516.1,192.9 548.6,192.9Q581.1,192.9 601.4,209.2Q621.8,225.4 625.8,249.8Q629.9,274.2 617.7,294.6Q605.5,314.9 577,310.8Q548.6,306.8 524.2,298.6Q499.8,290.5 491.7,274.2Q483.5,258 483.5,237.6Z" fill="#c8c4bc" opacity="0.6" filter="url(#lb8)"/>
<path d="M394.1,331.2Q385.9,290.5 410.3,274.2Q434.7,258 459.1,253.9Q483.5,249.8 524.2,270.2Q564.8,290.5 589.2,314.9Q613.6,339.3 621.8,363.7Q629.9,388.1 613.6,412.5Q597.4,436.9 573,445Q548.6,453.1 516.1,445Q483.5,436.9 459.1,428.7Q434.7,420.6 418.5,396.2Q402.2,371.8 394.1,331.2Z" fill="#c8c4bc" opacity="0.6" filter="url(#lb8)"/>
<path d="M264,408.4Q272.1,380 296.5,351.5Q320.9,323 341.2,331.2Q361.5,339.3 377.8,355.6Q394.1,371.8 406.3,412.5Q418.5,453.1 414.4,485.7Q410.3,518.2 390,534.5Q369.7,550.7 345.3,558.9Q320.9,567 296.5,567Q272.1,567 264,534.5Q255.8,501.9 255.8,469.4Q255.8,436.9 264,408.4Z" fill="#c8c4bc" opacity="0.6" filter="url(#lb8)"/>
<path d="M255.8,623.9Q255.8,567 288.4,550.7Q320.9,534.5 353.4,530.4Q385.9,526.3 418.5,538.5Q451,550.7 483.5,575.1Q516.1,599.5 528.2,632Q540.4,664.6 532.3,697.1Q524.2,729.6 503.9,754Q483.5,778.4 459.1,794.7Q434.7,811 402.2,819.1Q369.7,827.2 341.2,819.1Q312.8,811 292.4,786.6Q272.1,762.2 264,721.5Q255.8,680.8 255.8,623.9Z" fill="#c8c4bc" opacity="0.6" filter="url(#lb8)"/>
<path d="M540.4,453.1Q548.6,420.6 573,404.4Q597.4,388.1 625.8,392.2Q654.3,396.2 670.6,424.7Q686.8,453.1 690.9,493.8Q695,534.5 686.8,575.1Q678.7,615.8 662.4,648.3Q646.2,680.8 621.8,697.1Q597.4,713.4 581.1,705.2Q564.8,697.1 556.7,668.6Q548.6,640.2 544.5,603.6Q540.4,567 536.4,526.3Q532.3,485.7 540.4,453.1Z" fill="#c8c4bc" opacity="0.6" filter="url(#lb8)"/>
<path d="M402.2,843.5Q402.2,811 418.5,786.6Q434.7,762.2 467.3,745.9Q499.8,729.6 532.3,721.5Q564.8,713.4 597.4,721.5Q629.9,729.6 654.3,754Q678.7,778.4 695,811Q711.2,843.5 727.5,876Q743.7,908.5 735.6,941.1Q727.5,973.6 703.1,989.9Q678.7,1006.1 646.2,1014.3Q613.6,1022.4 573,1018.3Q532.3,1014.3 499.8,1002.1Q467.3,989.9 446.9,965.5Q426.6,941.1 414.4,908.5Q402.2,876 402.2,843.5Z" fill="#c8c4bc" opacity="0.6" filter="url(#lb8)"/>
<path d="M573,770.3Q573,729.6 601.4,721.5Q629.9,713.4 654.3,729.6Q678.7,745.9 703.1,778.4Q727.5,811 739.7,851.6Q751.9,892.3 743.7,924.8Q735.6,957.3 707.2,965.5Q678.7,973.6 646.2,965.5Q613.6,957.3 597.4,924.8Q581.1,892.3 577,851.6Q573,811 573,770.3Z" fill="#c8c4bc" opacity="0.6" filter="url(#lb8)"/>
<path d="M296.5,530.4Q304.6,380 385.9,310.8Q467.3,241.7 564.8,237.6Q662.4,233.6 670.6,497.9Q678.7,762.2 654.3,745.9Q629.9,729.6 548.6,737.8Q467.3,745.9 377.8,713.4Q288.4,680.8 296.5,530.4Z" fill="#624a06" opacity="1"/>
<path d="M394.1,331.2Q385.9,290.5 410.3,274.2Q434.7,258 459.1,253.9Q483.5,249.8 524.2,270.2Q564.8,290.5 589.2,314.9Q613.6,339.3 621.8,363.7Q629.9,388.1 613.6,412.5Q597.4,436.9 573,445Q548.6,453.1 516.1,445Q483.5,436.9 459.1,428.7Q434.7,420.6 418.5,396.2Q402.2,371.8 394.1,331.2Z" fill="#6b5106" stroke="#b27f04" stroke-width="10" stroke-linejoin="round" opacity="1"/>
<clipPath id="dkc2"><path d="M394.1,331.2Q385.9,290.5 410.3,274.2Q434.7,258 459.1,253.9Q483.5,249.8 524.2,270.2Q564.8,290.5 589.2,314.9Q613.6,339.3 621.8,363.7Q629.9,388.1 613.6,412.5Q597.4,436.9 573,445Q548.6,453.1 516.1,445Q483.5,436.9 459.1,428.7Q434.7,420.6 418.5,396.2Q402.2,371.8 394.1,331.2Z"/></clipPath><g clip-path="url(#dkc2)">
<ellipse cx="507" cy="301.1" rx="17.2" ry="12.1" fill="#2e1e14" opacity="0.8" filter="url(#lb4)"/>
<ellipse cx="584.2" cy="428.5" rx="16.4" ry="21.6" fill="#24160e" opacity="0.8" filter="url(#lb4)"/>
<ellipse cx="400.4" cy="282.8" rx="20.2" ry="18.2" fill="#2e1e14" opacity="0.8" filter="url(#lb4)"/>
<ellipse cx="634.7" cy="265.9" rx="16.9" ry="15.8" fill="#3a2418" opacity="0.8" filter="url(#lb4)"/>
<ellipse cx="494.3" cy="298.8" rx="13.3" ry="12.4" fill="#24160e" opacity="0.8" filter="url(#lb4)"/>
<ellipse cx="523.8" cy="397.6" rx="19.4" ry="14.4" fill="#2e1e14" opacity="0.8" filter="url(#lb4)"/>
<ellipse cx="595.4" cy="379.4" rx="20.9" ry="10.7" fill="#3a2418" opacity="0.8" filter="url(#lb4)"/>
<ellipse cx="496.2" cy="285.7" rx="20" ry="15.9" fill="#2e1e14" opacity="0.8" filter="url(#lb4)"/>
<ellipse cx="422.5" cy="331.5" rx="19" ry="13.4" fill="#2e1e14" opacity="0.8" filter="url(#lb4)"/>
<ellipse cx="591.2" cy="395.9" rx="15.7" ry="15.6" fill="#24160e" opacity="0.8" filter="url(#lb4)"/>
<ellipse cx="549.5" cy="404.1" rx="14.5" ry="10.1" fill="#24160e" opacity="0.8" filter="url(#lb4)"/>
<ellipse cx="545.3" cy="371.8" rx="19.8" ry="10.3" fill="#24160e" opacity="0.8" filter="url(#lb4)"/>
<ellipse cx="406.5" cy="316.2" rx="14.6" ry="15.7" fill="#24160e" opacity="0.8" filter="url(#lb4)"/>
<ellipse cx="565.7" cy="341" rx="19.5" ry="17" fill="#24160e" opacity="0.8" filter="url(#lb4)"/>
<ellipse cx="533.8" cy="271" rx="11.8" ry="15" fill="#24160e" opacity="0.8" filter="url(#lb4)"/>
<ellipse cx="404.8" cy="398.6" rx="12.5" ry="13.4" fill="#2e1e14" opacity="0.8" filter="url(#lb4)"/>
</g>
<path d="M483.5,237.6Q483.5,217.3 499.8,205.1Q516.1,192.9 548.6,192.9Q581.1,192.9 601.4,209.2Q621.8,225.4 625.8,249.8Q629.9,274.2 617.7,294.6Q605.5,314.9 577,310.8Q548.6,306.8 524.2,298.6Q499.8,290.5 491.7,274.2Q483.5,258 483.5,237.6Z" fill="#ab7f06" stroke="#c89506" stroke-width="10" stroke-linejoin="round" opacity="1"/>
<path d="M501.8,249.8Q499.8,233.6 532.3,225.4Q564.8,217.3 585.2,233.6Q605.5,249.8 601.4,270.2Q597.4,290.5 564.8,290.5Q532.3,290.5 518.1,278.3Q503.9,266.1 501.8,249.8Z" fill="#c89c07" opacity="1"/>
<path d="M658.4,241.7Q662.4,209.2 686.8,184.8Q711.2,160.4 743.7,152.3Q776.3,144.1 808.8,152.3Q841.3,160.4 865.7,180.7Q890.1,201.1 906.4,237.6Q922.7,274.2 930.8,314.9Q938.9,355.6 943,396.2Q947,436.9 951.1,477.5Q955.2,518.2 959.2,558.9Q963.3,599.5 961.3,640.2Q959.2,680.8 953.1,721.5Q947,762.2 934.9,802.8Q922.7,843.5 906.4,876Q890.1,908.5 865.7,920.7Q841.3,932.9 808.8,928.9Q776.3,924.8 751.9,908.5Q727.5,892.3 711.2,867.9Q695,843.5 686.8,802.8Q678.7,762.2 670.6,721.5Q662.4,680.8 670.6,640.2Q678.7,599.5 686.8,558.9Q695,518.2 686.8,477.5Q678.7,436.9 670.6,396.2Q662.4,355.6 658.4,314.9Q654.3,274.2 658.4,241.7Z" fill="#ab7a03" stroke="#c58b03" stroke-width="12" stroke-linejoin="round" opacity="1"/>
<path d="M695,294.6Q695,233.6 743.7,209.2Q792.5,184.8 833.2,209.2Q873.9,233.6 890.1,294.6Q906.4,355.6 873.9,404.4Q841.3,453.1 792.5,453.1Q743.7,453.1 719.4,404.4Q695,355.6 695,294.6Z" fill="#ba8804" opacity="0.6" filter="url(#lb20)"/>
<path d="M711.2,623.9Q711.2,518.2 776.3,501.9Q841.3,485.7 890.1,526.3Q938.9,567 938.9,664.6Q938.9,762.2 906.4,823.2Q873.9,884.1 816.9,880.1Q760,876 735.6,802.8Q711.2,729.6 711.2,623.9Z" fill="#c18e05" opacity="0.6" filter="url(#lb20)"/>
<path d="M264,408.4Q272.1,380 296.5,351.5Q320.9,323 341.2,331.2Q361.5,339.3 377.8,355.6Q394.1,371.8 406.3,412.5Q418.5,453.1 414.4,485.7Q410.3,518.2 390,534.5Q369.7,550.7 345.3,558.9Q320.9,567 296.5,567Q272.1,567 264,534.5Q255.8,501.9 255.8,469.4Q255.8,436.9 264,408.4Z" fill="#715706" stroke="#ba8104" stroke-width="12" stroke-linejoin="round" opacity="1"/>
<path d="M255.8,623.9Q255.8,567 288.4,550.7Q320.9,534.5 353.4,530.4Q385.9,526.3 418.5,538.5Q451,550.7 483.5,575.1Q516.1,599.5 528.2,632Q540.4,664.6 532.3,697.1Q524.2,729.6 503.9,754Q483.5,778.4 459.1,794.7Q434.7,811 402.2,819.1Q369.7,827.2 341.2,819.1Q312.8,811 292.4,786.6Q272.1,762.2 264,721.5Q255.8,680.8 255.8,623.9Z" fill="#806006" stroke="#c18804" stroke-width="12" stroke-linejoin="round" opacity="1"/>
<path d="M540.4,453.1Q548.6,420.6 573,404.4Q597.4,388.1 625.8,392.2Q654.3,396.2 670.6,424.7Q686.8,453.1 690.9,493.8Q695,534.5 686.8,575.1Q678.7,615.8 662.4,648.3Q646.2,680.8 621.8,697.1Q597.4,713.4 581.1,705.2Q564.8,697.1 556.7,668.6Q548.6,640.2 544.5,603.6Q540.4,567 536.4,526.3Q532.3,485.7 540.4,453.1Z" fill="#8f6a05" stroke="#c58b04" stroke-width="12" stroke-linejoin="round" opacity="1"/>
<path d="M402.2,843.5Q402.2,811 418.5,786.6Q434.7,762.2 467.3,745.9Q499.8,729.6 532.3,721.5Q564.8,713.4 597.4,721.5Q629.9,729.6 654.3,754Q678.7,778.4 695,811Q711.2,843.5 727.5,876Q743.7,908.5 735.6,941.1Q727.5,973.6 703.1,989.9Q678.7,1006.1 646.2,1014.3Q613.6,1022.4 573,1018.3Q532.3,1014.3 499.8,1002.1Q467.3,989.9 446.9,965.5Q426.6,941.1 414.4,908.5Q402.2,876 402.2,843.5Z" fill="#664e06" stroke="#b27f04" stroke-width="12" stroke-linejoin="round" opacity="1"/>
<path d="M573,770.3Q573,729.6 601.4,721.5Q629.9,713.4 654.3,729.6Q678.7,745.9 703.1,778.4Q727.5,811 739.7,851.6Q751.9,892.3 743.7,924.8Q735.6,957.3 707.2,965.5Q678.7,973.6 646.2,965.5Q613.6,957.3 597.4,924.8Q581.1,892.3 577,851.6Q573,811 573,770.3Z" fill="#554205" stroke="#9c7204" stroke-width="8" stroke-linejoin="round" opacity="1"/>
<clipPath id="mcl4"><path d="M658.4,241.7Q662.4,209.2 686.8,184.8Q711.2,160.4 743.7,152.3Q776.3,144.1 808.8,152.3Q841.3,160.4 865.7,180.7Q890.1,201.1 906.4,237.6Q922.7,274.2 930.8,314.9Q938.9,355.6 943,396.2Q947,436.9 951.1,477.5Q955.2,518.2 959.2,558.9Q963.3,599.5 961.3,640.2Q959.2,680.8 953.1,721.5Q947,762.2 934.9,802.8Q922.7,843.5 906.4,876Q890.1,908.5 865.7,920.7Q841.3,932.9 808.8,928.9Q776.3,924.8 751.9,908.5Q727.5,892.3 711.2,867.9Q695,843.5 686.8,802.8Q678.7,762.2 670.6,721.5Q662.4,680.8 670.6,640.2Q678.7,599.5 686.8,558.9Q695,518.2 686.8,477.5Q678.7,436.9 670.6,396.2Q662.4,355.6 658.4,314.9Q654.3,274.2 658.4,241.7Z"/><path d="M483.5,237.6Q483.5,217.3 499.8,205.1Q516.1,192.9 548.6,192.9Q581.1,192.9 601.4,209.2Q621.8,225.4 625.8,249.8Q629.9,274.2 617.7,294.6Q605.5,314.9 577,310.8Q548.6,306.8 524.2,298.6Q499.8,290.5 491.7,274.2Q483.5,258 483.5,237.6Z"/><path d="M394.1,331.2Q385.9,290.5 410.3,274.2Q434.7,258 459.1,253.9Q483.5,249.8 524.2,270.2Q564.8,290.5 589.2,314.9Q613.6,339.3 621.8,363.7Q629.9,388.1 613.6,412.5Q597.4,436.9 573,445Q548.6,453.1 516.1,445Q483.5,436.9 459.1,428.7Q434.7,420.6 418.5,396.2Q402.2,371.8 394.1,331.2Z"/><path d="M264,408.4Q272.1,380 296.5,351.5Q320.9,323 341.2,331.2Q361.5,339.3 377.8,355.6Q394.1,371.8 406.3,412.5Q418.5,453.1 414.4,485.7Q410.3,518.2 390,534.5Q369.7,550.7 345.3,558.9Q320.9,567 296.5,567Q272.1,567 264,534.5Q255.8,501.9 255.8,469.4Q255.8,436.9 264,408.4Z"/><path d="M255.8,623.9Q255.8,567 288.4,550.7Q320.9,534.5 353.4,530.4Q385.9,526.3 418.5,538.5Q451,550.7 483.5,575.1Q516.1,599.5 528.2,632Q540.4,664.6 532.3,697.1Q524.2,729.6 503.9,754Q483.5,778.4 459.1,794.7Q434.7,811 402.2,819.1Q369.7,827.2 341.2,819.1Q312.8,811 292.4,786.6Q272.1,762.2 264,721.5Q255.8,680.8 255.8,623.9Z"/><path d="M540.4,453.1Q548.6,420.6 573,404.4Q597.4,388.1 625.8,392.2Q654.3,396.2 670.6,424.7Q686.8,453.1 690.9,493.8Q695,534.5 686.8,575.1Q678.7,615.8 662.4,648.3Q646.2,680.8 621.8,697.1Q597.4,713.4 581.1,705.2Q564.8,697.1 556.7,668.6Q548.6,640.2 544.5,603.6Q540.4,567 536.4,526.3Q532.3,485.7 540.4,453.1Z"/><path d="M402.2,843.5Q402.2,811 418.5,786.6Q434.7,762.2 467.3,745.9Q499.8,729.6 532.3,721.5Q564.8,713.4 597.4,721.5Q629.9,729.6 654.3,754Q678.7,778.4 695,811Q711.2,843.5 727.5,876Q743.7,908.5 735.6,941.1Q727.5,973.6 703.1,989.9Q678.7,1006.1 646.2,1014.3Q613.6,1022.4 573,1018.3Q532.3,1014.3 499.8,1002.1Q467.3,989.9 446.9,965.5Q426.6,941.1 414.4,908.5Q402.2,876 402.2,843.5Z"/><path d="M573,770.3Q573,729.6 601.4,721.5Q629.9,713.4 654.3,729.6Q678.7,745.9 703.1,778.4Q727.5,811 739.7,851.6Q751.9,892.3 743.7,924.8Q735.6,957.3 707.2,965.5Q678.7,973.6 646.2,965.5Q613.6,957.3 597.4,924.8Q581.1,892.3 577,851.6Q573,811 573,770.3Z"/></clipPath>
<g clip-path="url(#mcl4)"><rect x="0" y="0" width="1250" height="1250" filter="url(#fmot)" opacity="0.25"/><rect x="0" y="0" width="1250" height="1250" filter="url(#fmot2)" opacity="0.3"/></g>
<ellipse cx="704.4" cy="656.6" rx="11.8" ry="13.6" fill="#d7ac08" opacity="0.85" filter="url(#lb2)"/>
<ellipse cx="765.9" cy="908.8" rx="8.7" ry="13.2" fill="#dbaf02" opacity="0.85" filter="url(#lb2)"/>
<ellipse cx="690.6" cy="538.9" rx="15.6" ry="9" fill="#d7ac08" opacity="0.85" filter="url(#lb2)"/>
<ellipse cx="872.5" cy="868.8" rx="13.4" ry="12.1" fill="#dbaf02" opacity="0.85" filter="url(#lb2)"/>
<ellipse cx="815.3" cy="540.5" rx="7.2" ry="9.4" fill="#d7ac08" opacity="0.85" filter="url(#lb2)"/>
<ellipse cx="790.2" cy="501.3" rx="9.9" ry="7.8" fill="#dbaf02" opacity="0.85" filter="url(#lb2)"/>
<ellipse cx="934.8" cy="770" rx="9.9" ry="7.1" fill="#d7ac08" opacity="0.85" filter="url(#lb2)"/>
<ellipse cx="749.7" cy="544" rx="8.9" ry="14" fill="#dbaf02" opacity="0.85" filter="url(#lb2)"/>
<ellipse cx="931.2" cy="573.7" rx="12.3" ry="13.7" fill="#dbaf02" opacity="0.85" filter="url(#lb2)"/>
<ellipse cx="863.6" cy="750.8" rx="12.3" ry="12.4" fill="#d7ac08" opacity="0.85" filter="url(#lb2)"/>
<ellipse cx="796.7" cy="687.2" rx="11.3" ry="15" fill="#d7ac08" opacity="0.85" filter="url(#lb2)"/>
<ellipse cx="797.1" cy="537.1" rx="14.9" ry="9.3" fill="#d7ac08" opacity="0.85" filter="url(#lb2)"/>
<ellipse cx="688.5" cy="550.9" rx="11.6" ry="12" fill="#dbaf02" opacity="0.85" filter="url(#lb2)"/>
<ellipse cx="801.5" cy="643.5" rx="7" ry="13.9" fill="#d7ac08" opacity="0.85" filter="url(#lb2)"/>
<ellipse cx="884.1" cy="527" rx="10.8" ry="14.3" fill="#dbaf02" opacity="0.85" filter="url(#lb2)"/>
<ellipse cx="769.2" cy="874.1" rx="12.5" ry="15.3" fill="#dbaf02" opacity="0.85" filter="url(#lb2)"/>
<ellipse cx="930.2" cy="770.7" rx="14" ry="14.4" fill="#dbaf02" opacity="0.85" filter="url(#lb2)"/>
<ellipse cx="734.2" cy="568.9" rx="6.9" ry="7.5" fill="#dbaf02" opacity="0.85" filter="url(#lb2)"/>
<ellipse cx="841" cy="694.1" rx="9.2" ry="13.7" fill="#dbaf02" opacity="0.85" filter="url(#lb2)"/>
<ellipse cx="879.7" cy="906.6" rx="15.6" ry="12.3" fill="#dbaf02" opacity="0.85" filter="url(#lb2)"/>
<ellipse cx="782.3" cy="858.2" rx="8" ry="9.2" fill="#dbaf02" opacity="0.85" filter="url(#lb2)"/>
<ellipse cx="808.4" cy="799.4" rx="13.4" ry="6.8" fill="#d7ac08" opacity="0.85" filter="url(#lb2)"/>
<ellipse cx="943.6" cy="705" rx="6.1" ry="15.8" fill="#d7ac08" opacity="0.85" filter="url(#lb2)"/>
<ellipse cx="717.2" cy="501.4" rx="9.8" ry="9.4" fill="#dbaf02" opacity="0.85" filter="url(#lb2)"/>
<ellipse cx="817.4" cy="912.5" rx="13.1" ry="6.2" fill="#d7ac08" opacity="0.85" filter="url(#lb2)"/>
<ellipse cx="959.7" cy="830.4" rx="8" ry="9.4" fill="#dbaf02" opacity="0.85" filter="url(#lb2)"/>
<ellipse cx="761.4" cy="719.5" rx="13" ry="13.9" fill="#dbaf02" opacity="0.85" filter="url(#lb2)"/>
<ellipse cx="762.9" cy="648.3" rx="14.5" ry="11.2" fill="#dbaf02" opacity="0.85" filter="url(#lb2)"/>
<ellipse cx="741.7" cy="933.8" rx="8.7" ry="13.2" fill="#dbaf02" opacity="0.85" filter="url(#lb2)"/>
<ellipse cx="755.9" cy="542.2" rx="10.8" ry="15.8" fill="#d7ac08" opacity="0.85" filter="url(#lb2)"/>
<ellipse cx="679.5" cy="833.9" rx="6.3" ry="4.6" fill="#d0a609" opacity="0.7" filter="url(#lb2)"/>
<ellipse cx="441.4" cy="948.5" rx="5.8" ry="4.1" fill="#d0a609" opacity="0.7" filter="url(#lb2)"/>
<ellipse cx="597.5" cy="990.5" rx="8.3" ry="4.4" fill="#d0a609" opacity="0.7" filter="url(#lb2)"/>
<ellipse cx="494.3" cy="956.8" rx="4.1" ry="6.6" fill="#d0a609" opacity="0.7" filter="url(#lb2)"/>
<ellipse cx="607.5" cy="964.6" rx="6.4" ry="4.1" fill="#d0a609" opacity="0.7" filter="url(#lb2)"/>
<ellipse cx="550" cy="951.3" rx="6.2" ry="7" fill="#d0a609" opacity="0.7" filter="url(#lb2)"/>
<ellipse cx="500.4" cy="872.8" rx="7.6" ry="8.1" fill="#d0a609" opacity="0.7" filter="url(#lb2)"/>
<ellipse cx="696.3" cy="863.3" rx="9" ry="7.8" fill="#d0a609" opacity="0.7" filter="url(#lb2)"/>
<ellipse cx="481.5" cy="951.8" rx="6.1" ry="8.9" fill="#d0a609" opacity="0.7" filter="url(#lb2)"/>
<ellipse cx="500.7" cy="872.7" rx="5.4" ry="6.3" fill="#d0a609" opacity="0.7" filter="url(#lb2)"/>
<ellipse cx="440.7" cy="919.3" rx="7.8" ry="7.8" fill="#d0a609" opacity="0.7" filter="url(#lb2)"/>
<ellipse cx="460.7" cy="863.9" rx="8.5" ry="8.4" fill="#d0a609" opacity="0.7" filter="url(#lb2)"/>
<ellipse cx="621.5" cy="944.4" rx="6.5" ry="5.6" fill="#d0a609" opacity="0.7" filter="url(#lb2)"/>
<ellipse cx="478.2" cy="832" rx="8.6" ry="8.7" fill="#d0a609" opacity="0.7" filter="url(#lb2)"/>
<ellipse cx="444" cy="958.7" rx="4.4" ry="4.7" fill="#d0a609" opacity="0.7" filter="url(#lb2)"/>
<ellipse cx="533.6" cy="827.2" rx="5.5" ry="8.5" fill="#d0a609" opacity="0.7" filter="url(#lb2)"/>
<ellipse cx="720" cy="395" rx="55" ry="70" fill="#e4cc18"/>
<circle cx="850" cy="440" r="28" fill="#f0dc18"/><circle cx="850" cy="440" r="34" fill="none" stroke="#6a4a20" stroke-width="6" opacity="0.6"/>
<circle cx="435" cy="655" r="20" fill="#5a3a20" opacity="0.8"/><circle cx="435" cy="655" r="8" fill="#c8a830"/>
<ellipse cx="730" cy="710" rx="30" ry="26" fill="#ecd410"/>
<polygon points="0,0 -60,-50 -60,-25 -120,-25 -120,25 -60,25 -60,50" fill="#000" transform="translate(235,530) rotate(0)"/>
<polygon points="0,0 -60,-50 -60,-25 -120,-25 -120,25 -60,25 -60,50" fill="#000" transform="translate(555,495) rotate(0)"/>
<polygon points="0,0 -60,-50 -60,-25 -120,-25 -120,25 -60,25 -60,50" fill="#000" transform="translate(815,285) rotate(180)"/>
<polygon points="0,0 -60,-50 -60,-25 -120,-25 -120,25 -60,25 -60,50" fill="#000" transform="translate(895,427) rotate(180)"/>
<polygon points="0,0 -60,-50 -60,-25 -120,-25 -120,25 -60,25 -60,50" fill="#000" transform="translate(950,615) rotate(180)"/>
<polygon points="0,0 -60,-50 -60,-25 -120,-25 -120,25 -60,25 -60,50" fill="#000" transform="translate(968,728) rotate(180)"/>
<polygon points="0,0 -60,-50 -60,-25 -120,-25 -120,25 -60,25 -60,50" fill="#000" transform="translate(885,842) rotate(180)"/>
<polygon points="0,0 -60,-50 -60,-25 -120,-25 -120,25 -60,25 -60,50" fill="#000" transform="translate(288,750) rotate(0)"/>
<polygon points="0,0 -60,-50 -60,-25 -120,-25 -120,25 -60,25 -60,50" fill="#000" transform="translate(418,893) rotate(0)"/>
<polygon points="0,0 -60,-50 -60,-25 -120,-25 -120,25 -60,25 -60,50" fill="#000" transform="translate(535,1035) rotate(-90)"/>
<polygon points="0,0 -60,-50 -60,-25 -120,-25 -120,25 -60,25 -60,50" fill="#000" transform="translate(635,1010) rotate(-90)"/>
<polygon points="0,0 -60,-50 -60,-25 -120,-25 -120,25 -60,25 -60,50" fill="#000" transform="translate(762,940) rotate(-100)"/>
</g></g>
<defs><filter id="hb8" x="-50%" y="-50%" width="200%" height="200%"><feGaussianBlur stdDeviation="8"/></filter><filter id="hb20" x="-50%" y="-50%" width="200%" height="200%"><feGaussianBlur stdDeviation="20"/></filter><filter id="hs1" x="-20%" y="-20%" width="140%" height="140%"><feGaussianBlur stdDeviation="12"/></filter><filter id="hs2" x="-30%" y="-30%" width="160%" height="160%"><feGaussianBlur stdDeviation="25"/></filter>
<filter id="fxalv" x="0" y="0" width="1" height="1" color-interpolation-filters="sRGB"><feTurbulence type="turbulence" baseFrequency="0.024" numOctaves="2" seed="5" result="n"/><feColorMatrix in="n" type="matrix" values="0 0 0 0 0  0 0 0 0 0  0 0 0 0 0  1 0 0 0 0" result="a"/><feComponentTransfer in="a" result="t"><feFuncA type="discrete" tableValues="1 0.45 0 0 0 0 0 0"/></feComponentTransfer><feFlood flood-color="#d8a0d2"/><feComposite operator="in" in2="t"/></filter><filter id="fxalv2" x="0" y="0" width="1" height="1" color-interpolation-filters="sRGB"><feTurbulence type="turbulence" baseFrequency="0.018" numOctaves="2" seed="7" result="n"/><feColorMatrix in="n" type="matrix" values="0 0 0 0 0  0 0 0 0 0  0 0 0 0 0  1 0 0 0 0" result="a"/><feComponentTransfer in="a" result="t"><feFuncA type="discrete" tableValues="1 0.55 0 0 0 0 0 0"/></feComponentTransfer><feFlood flood-color="#d69cce"/><feComposite operator="in" in2="t"/></filter><filter id="fxden" x="0" y="0" width="1" height="1" color-interpolation-filters="sRGB"><feTurbulence type="turbulence" baseFrequency="0.016" numOctaves="2" seed="9" result="n"/><feColorMatrix in="n" type="matrix" values="0 0 0 0 0  0 0 0 0 0  0 0 0 0 0  1 0 0 0 0" result="a"/><feComponentTransfer in="a" result="t"><feFuncA type="discrete" tableValues="1 0.85 0.2 0 0 0"/></feComponentTransfer><feFlood flood-color="#e48cb8"/><feComposite operator="in" in2="t"/></filter><filter id="fxpur" x="0" y="0" width="1" height="1" color-interpolation-filters="sRGB"><feTurbulence type="fractalNoise" baseFrequency="0.05" numOctaves="2" seed="8" result="n"/><feColorMatrix in="n" type="matrix" values="0 0 0 0 0  0 0 0 0 0  0 0 0 0 0  1.5 0 0 0 -0.4" result="a"/><feFlood flood-color="#9a74b2"/><feComposite operator="in" in2="a"/></filter>
</defs>
<clipPath id="hc1"><rect x="12" y="1025" width="239.5" height="169"/></clipPath>
<g clip-path="url(#hc1)">
<rect x="12" y="1025" width="239.5" height="169" fill="#dce7d9"/>
<g transform="translate(10,1020) scale(0.14573)">
<clipPath id="hr1"><path d="M0,35 1700,35 1700,200 1400,195 1250,170 1150,120 1080,70 1000,60 500,62 0,60Z"/></clipPath>
<g clip-path="url(#hr1)" opacity="1"><rect x="-20" y="15" width="1740" height="205" fill="#f6f8f3"/><rect x="-20" y="15" width="1740" height="205" filter="url(#fxalv)"/></g>
<clipPath id="hr2"><path d="M1170,82Q1160,45 1230,48Q1300,50 1315,85Q1330,120 1295,132Q1260,145 1220,132Q1180,120 1170,82Z"/></clipPath>
<g clip-path="url(#hr2)" opacity="1"><rect x="1140" y="25" width="210" height="140" fill="#c6a6d6"/><rect x="1140" y="25" width="210" height="140" filter="url(#fxpur)"/></g>
<clipPath id="hr3"><path d="M355,145Q350,130 400,118Q450,105 525,100Q600,95 675,98Q750,100 825,115Q900,130 950,148Q1000,165 1020,182Q1040,200 1030,218Q1020,235 980,230Q940,225 965,210Q990,195 945,184Q900,172 825,170Q750,168 675,179Q600,190 525,188Q450,185 405,172Q360,160 355,145Z"/></clipPath>
<g clip-path="url(#hr3)" opacity="1"><rect x="330" y="75" width="730" height="180" fill="#f6e2ec"/><rect x="330" y="75" width="730" height="180" filter="url(#fxden)"/></g>
<clipPath id="hr4"><path d="M182,154Q180,128 201,132Q222,135 261,168Q300,200 360,225Q420,250 490,258Q560,265 630,254Q700,243 750,250Q800,258 900,266Q1000,275 1100,280Q1200,285 1300,285Q1400,285 1550,278Q1700,272 1700,506Q1700,740 1600,770Q1500,800 1400,830Q1300,860 1200,880Q1100,900 1050,911Q1000,922 950,917Q900,912 800,881Q700,850 625,805Q550,760 485,690Q420,620 360,530Q300,440 265,370Q230,300 208,240Q185,180 182,154Z"/></clipPath>
<g clip-path="url(#hr4)" opacity="1"><rect x="160" y="108" width="1560" height="834" fill="#f6f8f3"/><rect x="160" y="108" width="1560" height="834" filter="url(#fxalv)"/></g>
<path d="M1250,500Q1250,300 1450,295Q1650,290 1655,515Q1660,740 1530,770Q1400,800 1325,750Q1250,700 1250,500Z" fill="#e890b8" opacity="0.25" filter="url(#hb20)"/>
<clipPath id="hr5"><path d="M750,510Q760,420 830,400Q900,380 950,400Q1000,420 1060,440Q1120,460 1155,510Q1190,560 1180,630Q1170,700 1130,750Q1090,800 1035,830Q980,860 920,855Q860,850 820,805Q780,760 760,680Q740,600 750,510Z"/></clipPath>
<g clip-path="url(#hr5)" opacity="1"><rect x="720" y="360" width="490" height="520" fill="#c6a6d6"/><rect x="720" y="360" width="490" height="520" filter="url(#fxpur)"/></g>
<clipPath id="hr6"><path d="M280,320Q280,280 320,265Q360,250 405,275Q450,300 460,360Q470,420 465,470Q460,520 430,520Q400,520 365,485Q330,450 305,405Q280,360 280,320Z"/></clipPath>
<g clip-path="url(#hr6)" opacity="1"><rect x="260" y="230" width="230" height="310" fill="#c6a6d6"/><rect x="260" y="230" width="230" height="310" filter="url(#fxpur)"/></g>
<clipPath id="hr7"><path d="M390,560Q390,540 420,530Q450,520 460,555Q470,590 445,600Q420,610 405,595Q390,580 390,560Z"/></clipPath>
<g clip-path="url(#hr7)" opacity="1"><rect x="370" y="500" width="120" height="130" fill="#c6a6d6"/><rect x="370" y="500" width="120" height="130" filter="url(#fxpur)"/></g>
<clipPath id="hr8"><path d="M520,545Q520,490 565,485Q610,480 630,520Q650,560 645,620Q640,680 605,685Q570,690 545,645Q520,600 520,545Z"/></clipPath>
<g clip-path="url(#hr8)" opacity="1"><rect x="500" y="460" width="170" height="250" fill="#c6a6d6"/><rect x="500" y="460" width="170" height="250" filter="url(#fxpur)"/></g>
<clipPath id="hr9"><path d="M615,685Q600,610 650,605Q700,600 745,630Q790,660 795,720Q800,780 760,795Q720,810 675,785Q630,760 615,685Z"/></clipPath>
<g clip-path="url(#hr9)" opacity="1"><rect x="580" y="580" width="240" height="250" fill="#c6a6d6"/><rect x="580" y="580" width="240" height="250" filter="url(#fxpur)"/></g>
<clipPath id="hr10"><path d="M705,305Q690,270 725,265Q760,260 770,290Q780,320 750,330Q720,340 705,305Z"/></clipPath>
<g clip-path="url(#hr10)" opacity="1"><rect x="670" y="240" width="130" height="120" fill="#c6a6d6"/><rect x="670" y="240" width="130" height="120" filter="url(#fxpur)"/></g>
<clipPath id="hr11"><path d="M525,410Q520,390 550,385Q580,380 585,400Q590,420 560,425Q530,430 525,410Z"/></clipPath>
<g clip-path="url(#hr11)" opacity="1"><rect x="500" y="360" width="110" height="90" fill="#c6a6d6"/><rect x="500" y="360" width="110" height="90" filter="url(#fxpur)"/></g>
<path d="M890,570Q880,520 920,510Q960,500 970,550Q980,600 940,610Q900,620 890,570Z" fill="#e07aa8" opacity="0.6" filter="url(#hb8)"/>
<ellipse cx="930" cy="470" rx="45" ry="28" transform="rotate(30 930 470)" fill="#f6f2f4" stroke="#b070b0" stroke-width="10"/>
<ellipse cx="1300" cy="500" rx="30" ry="45" transform="rotate(0 1300 500)" fill="#f6f2f4" stroke="#b070b0" stroke-width="10"/>
<circle cx="1300" cy="420" r="18" fill="#e06090" opacity="0.8"/>
<circle cx="1330" cy="400" r="15" fill="#e06090" opacity="0.8"/>
<circle cx="1305" cy="560" r="22" fill="#e06090" opacity="0.8"/>
<circle cx="1560" cy="470" r="16" fill="#e06090" opacity="0.8"/>
<path d="M1020,560 L1040,640" stroke="#fff" stroke-width="12"/>
<rect x="1465" y="1132" width="60" height="14" fill="#111"/>
<circle cx="1440" cy="878" r="10" fill="#333" opacity="0.7"/>
</g></g>
<clipPath id="hc2"><rect x="272" y="1025" width="239.5" height="169"/></clipPath>
<g clip-path="url(#hc2)">
<rect x="272" y="1025" width="239.5" height="169" fill="#eef0ea"/>
<g transform="translate(268,1020) scale(0.14573)">
<clipPath id="hr12"><path d="M0,0 1520,0 1520,80 1400,120 1200,220 1000,330 700,410 400,440 0,400Z"/></clipPath>
<g clip-path="url(#hr12)" opacity="1"><rect x="-20" y="-20" width="1560" height="480" fill="#f6f8f3"/><rect x="-20" y="-20" width="1560" height="480" filter="url(#fxalv)"/></g>
<clipPath id="hr13"><path d="M0,470 400,460 700,470 860,500 1320,500 1560,590 1700,610 1700,1200 0,1200Z"/></clipPath>
<g clip-path="url(#hr13)" opacity="1"><rect x="-20" y="440" width="1740" height="780" fill="#f6f8f3"/><rect x="-20" y="440" width="1740" height="780" filter="url(#fxalv)"/></g>
<clipPath id="hr14"><path d="M0,440 100,440 90,470 80,650 60,650 40,470Z"/></clipPath>
<g clip-path="url(#hr14)" opacity="1"><rect x="-20" y="420" width="140" height="250" fill="#f6f8f3"/><rect x="-20" y="420" width="140" height="250" filter="url(#fxalv)"/></g>
<clipPath id="hr15"><path d="M30,210Q30,40 165,40Q300,40 430,50Q560,60 560,155Q560,250 505,335Q450,420 325,420Q200,420 115,400Q30,380 30,210Z"/></clipPath>
<g clip-path="url(#hr15)" opacity="1"><rect x="10" y="20" width="570" height="420" fill="#f6e2ec"/><rect x="10" y="20" width="570" height="420" filter="url(#fxden)"/></g>
<clipPath id="hr16"><path d="M30,825Q30,650 115,645Q200,640 270,700Q340,760 350,840Q360,920 310,970Q260,1020 145,1010Q30,1000 30,825Z"/></clipPath>
<g clip-path="url(#hr16)" opacity="1"><rect x="10" y="620" width="370" height="420" fill="#f6e2ec"/><rect x="10" y="620" width="370" height="420" filter="url(#fxden)"/></g>
<clipPath id="hr17"><path d="M900,730Q900,620 1000,600Q1100,580 1220,600Q1340,620 1345,720Q1350,820 1300,910Q1250,1000 1125,990Q1000,980 950,910Q900,840 900,730Z"/></clipPath>
<g clip-path="url(#hr17)" opacity="1"><rect x="880" y="560" width="490" height="460" fill="#f6e2ec"/><rect x="880" y="560" width="490" height="460" filter="url(#fxden)"/></g>
<clipPath id="hr18"><path d="M425,665Q410,600 465,570Q520,540 570,570Q620,600 635,650Q650,700 605,730Q560,760 500,745Q440,730 425,665Z"/></clipPath>
<g clip-path="url(#hr18)" opacity="1"><rect x="390" y="520" width="280" height="260" fill="#c6a6d6"/><rect x="390" y="520" width="280" height="260" filter="url(#fxpur)"/></g>
<clipPath id="hr19"><path d="M1360,985Q1340,960 1380,945Q1420,930 1460,945Q1500,960 1490,985Q1480,1010 1430,1010Q1380,1010 1360,985Z"/></clipPath>
<g clip-path="url(#hr19)" opacity="1"><rect x="1320" y="910" width="200" height="120" fill="#c6a6d6"/><rect x="1320" y="910" width="200" height="120" filter="url(#fxpur)"/></g>
<path d="M930,511Q860,500 930,478Q1000,455 1100,425Q1200,395 1250,386Q1300,378 1325,398Q1350,418 1395,409Q1440,400 1470,440Q1500,480 1532,522Q1565,565 1552,574Q1540,584 1470,573Q1400,562 1300,551Q1200,540 1100,531Q1000,522 930,511Z" fill="#f07888" opacity="1"/>
<path d="M1050,502Q1000,490 1100,460Q1200,430 1250,420Q1300,410 1340,430Q1380,450 1415,485Q1450,520 1375,525Q1300,530 1200,522Q1100,515 1050,502Z" fill="#f490a0" opacity="0.6" filter="url(#hb8)"/>
<ellipse cx="775" cy="135" rx="50" ry="55" transform="rotate(20 775 135)" fill="#f6f2f4" stroke="#b070b0" stroke-width="10"/>
<ellipse cx="425" cy="250" rx="30" ry="42" transform="rotate(0 425 250)" fill="#f6f2f4" stroke="#b070b0" stroke-width="10"/>
<ellipse cx="160" cy="1040" rx="100" ry="50" transform="rotate(0 160 1040)" fill="#f6f2f4" stroke="#b070b0" stroke-width="10"/>
<ellipse cx="910" cy="1035" rx="50" ry="35" transform="rotate(0 910 1035)" fill="#f6f2f4" stroke="#b070b0" stroke-width="10"/>
<ellipse cx="1020" cy="915" rx="80" ry="35" transform="rotate(-15 1020 915)" fill="#f6f2f4" stroke="#b070b0" stroke-width="10"/>
<path d="M1360,930 L1640,890" stroke="#e890b0" stroke-width="14" opacity="0.7"/>
<rect x="1530" y="1132" width="60" height="14" fill="#111"/>
</g></g>
<clipPath id="hd1"><rect x="878.2" y="1025" width="238.5" height="169"/></clipPath>
<g clip-path="url(#hd1)">
<rect x="878.2" y="1025" width="238.5" height="169" fill="#e4ebe2"/>
<g transform="translate(876,1020) scale(0.14573)">
<clipPath id="hr20"><path d="M0,330 15,320 80,240 200,160 350,100 480,68 600,68 750,100 900,150 1050,210 1150,280 1170,390 1200,400 1300,378 1450,400 1580,450 1700,500 1700,1200 0,1200Z"/></clipPath>
<g clip-path="url(#hr20)" opacity="1"><rect x="-20" y="48" width="1740" height="1172" fill="#f6f8f3"/><rect x="-20" y="48" width="1740" height="1172" filter="url(#fxalv2)"/></g>
<mask id="hr21" maskUnits="userSpaceOnUse" x="-11" y="124" width="857" height="1002"><path d="M15,510Q15,320 108,260Q200,200 350,175Q500,150 650,200Q800,250 810,425Q820,600 760,800Q700,1000 550,1050Q400,1100 250,1050Q100,1000 58,850Q15,700 15,510Z" fill="#fff" filter="url(#hs2)"/></mask>
<g mask="url(#hr21)" opacity="0.85"><rect x="-11" y="124" width="857" height="1002" fill="#f6e2ec"/><rect x="-11" y="124" width="857" height="1002" filter="url(#fxden)"/></g>
<mask id="hr22" maskUnits="userSpaceOnUse" x="177" y="197" width="586" height="626"><path d="M200,490Q200,400 250,330Q300,260 375,240Q450,220 550,235Q650,250 695,300Q740,350 730,425Q720,500 670,575Q620,650 580,715Q540,780 470,790Q400,800 340,760Q280,720 240,650Q200,580 200,490Z" fill="#fff" filter="url(#hs1)"/></mask>
<g mask="url(#hr22)" opacity="1"><rect x="177" y="197" width="586" height="626" fill="#c6a6d6"/><rect x="177" y="197" width="586" height="626" filter="url(#fxpur)"/></g>
<path d="M125,250Q100,200 250,155Q400,110 550,110Q700,110 730,180Q760,250 730,275Q700,300 575,250Q450,200 300,250Q150,300 125,250Z" fill="#e890b8" opacity="0.35" filter="url(#hb20)"/>
<ellipse cx="1130" cy="790" rx="30" ry="45" transform="rotate(-20 1130 790)" fill="#f6f2f4" stroke="#b070b0" stroke-width="10"/>
<ellipse cx="1160" cy="850" rx="25" ry="30" transform="rotate(0 1160 850)" fill="#f6f2f4" stroke="#b070b0" stroke-width="10"/>
<ellipse cx="1335" cy="770" rx="30" ry="35" transform="rotate(0 1335 770)" fill="#f6f2f4" stroke="#b070b0" stroke-width="10"/>
<ellipse cx="870" cy="1100" rx="35" ry="40" transform="rotate(0 870 1100)" fill="#f6f2f4" stroke="#b070b0" stroke-width="10"/>
<ellipse cx="750" cy="1170" rx="60" ry="40" transform="rotate(0 750 1170)" fill="#f6f2f4" stroke="#b070b0" stroke-width="10"/>
<path d="M700,700 L640,790" stroke="#b070b0" stroke-width="8"/>
<rect x="1475" y="1132" width="60" height="14" fill="#111"/>
</g></g>
<clipPath id="hd2"><rect x="1137.2" y="1025" width="248" height="169"/></clipPath>
<g clip-path="url(#hd2)">
<rect x="1137.2" y="1025" width="248" height="169" fill="#eaeee8"/>
<g transform="translate(1134,1020) scale(0.14706)">
<clipPath id="hr23"><path d="M0,0 1800,0 1800,1250 0,1250Z"/></clipPath>
<g clip-path="url(#hr23)" opacity="1"><rect x="-20" y="-20" width="1840" height="1290" fill="#cca8d6"/><rect x="-20" y="-20" width="1840" height="1290" filter="url(#fxpur)"/></g>
<path d="M22,368Q22,35 141,35Q260,35 270,218Q280,400 265,550Q250,700 136,700Q22,700 22,368Z" fill="#b080c0" opacity="0.35" filter="url(#hb20)"/>
<path d="M560,168Q560,35 705,35Q850,35 855,168Q860,300 780,360Q700,420 630,360Q560,300 560,168Z" fill="#b080c0" opacity="0.35" filter="url(#hb20)"/>
<path d="M1275,210Q1250,120 1400,90Q1550,60 1630,90Q1710,120 1705,250Q1700,380 1600,400Q1500,420 1400,360Q1300,300 1275,210Z" fill="#b080c0" opacity="0.35" filter="url(#hb20)"/>
<path d="M325,1000Q300,850 425,825Q550,800 625,850Q700,900 675,1025Q650,1150 500,1150Q350,1150 325,1000Z" fill="#b080c0" opacity="0.35" filter="url(#hb20)"/>
<mask id="hr24" maskUnits="userSpaceOnUse" x="-4" y="854" width="480" height="372"><path d="M22,1050Q22,900 86,890Q150,880 225,915Q300,950 360,1025Q420,1100 435,1150Q450,1200 236,1200Q22,1200 22,1050Z" fill="#fff" filter="url(#hs2)"/></mask>
<g mask="url(#hr24)" opacity="1"><rect x="-4" y="854" width="480" height="372" fill="#f6f8f3"/><rect x="-4" y="854" width="480" height="372" filter="url(#fxalv)"/></g>
<mask id="hr25" maskUnits="userSpaceOnUse" x="754" y="634" width="872" height="592"><path d="M790,860Q800,720 950,690Q1100,660 1250,680Q1400,700 1460,800Q1520,900 1560,1000Q1600,1100 1550,1150Q1500,1200 1200,1200Q900,1200 840,1100Q780,1000 790,860Z" fill="#fff" filter="url(#hs2)"/></mask>
<g mask="url(#hr25)" opacity="1"><rect x="754" y="634" width="872" height="592" fill="#f6f8f3"/><rect x="754" y="634" width="872" height="592" filter="url(#fxalv)"/></g>
<path d="M790,860Q800,720 950,690Q1100,660 1250,680Q1400,700 1460,800Q1520,900 1560,1000Q1600,1100 1550,1150Q1500,1200 1200,1200Q900,1200 840,1100Q780,1000 790,860Z" fill="#e8a0c4" opacity="0.3" filter="url(#hb20)"/>
<mask id="hr26" maskUnits="userSpaceOnUse" x="827" y="12" width="496" height="171"><path d="M865,78Q850,35 1075,35Q1300,35 1275,92Q1250,150 1125,155Q1000,160 940,140Q880,120 865,78Z" fill="#fff" filter="url(#hs1)"/></mask>
<g mask="url(#hr26)" opacity="1"><rect x="827" y="12" width="496" height="171" fill="#f6e2ec"/><rect x="827" y="12" width="496" height="171" filter="url(#fxden)"/></g>
<mask id="hr27" maskUnits="userSpaceOnUse" x="1477" y="337" width="256" height="336"><path d="M1510,450Q1500,380 1560,370Q1620,360 1665,390Q1710,420 1710,535Q1710,650 1655,645Q1600,640 1560,580Q1520,520 1510,450Z" fill="#fff" filter="url(#hs1)"/></mask>
<g mask="url(#hr27)" opacity="1"><rect x="1477" y="337" width="256" height="336" fill="#f6e2ec"/><rect x="1477" y="337" width="256" height="336" filter="url(#fxden)"/></g>
<mask id="hr28" maskUnits="userSpaceOnUse" x="577" y="697" width="166" height="206"><path d="M600,760Q600,720 650,720Q700,720 710,790Q720,860 680,870Q640,880 620,840Q600,800 600,760Z" fill="#fff" filter="url(#hs1)"/></mask>
<g mask="url(#hr28)" opacity="1"><rect x="577" y="697" width="166" height="206" fill="#f6e2ec"/><rect x="577" y="697" width="166" height="206" filter="url(#fxden)"/></g>
<path d="M1055,865Q1030,840 1065,845Q1100,850 1190,900Q1280,950 1265,955Q1250,960 1165,925Q1080,890 1055,865Z" fill="#e890a8" opacity="0.9"/>
<path d="M270,130 L560,200 L580,280 M270,130 L280,700 M380,320 L400,700" stroke="#e4a0c8" stroke-width="12" fill="none" opacity="0.45"/>
<path d="M740,260 L1010,280 M740,260 L760,600" stroke="#e4a0c8" stroke-width="10" fill="none" opacity="0.4"/>
<ellipse cx="1360" cy="630" rx="55" ry="55" transform="rotate(0 1360 630)" fill="#f6f2f4" stroke="#b070b0" stroke-width="10"/>
<ellipse cx="760" cy="945" rx="35" ry="40" transform="rotate(0 760 945)" fill="#f6f2f4" stroke="#b070b0" stroke-width="10"/>
<ellipse cx="1600" cy="860" rx="40" ry="75" transform="rotate(-10 1600 860)" fill="#f6f2f4" stroke="#b070b0" stroke-width="10"/>
<ellipse cx="1130" cy="1160" rx="100" ry="50" transform="rotate(0 1130 1160)" fill="#f6f2f4" stroke="#b070b0" stroke-width="10"/>
<ellipse cx="120" cy="780" rx="40" ry="80" transform="rotate(-20 120 780)" fill="#f6f2f4" stroke="#b070b0" stroke-width="10"/>
<path d="M1000,440 L900,600" stroke="#fff" stroke-width="20"/>
<circle cx="890" cy="170" r="25" fill="#e86890" opacity="0.7"/>
<circle cx="1020" cy="190" r="18" fill="#e86890" opacity="0.7"/>
<circle cx="645" cy="675" r="20" fill="#e86890" opacity="0.7"/>
<circle cx="1090" cy="420" r="30" fill="#e86890" opacity="0.7"/>
<circle cx="1660" cy="730" r="14" fill="#e86890" opacity="0.7"/>
<rect x="1540" y="1122" width="60" height="14" fill="#111"/>
</g></g>
</svg></body></html>
